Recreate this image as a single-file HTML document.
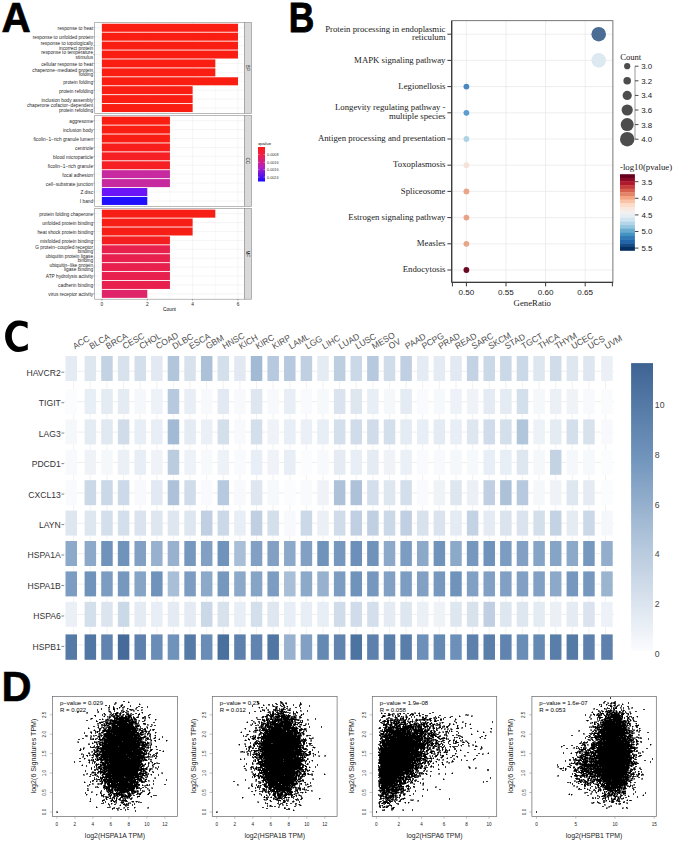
<!DOCTYPE html>
<html><head><meta charset="utf-8"><style>
html,body{margin:0;padding:0;background:#fff;}
svg{display:block;}
</style></head><body>
<svg width="685" height="841" viewBox="0 0 685 841">
<rect width="685" height="841" fill="#fff"/>
<g id="A">
<text x="0" y="0" transform="translate(1.6 32.0) scale(0.95 1)" font-family="&quot;Liberation Sans&quot;, sans-serif" font-weight="bold" font-size="42.6" fill="#000" stroke="#000" stroke-width="0.7">A</text>
<rect x="94.7" y="22.4" width="149.60000000000002" height="91.0" fill="#fff"/>
<line x1="101.9" y1="22.4" x2="101.9" y2="113.4" stroke="#ebebeb" stroke-width="0.5"/>
<line x1="124.6" y1="22.4" x2="124.6" y2="113.4" stroke="#ebebeb" stroke-width="0.3"/>
<line x1="147.3" y1="22.4" x2="147.3" y2="113.4" stroke="#ebebeb" stroke-width="0.5"/>
<line x1="169.9" y1="22.4" x2="169.9" y2="113.4" stroke="#ebebeb" stroke-width="0.3"/>
<line x1="192.6" y1="22.4" x2="192.6" y2="113.4" stroke="#ebebeb" stroke-width="0.5"/>
<line x1="215.3" y1="22.4" x2="215.3" y2="113.4" stroke="#ebebeb" stroke-width="0.3"/>
<line x1="238.0" y1="22.4" x2="238.0" y2="113.4" stroke="#ebebeb" stroke-width="0.5"/>
<line x1="94.7" y1="27.75" x2="244.3" y2="27.75" stroke="#ebebeb" stroke-width="0.5"/>
<line x1="94.7" y1="36.67" x2="244.3" y2="36.67" stroke="#ebebeb" stroke-width="0.5"/>
<line x1="94.7" y1="45.60" x2="244.3" y2="45.60" stroke="#ebebeb" stroke-width="0.5"/>
<line x1="94.7" y1="54.52" x2="244.3" y2="54.52" stroke="#ebebeb" stroke-width="0.5"/>
<line x1="94.7" y1="63.44" x2="244.3" y2="63.44" stroke="#ebebeb" stroke-width="0.5"/>
<line x1="94.7" y1="72.36" x2="244.3" y2="72.36" stroke="#ebebeb" stroke-width="0.5"/>
<line x1="94.7" y1="81.28" x2="244.3" y2="81.28" stroke="#ebebeb" stroke-width="0.5"/>
<line x1="94.7" y1="90.20" x2="244.3" y2="90.20" stroke="#ebebeb" stroke-width="0.5"/>
<line x1="94.7" y1="99.13" x2="244.3" y2="99.13" stroke="#ebebeb" stroke-width="0.5"/>
<line x1="94.7" y1="108.05" x2="244.3" y2="108.05" stroke="#ebebeb" stroke-width="0.5"/>
<rect x="101.9" y="23.74" width="136.08" height="8.03" fill="#f91d12"/>
<line x1="93.4" y1="27.75" x2="94.7" y2="27.75" stroke="#333" stroke-width="0.4"/>
<text x="93.1" y="30.15" text-anchor="end" font-family="&quot;Liberation Sans&quot;, sans-serif" font-size="4.77" fill="#262626">response to heat</text>
<rect x="101.9" y="32.66" width="136.08" height="8.03" fill="#f91d12"/>
<line x1="93.4" y1="36.67" x2="94.7" y2="36.67" stroke="#333" stroke-width="0.4"/>
<text x="93.1" y="39.07" text-anchor="end" font-family="&quot;Liberation Sans&quot;, sans-serif" font-size="4.77" fill="#262626">response to unfolded protein</text>
<rect x="101.9" y="41.58" width="136.08" height="8.03" fill="#f91d12"/>
<line x1="93.4" y1="45.60" x2="94.7" y2="45.60" stroke="#333" stroke-width="0.4"/>
<text x="93.1" y="45.00" text-anchor="end" font-family="&quot;Liberation Sans&quot;, sans-serif" font-size="4.77" fill="#262626">response to topologically</text>
<text x="93.1" y="49.70" text-anchor="end" font-family="&quot;Liberation Sans&quot;, sans-serif" font-size="4.77" fill="#262626">incorrect protein</text>
<rect x="101.9" y="50.50" width="136.08" height="8.03" fill="#f91d12"/>
<line x1="93.4" y1="54.52" x2="94.7" y2="54.52" stroke="#333" stroke-width="0.4"/>
<text x="93.1" y="53.92" text-anchor="end" font-family="&quot;Liberation Sans&quot;, sans-serif" font-size="4.77" fill="#262626">response to temperature</text>
<text x="93.1" y="58.62" text-anchor="end" font-family="&quot;Liberation Sans&quot;, sans-serif" font-size="4.77" fill="#262626">stimulus</text>
<rect x="101.9" y="59.42" width="113.40" height="8.03" fill="#f91d12"/>
<line x1="93.4" y1="63.44" x2="94.7" y2="63.44" stroke="#333" stroke-width="0.4"/>
<text x="93.1" y="65.84" text-anchor="end" font-family="&quot;Liberation Sans&quot;, sans-serif" font-size="4.77" fill="#262626">cellular response to heat</text>
<rect x="101.9" y="68.35" width="113.40" height="8.03" fill="#f91d12"/>
<line x1="93.4" y1="72.36" x2="94.7" y2="72.36" stroke="#333" stroke-width="0.4"/>
<text x="93.1" y="71.76" text-anchor="end" font-family="&quot;Liberation Sans&quot;, sans-serif" font-size="4.77" fill="#262626">chaperone−mediated protein</text>
<text x="93.1" y="76.46" text-anchor="end" font-family="&quot;Liberation Sans&quot;, sans-serif" font-size="4.77" fill="#262626">folding</text>
<rect x="101.9" y="77.27" width="136.08" height="8.03" fill="#f91d12"/>
<line x1="93.4" y1="81.28" x2="94.7" y2="81.28" stroke="#333" stroke-width="0.4"/>
<text x="93.1" y="83.68" text-anchor="end" font-family="&quot;Liberation Sans&quot;, sans-serif" font-size="4.77" fill="#262626">protein folding</text>
<rect x="101.9" y="86.19" width="90.72" height="8.03" fill="#f91d12"/>
<line x1="93.4" y1="90.20" x2="94.7" y2="90.20" stroke="#333" stroke-width="0.4"/>
<text x="93.1" y="92.60" text-anchor="end" font-family="&quot;Liberation Sans&quot;, sans-serif" font-size="4.77" fill="#262626">protein refolding</text>
<rect x="101.9" y="95.11" width="90.72" height="8.03" fill="#f91d12"/>
<line x1="93.4" y1="99.13" x2="94.7" y2="99.13" stroke="#333" stroke-width="0.4"/>
<text x="93.1" y="101.53" text-anchor="end" font-family="&quot;Liberation Sans&quot;, sans-serif" font-size="4.77" fill="#262626">inclusion body assembly</text>
<rect x="101.9" y="104.03" width="90.72" height="8.03" fill="#f91d12"/>
<line x1="93.4" y1="108.05" x2="94.7" y2="108.05" stroke="#333" stroke-width="0.4"/>
<text x="93.1" y="107.45" text-anchor="end" font-family="&quot;Liberation Sans&quot;, sans-serif" font-size="4.77" fill="#262626">chaperone cofactor−dependent</text>
<text x="93.1" y="112.15" text-anchor="end" font-family="&quot;Liberation Sans&quot;, sans-serif" font-size="4.77" fill="#262626">protein refolding</text>
<rect x="94.7" y="22.4" width="149.60000000000002" height="91.0" fill="none" stroke="#8c8c8c" stroke-width="0.6"/>
<rect x="244.3" y="22.4" width="7.299999999999983" height="91.0" fill="#d9d9d9" stroke="#8c8c8c" stroke-width="0.6"/>
<text x="246.35" y="67.90" text-anchor="middle" transform="rotate(90 246.35 67.90)" font-family="&quot;Liberation Sans&quot;, sans-serif" font-size="4.6" fill="#1a1a1a">BP</text>
<rect x="94.7" y="115.3" width="149.60000000000002" height="91.00000000000001" fill="#fff"/>
<line x1="101.9" y1="115.3" x2="101.9" y2="206.3" stroke="#ebebeb" stroke-width="0.5"/>
<line x1="124.6" y1="115.3" x2="124.6" y2="206.3" stroke="#ebebeb" stroke-width="0.3"/>
<line x1="147.3" y1="115.3" x2="147.3" y2="206.3" stroke="#ebebeb" stroke-width="0.5"/>
<line x1="169.9" y1="115.3" x2="169.9" y2="206.3" stroke="#ebebeb" stroke-width="0.3"/>
<line x1="192.6" y1="115.3" x2="192.6" y2="206.3" stroke="#ebebeb" stroke-width="0.5"/>
<line x1="215.3" y1="115.3" x2="215.3" y2="206.3" stroke="#ebebeb" stroke-width="0.3"/>
<line x1="238.0" y1="115.3" x2="238.0" y2="206.3" stroke="#ebebeb" stroke-width="0.5"/>
<line x1="94.7" y1="120.65" x2="244.3" y2="120.65" stroke="#ebebeb" stroke-width="0.5"/>
<line x1="94.7" y1="129.57" x2="244.3" y2="129.57" stroke="#ebebeb" stroke-width="0.5"/>
<line x1="94.7" y1="138.50" x2="244.3" y2="138.50" stroke="#ebebeb" stroke-width="0.5"/>
<line x1="94.7" y1="147.42" x2="244.3" y2="147.42" stroke="#ebebeb" stroke-width="0.5"/>
<line x1="94.7" y1="156.34" x2="244.3" y2="156.34" stroke="#ebebeb" stroke-width="0.5"/>
<line x1="94.7" y1="165.26" x2="244.3" y2="165.26" stroke="#ebebeb" stroke-width="0.5"/>
<line x1="94.7" y1="174.18" x2="244.3" y2="174.18" stroke="#ebebeb" stroke-width="0.5"/>
<line x1="94.7" y1="183.10" x2="244.3" y2="183.10" stroke="#ebebeb" stroke-width="0.5"/>
<line x1="94.7" y1="192.03" x2="244.3" y2="192.03" stroke="#ebebeb" stroke-width="0.5"/>
<line x1="94.7" y1="200.95" x2="244.3" y2="200.95" stroke="#ebebeb" stroke-width="0.5"/>
<rect x="101.9" y="116.64" width="68.04" height="8.03" fill="#f91d12"/>
<line x1="93.4" y1="120.65" x2="94.7" y2="120.65" stroke="#333" stroke-width="0.4"/>
<text x="93.1" y="123.05" text-anchor="end" font-family="&quot;Liberation Sans&quot;, sans-serif" font-size="4.77" fill="#262626">aggresome</text>
<rect x="101.9" y="125.56" width="68.04" height="8.03" fill="#f91d12"/>
<line x1="93.4" y1="129.57" x2="94.7" y2="129.57" stroke="#333" stroke-width="0.4"/>
<text x="93.1" y="131.97" text-anchor="end" font-family="&quot;Liberation Sans&quot;, sans-serif" font-size="4.77" fill="#262626">inclusion body</text>
<rect x="101.9" y="134.48" width="68.04" height="8.03" fill="#f91e14"/>
<line x1="93.4" y1="138.50" x2="94.7" y2="138.50" stroke="#333" stroke-width="0.4"/>
<text x="93.1" y="140.90" text-anchor="end" font-family="&quot;Liberation Sans&quot;, sans-serif" font-size="4.77" fill="#262626">ficolin−1−rich granule lumen</text>
<rect x="101.9" y="143.40" width="68.04" height="8.03" fill="#f71e1c"/>
<line x1="93.4" y1="147.42" x2="94.7" y2="147.42" stroke="#333" stroke-width="0.4"/>
<text x="93.1" y="149.82" text-anchor="end" font-family="&quot;Liberation Sans&quot;, sans-serif" font-size="4.77" fill="#262626">centriole</text>
<rect x="101.9" y="152.32" width="68.04" height="8.03" fill="#f51f24"/>
<line x1="93.4" y1="156.34" x2="94.7" y2="156.34" stroke="#333" stroke-width="0.4"/>
<text x="93.1" y="158.74" text-anchor="end" font-family="&quot;Liberation Sans&quot;, sans-serif" font-size="4.77" fill="#262626">blood microparticle</text>
<rect x="101.9" y="161.25" width="68.04" height="8.03" fill="#f51f24"/>
<line x1="93.4" y1="165.26" x2="94.7" y2="165.26" stroke="#333" stroke-width="0.4"/>
<text x="93.1" y="167.66" text-anchor="end" font-family="&quot;Liberation Sans&quot;, sans-serif" font-size="4.77" fill="#262626">ficolin−1−rich granule</text>
<rect x="101.9" y="170.17" width="68.04" height="8.03" fill="#c62a9e"/>
<line x1="93.4" y1="174.18" x2="94.7" y2="174.18" stroke="#333" stroke-width="0.4"/>
<text x="93.1" y="176.58" text-anchor="end" font-family="&quot;Liberation Sans&quot;, sans-serif" font-size="4.77" fill="#262626">focal adhesion</text>
<rect x="101.9" y="179.09" width="68.04" height="8.03" fill="#c62a9e"/>
<line x1="93.4" y1="183.10" x2="94.7" y2="183.10" stroke="#333" stroke-width="0.4"/>
<text x="93.1" y="185.50" text-anchor="end" font-family="&quot;Liberation Sans&quot;, sans-serif" font-size="4.77" fill="#262626">cell−substrate junction</text>
<rect x="101.9" y="188.01" width="45.36" height="8.03" fill="#6c14f8"/>
<line x1="93.4" y1="192.03" x2="94.7" y2="192.03" stroke="#333" stroke-width="0.4"/>
<text x="93.1" y="194.43" text-anchor="end" font-family="&quot;Liberation Sans&quot;, sans-serif" font-size="4.77" fill="#262626">Z disc</text>
<rect x="101.9" y="196.93" width="45.36" height="8.03" fill="#2010fd"/>
<line x1="93.4" y1="200.95" x2="94.7" y2="200.95" stroke="#333" stroke-width="0.4"/>
<text x="93.1" y="203.35" text-anchor="end" font-family="&quot;Liberation Sans&quot;, sans-serif" font-size="4.77" fill="#262626">I band</text>
<rect x="94.7" y="115.3" width="149.60000000000002" height="91.00000000000001" fill="none" stroke="#8c8c8c" stroke-width="0.6"/>
<rect x="244.3" y="115.3" width="7.299999999999983" height="91.00000000000001" fill="#d9d9d9" stroke="#8c8c8c" stroke-width="0.6"/>
<text x="246.35" y="160.80" text-anchor="middle" transform="rotate(90 246.35 160.80)" font-family="&quot;Liberation Sans&quot;, sans-serif" font-size="4.6" fill="#1a1a1a">CC</text>
<rect x="94.7" y="208.3" width="149.60000000000002" height="90.89999999999998" fill="#fff"/>
<line x1="101.9" y1="208.3" x2="101.9" y2="299.2" stroke="#ebebeb" stroke-width="0.5"/>
<line x1="124.6" y1="208.3" x2="124.6" y2="299.2" stroke="#ebebeb" stroke-width="0.3"/>
<line x1="147.3" y1="208.3" x2="147.3" y2="299.2" stroke="#ebebeb" stroke-width="0.5"/>
<line x1="169.9" y1="208.3" x2="169.9" y2="299.2" stroke="#ebebeb" stroke-width="0.3"/>
<line x1="192.6" y1="208.3" x2="192.6" y2="299.2" stroke="#ebebeb" stroke-width="0.5"/>
<line x1="215.3" y1="208.3" x2="215.3" y2="299.2" stroke="#ebebeb" stroke-width="0.3"/>
<line x1="238.0" y1="208.3" x2="238.0" y2="299.2" stroke="#ebebeb" stroke-width="0.5"/>
<line x1="94.7" y1="213.65" x2="244.3" y2="213.65" stroke="#ebebeb" stroke-width="0.5"/>
<line x1="94.7" y1="222.56" x2="244.3" y2="222.56" stroke="#ebebeb" stroke-width="0.5"/>
<line x1="94.7" y1="231.47" x2="244.3" y2="231.47" stroke="#ebebeb" stroke-width="0.5"/>
<line x1="94.7" y1="240.38" x2="244.3" y2="240.38" stroke="#ebebeb" stroke-width="0.5"/>
<line x1="94.7" y1="249.29" x2="244.3" y2="249.29" stroke="#ebebeb" stroke-width="0.5"/>
<line x1="94.7" y1="258.21" x2="244.3" y2="258.21" stroke="#ebebeb" stroke-width="0.5"/>
<line x1="94.7" y1="267.12" x2="244.3" y2="267.12" stroke="#ebebeb" stroke-width="0.5"/>
<line x1="94.7" y1="276.03" x2="244.3" y2="276.03" stroke="#ebebeb" stroke-width="0.5"/>
<line x1="94.7" y1="284.94" x2="244.3" y2="284.94" stroke="#ebebeb" stroke-width="0.5"/>
<line x1="94.7" y1="293.85" x2="244.3" y2="293.85" stroke="#ebebeb" stroke-width="0.5"/>
<rect x="101.9" y="209.64" width="113.40" height="8.02" fill="#f71e16"/>
<line x1="93.4" y1="213.65" x2="94.7" y2="213.65" stroke="#333" stroke-width="0.4"/>
<text x="93.1" y="216.05" text-anchor="end" font-family="&quot;Liberation Sans&quot;, sans-serif" font-size="4.77" fill="#262626">protein folding chaperone</text>
<rect x="101.9" y="218.55" width="90.72" height="8.02" fill="#f71e16"/>
<line x1="93.4" y1="222.56" x2="94.7" y2="222.56" stroke="#333" stroke-width="0.4"/>
<text x="93.1" y="224.96" text-anchor="end" font-family="&quot;Liberation Sans&quot;, sans-serif" font-size="4.77" fill="#262626">unfolded protein binding</text>
<rect x="101.9" y="227.46" width="90.72" height="8.02" fill="#f71e16"/>
<line x1="93.4" y1="231.47" x2="94.7" y2="231.47" stroke="#333" stroke-width="0.4"/>
<text x="93.1" y="233.87" text-anchor="end" font-family="&quot;Liberation Sans&quot;, sans-serif" font-size="4.77" fill="#262626">heat shock protein binding</text>
<rect x="101.9" y="236.37" width="68.04" height="8.02" fill="#f41e20"/>
<line x1="93.4" y1="240.38" x2="94.7" y2="240.38" stroke="#333" stroke-width="0.4"/>
<text x="93.1" y="242.78" text-anchor="end" font-family="&quot;Liberation Sans&quot;, sans-serif" font-size="4.77" fill="#262626">misfolded protein binding</text>
<rect x="101.9" y="245.28" width="68.04" height="8.02" fill="#e8204e"/>
<line x1="93.4" y1="249.29" x2="94.7" y2="249.29" stroke="#333" stroke-width="0.4"/>
<text x="93.1" y="248.69" text-anchor="end" font-family="&quot;Liberation Sans&quot;, sans-serif" font-size="4.77" fill="#262626">G protein−coupled receptor</text>
<text x="93.1" y="253.39" text-anchor="end" font-family="&quot;Liberation Sans&quot;, sans-serif" font-size="4.77" fill="#262626">binding</text>
<rect x="101.9" y="254.20" width="68.04" height="8.02" fill="#e8204e"/>
<line x1="93.4" y1="258.21" x2="94.7" y2="258.21" stroke="#333" stroke-width="0.4"/>
<text x="93.1" y="257.61" text-anchor="end" font-family="&quot;Liberation Sans&quot;, sans-serif" font-size="4.77" fill="#262626">ubiquitin protein ligase</text>
<text x="93.1" y="262.31" text-anchor="end" font-family="&quot;Liberation Sans&quot;, sans-serif" font-size="4.77" fill="#262626">binding</text>
<rect x="101.9" y="263.11" width="68.04" height="8.02" fill="#e8204e"/>
<line x1="93.4" y1="267.12" x2="94.7" y2="267.12" stroke="#333" stroke-width="0.4"/>
<text x="93.1" y="266.52" text-anchor="end" font-family="&quot;Liberation Sans&quot;, sans-serif" font-size="4.77" fill="#262626">ubiquitin−like protein</text>
<text x="93.1" y="271.22" text-anchor="end" font-family="&quot;Liberation Sans&quot;, sans-serif" font-size="4.77" fill="#262626">ligase binding</text>
<rect x="101.9" y="272.02" width="68.04" height="8.02" fill="#e8204e"/>
<line x1="93.4" y1="276.03" x2="94.7" y2="276.03" stroke="#333" stroke-width="0.4"/>
<text x="93.1" y="278.43" text-anchor="end" font-family="&quot;Liberation Sans&quot;, sans-serif" font-size="4.77" fill="#262626">ATP hydrolysis activity</text>
<rect x="101.9" y="280.93" width="68.04" height="8.02" fill="#e8204e"/>
<line x1="93.4" y1="284.94" x2="94.7" y2="284.94" stroke="#333" stroke-width="0.4"/>
<text x="93.1" y="287.34" text-anchor="end" font-family="&quot;Liberation Sans&quot;, sans-serif" font-size="4.77" fill="#262626">cadherin binding</text>
<rect x="101.9" y="289.84" width="45.36" height="8.02" fill="#e0246a"/>
<line x1="93.4" y1="293.85" x2="94.7" y2="293.85" stroke="#333" stroke-width="0.4"/>
<text x="93.1" y="296.25" text-anchor="end" font-family="&quot;Liberation Sans&quot;, sans-serif" font-size="4.77" fill="#262626">virus receptor activity</text>
<rect x="94.7" y="208.3" width="149.60000000000002" height="90.89999999999998" fill="none" stroke="#8c8c8c" stroke-width="0.6"/>
<rect x="244.3" y="208.3" width="7.299999999999983" height="90.89999999999998" fill="#d9d9d9" stroke="#8c8c8c" stroke-width="0.6"/>
<text x="246.35" y="253.75" text-anchor="middle" transform="rotate(90 246.35 253.75)" font-family="&quot;Liberation Sans&quot;, sans-serif" font-size="4.6" fill="#1a1a1a">MF</text>
<line x1="101.9" y1="299.2" x2="101.9" y2="300.6" stroke="#333" stroke-width="0.4"/>
<text x="101.9" y="306.1" text-anchor="middle" font-family="&quot;Liberation Sans&quot;, sans-serif" font-size="4.77" fill="#262626">0</text>
<line x1="147.3" y1="299.2" x2="147.3" y2="300.6" stroke="#333" stroke-width="0.4"/>
<text x="147.3" y="306.1" text-anchor="middle" font-family="&quot;Liberation Sans&quot;, sans-serif" font-size="4.77" fill="#262626">2</text>
<line x1="192.6" y1="299.2" x2="192.6" y2="300.6" stroke="#333" stroke-width="0.4"/>
<text x="192.6" y="306.1" text-anchor="middle" font-family="&quot;Liberation Sans&quot;, sans-serif" font-size="4.77" fill="#262626">4</text>
<line x1="238.0" y1="299.2" x2="238.0" y2="300.6" stroke="#333" stroke-width="0.4"/>
<text x="238.0" y="306.1" text-anchor="middle" font-family="&quot;Liberation Sans&quot;, sans-serif" font-size="4.77" fill="#262626">6</text>
<text x="169.5" y="311" text-anchor="middle" font-family="&quot;Liberation Sans&quot;, sans-serif" font-size="4.8" fill="#000">Count</text>
<text x="258.2" y="145" font-family="&quot;Liberation Sans&quot;, sans-serif" font-size="4.4" fill="#111">qvalue</text>
<defs><linearGradient id="qg" x1="0" y1="0" x2="0" y2="1"><stop offset="0" stop-color="#ff1a14"/><stop offset="0.3" stop-color="#e8205a"/><stop offset="0.6" stop-color="#b020c8"/><stop offset="1" stop-color="#1a0aff"/></linearGradient></defs>
<rect x="258" y="147" width="7" height="34.5" fill="url(#qg)"/>
<line x1="258" y1="154.6" x2="259.4" y2="154.6" stroke="#fff" stroke-width="0.4"/><line x1="263.6" y1="154.6" x2="265" y2="154.6" stroke="#fff" stroke-width="0.4"/>
<text x="267" y="156.0" font-family="&quot;Liberation Sans&quot;, sans-serif" font-size="3.75" fill="#333">0.0008</text>
<line x1="258" y1="162.3" x2="259.4" y2="162.3" stroke="#fff" stroke-width="0.4"/><line x1="263.6" y1="162.3" x2="265" y2="162.3" stroke="#fff" stroke-width="0.4"/>
<text x="267" y="163.7" font-family="&quot;Liberation Sans&quot;, sans-serif" font-size="3.75" fill="#333">0.0016</text>
<line x1="258" y1="169.6" x2="259.4" y2="169.6" stroke="#fff" stroke-width="0.4"/><line x1="263.6" y1="169.6" x2="265" y2="169.6" stroke="#fff" stroke-width="0.4"/>
<text x="267" y="171.0" font-family="&quot;Liberation Sans&quot;, sans-serif" font-size="3.75" fill="#333">0.0016</text>
<line x1="258" y1="177.1" x2="259.4" y2="177.1" stroke="#fff" stroke-width="0.4"/><line x1="263.6" y1="177.1" x2="265" y2="177.1" stroke="#fff" stroke-width="0.4"/>
<text x="267" y="178.5" font-family="&quot;Liberation Sans&quot;, sans-serif" font-size="3.75" fill="#333">0.0024</text>
</g>
<g id="B">
<text x="0" y="0" transform="translate(288.7 32.0) scale(0.835 1)" font-family="&quot;Liberation Sans&quot;, sans-serif" font-weight="bold" font-size="42.4" fill="#000" stroke="#000" stroke-width="0.9">B</text>
<line x1="466.4" y1="20.7" x2="466.4" y2="282.3" stroke="#e6e6e6" stroke-width="0.7"/>
<line x1="506.0" y1="20.7" x2="506.0" y2="282.3" stroke="#e6e6e6" stroke-width="0.7"/>
<line x1="545.6" y1="20.7" x2="545.6" y2="282.3" stroke="#e6e6e6" stroke-width="0.7"/>
<line x1="585.2" y1="20.7" x2="585.2" y2="282.3" stroke="#e6e6e6" stroke-width="0.7"/>
<line x1="451.7" y1="34.2" x2="612.9" y2="34.2" stroke="#e6e6e6" stroke-width="0.7"/>
<line x1="451.7" y1="60.4" x2="612.9" y2="60.4" stroke="#e6e6e6" stroke-width="0.7"/>
<line x1="451.7" y1="86.6" x2="612.9" y2="86.6" stroke="#e6e6e6" stroke-width="0.7"/>
<line x1="451.7" y1="112.8" x2="612.9" y2="112.8" stroke="#e6e6e6" stroke-width="0.7"/>
<line x1="451.7" y1="139.0" x2="612.9" y2="139.0" stroke="#e6e6e6" stroke-width="0.7"/>
<line x1="451.7" y1="165.2" x2="612.9" y2="165.2" stroke="#e6e6e6" stroke-width="0.7"/>
<line x1="451.7" y1="191.4" x2="612.9" y2="191.4" stroke="#e6e6e6" stroke-width="0.7"/>
<line x1="451.7" y1="217.6" x2="612.9" y2="217.6" stroke="#e6e6e6" stroke-width="0.7"/>
<line x1="451.7" y1="243.8" x2="612.9" y2="243.8" stroke="#e6e6e6" stroke-width="0.7"/>
<line x1="451.7" y1="270.0" x2="612.9" y2="270.0" stroke="#e6e6e6" stroke-width="0.7"/>
<rect x="451.7" y="20.7" width="161.2" height="261.6" fill="none" stroke="#555" stroke-width="0.8"/>
<line x1="451.7" y1="20.7" x2="451.7" y2="282.3" stroke="#3a3a3a" stroke-width="1.3"/>
<line x1="451.7" y1="282.3" x2="612.9" y2="282.3" stroke="#3a3a3a" stroke-width="1.3"/>
<line x1="447.4" y1="34.2" x2="451.7" y2="34.2" stroke="#3a3a3a" stroke-width="1"/>
<text x="445.5" y="31.8" text-anchor="end" font-family="&quot;Liberation Serif&quot;, serif" font-size="8.75" fill="#222">Protein processing in endoplasmic</text>
<text x="445.5" y="40.4" text-anchor="end" font-family="&quot;Liberation Serif&quot;, serif" font-size="8.75" fill="#222">reticulum</text>
<line x1="447.4" y1="60.4" x2="451.7" y2="60.4" stroke="#3a3a3a" stroke-width="1"/>
<text x="445.5" y="62.6" text-anchor="end" font-family="&quot;Liberation Serif&quot;, serif" font-size="8.75" fill="#222">MAPK signaling pathway</text>
<line x1="447.4" y1="86.6" x2="451.7" y2="86.6" stroke="#3a3a3a" stroke-width="1"/>
<text x="445.5" y="88.8" text-anchor="end" font-family="&quot;Liberation Serif&quot;, serif" font-size="8.75" fill="#222">Legionellosis</text>
<line x1="447.4" y1="112.8" x2="451.7" y2="112.8" stroke="#3a3a3a" stroke-width="1"/>
<text x="445.5" y="110.4" text-anchor="end" font-family="&quot;Liberation Serif&quot;, serif" font-size="8.75" fill="#222">Longevity regulating pathway -</text>
<text x="445.5" y="119.0" text-anchor="end" font-family="&quot;Liberation Serif&quot;, serif" font-size="8.75" fill="#222">multiple species</text>
<line x1="447.4" y1="139.0" x2="451.7" y2="139.0" stroke="#3a3a3a" stroke-width="1"/>
<text x="445.5" y="141.2" text-anchor="end" font-family="&quot;Liberation Serif&quot;, serif" font-size="8.75" fill="#222">Antigen processing and presentation</text>
<line x1="447.4" y1="165.2" x2="451.7" y2="165.2" stroke="#3a3a3a" stroke-width="1"/>
<text x="445.5" y="167.4" text-anchor="end" font-family="&quot;Liberation Serif&quot;, serif" font-size="8.75" fill="#222">Toxoplasmosis</text>
<line x1="447.4" y1="191.4" x2="451.7" y2="191.4" stroke="#3a3a3a" stroke-width="1"/>
<text x="445.5" y="193.6" text-anchor="end" font-family="&quot;Liberation Serif&quot;, serif" font-size="8.75" fill="#222">Spliceosome</text>
<line x1="447.4" y1="217.6" x2="451.7" y2="217.6" stroke="#3a3a3a" stroke-width="1"/>
<text x="445.5" y="219.8" text-anchor="end" font-family="&quot;Liberation Serif&quot;, serif" font-size="8.75" fill="#222">Estrogen signaling pathway</text>
<line x1="447.4" y1="243.8" x2="451.7" y2="243.8" stroke="#3a3a3a" stroke-width="1"/>
<text x="445.5" y="246.0" text-anchor="end" font-family="&quot;Liberation Serif&quot;, serif" font-size="8.75" fill="#222">Measles</text>
<line x1="447.4" y1="270.0" x2="451.7" y2="270.0" stroke="#3a3a3a" stroke-width="1"/>
<text x="445.5" y="272.2" text-anchor="end" font-family="&quot;Liberation Serif&quot;, serif" font-size="8.75" fill="#222">Endocytosis</text>
<line x1="466.4" y1="282.3" x2="466.4" y2="286.4" stroke="#3a3a3a" stroke-width="1"/>
<text x="466.4" y="295.2" text-anchor="middle" font-family="&quot;Liberation Sans&quot;, sans-serif" font-size="8.1" fill="#1a1a1a">0.50</text>
<line x1="506.0" y1="282.3" x2="506.0" y2="286.4" stroke="#3a3a3a" stroke-width="1"/>
<text x="506.0" y="295.2" text-anchor="middle" font-family="&quot;Liberation Sans&quot;, sans-serif" font-size="8.1" fill="#1a1a1a">0.55</text>
<line x1="545.6" y1="282.3" x2="545.6" y2="286.4" stroke="#3a3a3a" stroke-width="1"/>
<text x="545.6" y="295.2" text-anchor="middle" font-family="&quot;Liberation Sans&quot;, sans-serif" font-size="8.1" fill="#1a1a1a">0.60</text>
<line x1="585.2" y1="282.3" x2="585.2" y2="286.4" stroke="#3a3a3a" stroke-width="1"/>
<text x="585.2" y="295.2" text-anchor="middle" font-family="&quot;Liberation Sans&quot;, sans-serif" font-size="8.1" fill="#1a1a1a">0.65</text>
<line x1="452.4" y1="282.3" x2="452.4" y2="286.4" stroke="#3a3a3a" stroke-width="1"/>
<line x1="612.4" y1="282.3" x2="612.4" y2="286.4" stroke="#3a3a3a" stroke-width="1"/>
<text x="532.3" y="306" text-anchor="middle" font-family="&quot;Liberation Serif&quot;, serif" font-size="8.75" fill="#1a1a1a">GeneRatio</text>
<circle cx="598.7" cy="34.2" r="7.3" fill="#4b6c95"/>
<circle cx="598.7" cy="60.4" r="7.3" fill="#dce9f0"/>
<circle cx="466.4" cy="86.6" r="2.9" fill="#4a88c0"/>
<circle cx="466.4" cy="112.8" r="2.9" fill="#5d9ecf"/>
<circle cx="466.4" cy="139.0" r="2.9" fill="#aed3e6"/>
<circle cx="466.4" cy="165.2" r="2.9" fill="#f4e3d9"/>
<circle cx="466.4" cy="191.4" r="2.9" fill="#e9a585"/>
<circle cx="466.4" cy="217.6" r="2.9" fill="#e9a283"/>
<circle cx="466.4" cy="243.8" r="2.9" fill="#e8a688"/>
<circle cx="466.4" cy="270.0" r="2.9" fill="#6a0a22"/>
<text x="620.2" y="59.8" font-family="&quot;Liberation Serif&quot;, serif" font-size="8.6" fill="#1a1a1a">Count</text>
<line x1="635" y1="66.2" x2="635" y2="139.2" stroke="#999" stroke-width="1"/>
<circle cx="627.2" cy="66.2" r="3.1" fill="#4d4d4d"/>
<line x1="635" y1="66.2" x2="638.5" y2="66.2" stroke="#333" stroke-width="0.9"/>
<text x="641.2" y="69.1" font-family="&quot;Liberation Sans&quot;, sans-serif" font-size="7.9" fill="#1a1a1a">3.0</text>
<circle cx="627.2" cy="80.8" r="3.8" fill="#4d4d4d"/>
<line x1="635" y1="80.8" x2="638.5" y2="80.8" stroke="#333" stroke-width="0.9"/>
<text x="641.2" y="83.7" font-family="&quot;Liberation Sans&quot;, sans-serif" font-size="7.9" fill="#1a1a1a">3.2</text>
<circle cx="627.2" cy="95.4" r="4.6" fill="#4d4d4d"/>
<line x1="635" y1="95.4" x2="638.5" y2="95.4" stroke="#333" stroke-width="0.9"/>
<text x="641.2" y="98.3" font-family="&quot;Liberation Sans&quot;, sans-serif" font-size="7.9" fill="#1a1a1a">3.4</text>
<circle cx="627.2" cy="110.0" r="5.6" fill="#4d4d4d"/>
<line x1="635" y1="110.0" x2="638.5" y2="110.0" stroke="#333" stroke-width="0.9"/>
<text x="641.2" y="112.9" font-family="&quot;Liberation Sans&quot;, sans-serif" font-size="7.9" fill="#1a1a1a">3.6</text>
<circle cx="627.2" cy="124.6" r="6.5" fill="#4d4d4d"/>
<line x1="635" y1="124.6" x2="638.5" y2="124.6" stroke="#333" stroke-width="0.9"/>
<text x="641.2" y="127.5" font-family="&quot;Liberation Sans&quot;, sans-serif" font-size="7.9" fill="#1a1a1a">3.8</text>
<circle cx="627.2" cy="139.2" r="7.2" fill="#4d4d4d"/>
<line x1="635" y1="139.2" x2="638.5" y2="139.2" stroke="#333" stroke-width="0.9"/>
<text x="641.2" y="142.1" font-family="&quot;Liberation Sans&quot;, sans-serif" font-size="7.9" fill="#1a1a1a">4.0</text>
<text x="620" y="169.6" font-family="&quot;Liberation Serif&quot;, serif" font-size="8.78" fill="#1a1a1a">-log10(pvalue)</text>
<rect x="620" y="174.20" width="14.9" height="3.93" fill="#67001f"/>
<rect x="620" y="177.83" width="14.9" height="3.93" fill="#8a0b25"/>
<rect x="620" y="181.47" width="14.9" height="3.93" fill="#b2182b"/>
<rect x="620" y="185.10" width="14.9" height="3.93" fill="#c43c3c"/>
<rect x="620" y="188.73" width="14.9" height="3.93" fill="#d6604d"/>
<rect x="620" y="192.37" width="14.9" height="3.93" fill="#e58368"/>
<rect x="620" y="196.00" width="14.9" height="3.93" fill="#f4a582"/>
<rect x="620" y="199.63" width="14.9" height="3.93" fill="#f8c3a6"/>
<rect x="620" y="203.27" width="14.9" height="3.93" fill="#fddbc7"/>
<rect x="620" y="206.90" width="14.9" height="3.93" fill="#f8e8df"/>
<rect x="620" y="210.53" width="14.9" height="3.93" fill="#f2efee"/>
<rect x="620" y="214.17" width="14.9" height="3.93" fill="#e4eef4"/>
<rect x="620" y="217.80" width="14.9" height="3.93" fill="#d1e5f0"/>
<rect x="620" y="221.43" width="14.9" height="3.93" fill="#b4d5e8"/>
<rect x="620" y="225.07" width="14.9" height="3.93" fill="#92c5de"/>
<rect x="620" y="228.70" width="14.9" height="3.93" fill="#6aaccf"/>
<rect x="620" y="232.33" width="14.9" height="3.93" fill="#4393c3"/>
<rect x="620" y="235.97" width="14.9" height="3.93" fill="#3379b5"/>
<rect x="620" y="239.60" width="14.9" height="3.93" fill="#2166ac"/>
<rect x="620" y="243.23" width="14.9" height="3.93" fill="#144c88"/>
<rect x="620" y="246.87" width="14.9" height="3.93" fill="#053061"/>
<line x1="634.9" y1="181.7" x2="638.5" y2="181.7" stroke="#333" stroke-width="0.9"/>
<text x="641.4" y="184.6" font-family="&quot;Liberation Sans&quot;, sans-serif" font-size="7.9" fill="#1a1a1a">3.5</text>
<line x1="634.9" y1="198.3" x2="638.5" y2="198.3" stroke="#333" stroke-width="0.9"/>
<text x="641.4" y="201.2" font-family="&quot;Liberation Sans&quot;, sans-serif" font-size="7.9" fill="#1a1a1a">4.0</text>
<line x1="634.9" y1="214.9" x2="638.5" y2="214.9" stroke="#333" stroke-width="0.9"/>
<text x="641.4" y="217.8" font-family="&quot;Liberation Sans&quot;, sans-serif" font-size="7.9" fill="#1a1a1a">4.5</text>
<line x1="634.9" y1="231.5" x2="638.5" y2="231.5" stroke="#333" stroke-width="0.9"/>
<text x="641.4" y="234.4" font-family="&quot;Liberation Sans&quot;, sans-serif" font-size="7.9" fill="#1a1a1a">5.0</text>
<line x1="634.9" y1="248.1" x2="638.5" y2="248.1" stroke="#333" stroke-width="0.9"/>
<text x="641.4" y="251.0" font-family="&quot;Liberation Sans&quot;, sans-serif" font-size="7.9" fill="#1a1a1a">5.5</text>
</g>
<g id="C">
<path d="M27.6 322.2C25.0 321.0 21.5 320.5 18.0 320.5C10.9 320.5 5.1 327.5 5.1 336.2C5.1 344.9 10.9 351.9 18.0 351.9C21.7 351.9 25.2 351.0 27.8 349.8L27.8 343.5C25.6 345.6 23.0 346.8 20.0 346.8C15.5 346.8 11.8 342.1 11.8 336.2C11.8 330.3 15.5 325.7 20.0 325.7C23.0 325.7 25.4 326.8 27.6 328.6Z" fill="#000"/>
<line x1="73.7" y1="357" x2="73.7" y2="659" stroke="#eeeeee" stroke-width="0.8"/>
<line x1="90.3" y1="357" x2="90.3" y2="659" stroke="#eeeeee" stroke-width="0.8"/>
<line x1="106.9" y1="357" x2="106.9" y2="659" stroke="#eeeeee" stroke-width="0.8"/>
<line x1="123.6" y1="357" x2="123.6" y2="659" stroke="#eeeeee" stroke-width="0.8"/>
<line x1="140.2" y1="357" x2="140.2" y2="659" stroke="#eeeeee" stroke-width="0.8"/>
<line x1="156.8" y1="357" x2="156.8" y2="659" stroke="#eeeeee" stroke-width="0.8"/>
<line x1="173.4" y1="357" x2="173.4" y2="659" stroke="#eeeeee" stroke-width="0.8"/>
<line x1="190.0" y1="357" x2="190.0" y2="659" stroke="#eeeeee" stroke-width="0.8"/>
<line x1="206.7" y1="357" x2="206.7" y2="659" stroke="#eeeeee" stroke-width="0.8"/>
<line x1="223.3" y1="357" x2="223.3" y2="659" stroke="#eeeeee" stroke-width="0.8"/>
<line x1="239.9" y1="357" x2="239.9" y2="659" stroke="#eeeeee" stroke-width="0.8"/>
<line x1="256.5" y1="357" x2="256.5" y2="659" stroke="#eeeeee" stroke-width="0.8"/>
<line x1="273.1" y1="357" x2="273.1" y2="659" stroke="#eeeeee" stroke-width="0.8"/>
<line x1="289.8" y1="357" x2="289.8" y2="659" stroke="#eeeeee" stroke-width="0.8"/>
<line x1="306.4" y1="357" x2="306.4" y2="659" stroke="#eeeeee" stroke-width="0.8"/>
<line x1="323.0" y1="357" x2="323.0" y2="659" stroke="#eeeeee" stroke-width="0.8"/>
<line x1="339.6" y1="357" x2="339.6" y2="659" stroke="#eeeeee" stroke-width="0.8"/>
<line x1="356.2" y1="357" x2="356.2" y2="659" stroke="#eeeeee" stroke-width="0.8"/>
<line x1="372.9" y1="357" x2="372.9" y2="659" stroke="#eeeeee" stroke-width="0.8"/>
<line x1="389.5" y1="357" x2="389.5" y2="659" stroke="#eeeeee" stroke-width="0.8"/>
<line x1="406.1" y1="357" x2="406.1" y2="659" stroke="#eeeeee" stroke-width="0.8"/>
<line x1="422.7" y1="357" x2="422.7" y2="659" stroke="#eeeeee" stroke-width="0.8"/>
<line x1="439.3" y1="357" x2="439.3" y2="659" stroke="#eeeeee" stroke-width="0.8"/>
<line x1="456.0" y1="357" x2="456.0" y2="659" stroke="#eeeeee" stroke-width="0.8"/>
<line x1="472.6" y1="357" x2="472.6" y2="659" stroke="#eeeeee" stroke-width="0.8"/>
<line x1="489.2" y1="357" x2="489.2" y2="659" stroke="#eeeeee" stroke-width="0.8"/>
<line x1="505.8" y1="357" x2="505.8" y2="659" stroke="#eeeeee" stroke-width="0.8"/>
<line x1="522.4" y1="357" x2="522.4" y2="659" stroke="#eeeeee" stroke-width="0.8"/>
<line x1="539.1" y1="357" x2="539.1" y2="659" stroke="#eeeeee" stroke-width="0.8"/>
<line x1="555.7" y1="357" x2="555.7" y2="659" stroke="#eeeeee" stroke-width="0.8"/>
<line x1="572.3" y1="357" x2="572.3" y2="659" stroke="#eeeeee" stroke-width="0.8"/>
<line x1="588.9" y1="357" x2="588.9" y2="659" stroke="#eeeeee" stroke-width="0.8"/>
<line x1="605.5" y1="357" x2="605.5" y2="659" stroke="#eeeeee" stroke-width="0.8"/>
<line x1="64.2" y1="371.3" x2="614" y2="371.3" stroke="#ebebeb" stroke-width="0.8"/>
<line x1="64.2" y1="401.7" x2="614" y2="401.7" stroke="#ebebeb" stroke-width="0.8"/>
<line x1="64.2" y1="432.1" x2="614" y2="432.1" stroke="#ebebeb" stroke-width="0.8"/>
<line x1="64.2" y1="462.5" x2="614" y2="462.5" stroke="#ebebeb" stroke-width="0.8"/>
<line x1="64.2" y1="492.9" x2="614" y2="492.9" stroke="#ebebeb" stroke-width="0.8"/>
<line x1="64.2" y1="523.3" x2="614" y2="523.3" stroke="#ebebeb" stroke-width="0.8"/>
<line x1="64.2" y1="553.7" x2="614" y2="553.7" stroke="#ebebeb" stroke-width="0.8"/>
<line x1="64.2" y1="584.1" x2="614" y2="584.1" stroke="#ebebeb" stroke-width="0.8"/>
<line x1="64.2" y1="614.5" x2="614" y2="614.5" stroke="#ebebeb" stroke-width="0.8"/>
<line x1="64.2" y1="644.9" x2="614" y2="644.9" stroke="#ebebeb" stroke-width="0.8"/>
<rect x="65.50" y="356.00" width="11.5" height="25.0" fill="#e4ebf3"/>
<rect x="84.60" y="356.00" width="11.5" height="25.0" fill="#dee6f0"/>
<rect x="101.22" y="356.00" width="11.5" height="25.0" fill="#c4d3e4"/>
<rect x="117.84" y="356.00" width="11.5" height="25.0" fill="#d8e2ed"/>
<rect x="134.46" y="356.00" width="11.5" height="25.0" fill="#d4dfec"/>
<rect x="151.08" y="356.00" width="11.5" height="25.0" fill="#e2e9f2"/>
<rect x="167.70" y="356.00" width="11.5" height="25.0" fill="#b1c5db"/>
<rect x="184.32" y="356.00" width="11.5" height="25.0" fill="#d8e2ed"/>
<rect x="200.94" y="356.00" width="11.5" height="25.0" fill="#adc2d9"/>
<rect x="217.56" y="356.00" width="11.5" height="25.0" fill="#d4dfec"/>
<rect x="234.18" y="356.00" width="11.5" height="25.0" fill="#e2e9f2"/>
<rect x="250.80" y="356.00" width="11.5" height="25.0" fill="#a2bad4"/>
<rect x="267.42" y="356.00" width="11.5" height="25.0" fill="#b7c9de"/>
<rect x="284.04" y="356.00" width="11.5" height="25.0" fill="#b7c9de"/>
<rect x="300.66" y="356.00" width="11.5" height="25.0" fill="#c0d0e2"/>
<rect x="317.28" y="356.00" width="11.5" height="25.0" fill="#e4ebf3"/>
<rect x="333.90" y="356.00" width="11.5" height="25.0" fill="#bdcee0"/>
<rect x="350.52" y="356.00" width="11.5" height="25.0" fill="#cad8e7"/>
<rect x="367.14" y="356.00" width="11.5" height="25.0" fill="#b7c9de"/>
<rect x="383.76" y="356.00" width="11.5" height="25.0" fill="#d0dcea"/>
<rect x="400.38" y="356.00" width="11.5" height="25.0" fill="#c0d0e2"/>
<rect x="417.00" y="356.00" width="11.5" height="25.0" fill="#e4ebf3"/>
<rect x="433.62" y="356.00" width="11.5" height="25.0" fill="#e4ebf3"/>
<rect x="450.24" y="356.00" width="11.5" height="25.0" fill="#e2e9f2"/>
<rect x="466.86" y="356.00" width="11.5" height="25.0" fill="#c4d3e4"/>
<rect x="483.48" y="356.00" width="11.5" height="25.0" fill="#cad8e7"/>
<rect x="500.10" y="356.00" width="11.5" height="25.0" fill="#cad8e7"/>
<rect x="516.72" y="356.00" width="11.5" height="25.0" fill="#cad8e7"/>
<rect x="533.34" y="356.00" width="11.5" height="25.0" fill="#dee6f0"/>
<rect x="549.96" y="356.00" width="11.5" height="25.0" fill="#d0dcea"/>
<rect x="566.58" y="356.00" width="11.5" height="25.0" fill="#dee6f0"/>
<rect x="583.20" y="356.00" width="11.5" height="25.0" fill="#dee6f0"/>
<rect x="601.20" y="356.00" width="11.5" height="25.0" fill="#ebf0f7"/>
<line x1="61.4" y1="372.2" x2="64.2" y2="372.2" stroke="#555" stroke-width="0.7"/>
<text x="60.8" y="375.6" text-anchor="end" font-family="&quot;Liberation Sans&quot;, sans-serif" font-size="8.6" fill="#333">HAVCR2</text>
<rect x="65.50" y="389.00" width="11.5" height="25.0" fill="#fbfcfe"/>
<rect x="84.60" y="389.00" width="11.5" height="25.0" fill="#e8eef5"/>
<rect x="101.22" y="389.00" width="11.5" height="25.0" fill="#e4ebf3"/>
<rect x="117.84" y="389.00" width="11.5" height="25.0" fill="#e4ebf3"/>
<rect x="134.46" y="389.00" width="11.5" height="25.0" fill="#f5f8fb"/>
<rect x="151.08" y="389.00" width="11.5" height="25.0" fill="#edf2f8"/>
<rect x="167.70" y="389.00" width="11.5" height="25.0" fill="#b7c9de"/>
<rect x="184.32" y="389.00" width="11.5" height="25.0" fill="#e8eef5"/>
<rect x="200.94" y="389.00" width="11.5" height="25.0" fill="#f7f9fc"/>
<rect x="217.56" y="389.00" width="11.5" height="25.0" fill="#e2e9f2"/>
<rect x="234.18" y="389.00" width="11.5" height="25.0" fill="#f7f9fc"/>
<rect x="250.80" y="389.00" width="11.5" height="25.0" fill="#dee6f0"/>
<rect x="267.42" y="389.00" width="11.5" height="25.0" fill="#f7f9fc"/>
<rect x="284.04" y="389.00" width="11.5" height="25.0" fill="#e8eef5"/>
<rect x="300.66" y="389.00" width="11.5" height="25.0" fill="#f9fafd"/>
<rect x="317.28" y="389.00" width="11.5" height="25.0" fill="#f6f9fc"/>
<rect x="333.90" y="389.00" width="11.5" height="25.0" fill="#dae3ee"/>
<rect x="350.52" y="389.00" width="11.5" height="25.0" fill="#dee6f0"/>
<rect x="367.14" y="389.00" width="11.5" height="25.0" fill="#e8eef5"/>
<rect x="383.76" y="389.00" width="11.5" height="25.0" fill="#f5f8fb"/>
<rect x="400.38" y="389.00" width="11.5" height="25.0" fill="#e4ebf3"/>
<rect x="417.00" y="389.00" width="11.5" height="25.0" fill="#f9fafd"/>
<rect x="433.62" y="389.00" width="11.5" height="25.0" fill="#f6f9fc"/>
<rect x="450.24" y="389.00" width="11.5" height="25.0" fill="#edf2f8"/>
<rect x="466.86" y="389.00" width="11.5" height="25.0" fill="#eff3f8"/>
<rect x="483.48" y="389.00" width="11.5" height="25.0" fill="#e4ebf3"/>
<rect x="500.10" y="389.00" width="11.5" height="25.0" fill="#e4ebf3"/>
<rect x="516.72" y="389.00" width="11.5" height="25.0" fill="#d4dfec"/>
<rect x="533.34" y="389.00" width="11.5" height="25.0" fill="#f5f8fb"/>
<rect x="549.96" y="389.00" width="11.5" height="25.0" fill="#ebf0f7"/>
<rect x="566.58" y="389.00" width="11.5" height="25.0" fill="#eff3f8"/>
<rect x="583.20" y="389.00" width="11.5" height="25.0" fill="#f7f9fc"/>
<rect x="601.20" y="389.00" width="11.5" height="25.0" fill="#fafbfd"/>
<line x1="61.4" y1="402.7" x2="64.2" y2="402.7" stroke="#555" stroke-width="0.7"/>
<text x="60.8" y="406.1" text-anchor="end" font-family="&quot;Liberation Sans&quot;, sans-serif" font-size="8.6" fill="#333">TIGIT</text>
<rect x="65.50" y="419.40" width="11.5" height="25.0" fill="#f5f8fb"/>
<rect x="84.60" y="419.40" width="11.5" height="25.0" fill="#e4ebf3"/>
<rect x="101.22" y="419.40" width="11.5" height="25.0" fill="#e0e8f1"/>
<rect x="117.84" y="419.40" width="11.5" height="25.0" fill="#d0dcea"/>
<rect x="134.46" y="419.40" width="11.5" height="25.0" fill="#e8eef5"/>
<rect x="151.08" y="419.40" width="11.5" height="25.0" fill="#e8eef5"/>
<rect x="167.70" y="419.40" width="11.5" height="25.0" fill="#a2bad4"/>
<rect x="184.32" y="419.40" width="11.5" height="25.0" fill="#e4ebf3"/>
<rect x="200.94" y="419.40" width="11.5" height="25.0" fill="#ebf0f7"/>
<rect x="217.56" y="419.40" width="11.5" height="25.0" fill="#d4dfec"/>
<rect x="234.18" y="419.40" width="11.5" height="25.0" fill="#f7f9fc"/>
<rect x="250.80" y="419.40" width="11.5" height="25.0" fill="#d4dfec"/>
<rect x="267.42" y="419.40" width="11.5" height="25.0" fill="#eff3f8"/>
<rect x="284.04" y="419.40" width="11.5" height="25.0" fill="#e8eef5"/>
<rect x="300.66" y="419.40" width="11.5" height="25.0" fill="#ebf0f7"/>
<rect x="317.28" y="419.40" width="11.5" height="25.0" fill="#e8eef5"/>
<rect x="333.90" y="419.40" width="11.5" height="25.0" fill="#d4dfec"/>
<rect x="350.52" y="419.40" width="11.5" height="25.0" fill="#d0dcea"/>
<rect x="367.14" y="419.40" width="11.5" height="25.0" fill="#d0dcea"/>
<rect x="383.76" y="419.40" width="11.5" height="25.0" fill="#d4dfec"/>
<rect x="400.38" y="419.40" width="11.5" height="25.0" fill="#e4ebf3"/>
<rect x="417.00" y="419.40" width="11.5" height="25.0" fill="#e8eef5"/>
<rect x="433.62" y="419.40" width="11.5" height="25.0" fill="#e4ebf3"/>
<rect x="450.24" y="419.40" width="11.5" height="25.0" fill="#e8eef5"/>
<rect x="466.86" y="419.40" width="11.5" height="25.0" fill="#dee6f0"/>
<rect x="483.48" y="419.40" width="11.5" height="25.0" fill="#d0dcea"/>
<rect x="500.10" y="419.40" width="11.5" height="25.0" fill="#d4dfec"/>
<rect x="516.72" y="419.40" width="11.5" height="25.0" fill="#b1c5db"/>
<rect x="533.34" y="419.40" width="11.5" height="25.0" fill="#edf2f8"/>
<rect x="549.96" y="419.40" width="11.5" height="25.0" fill="#e4ebf3"/>
<rect x="566.58" y="419.40" width="11.5" height="25.0" fill="#d4dfec"/>
<rect x="583.20" y="419.40" width="11.5" height="25.0" fill="#d8e2ed"/>
<rect x="601.20" y="419.40" width="11.5" height="25.0" fill="#f7f9fc"/>
<line x1="61.4" y1="433.1" x2="64.2" y2="433.1" stroke="#555" stroke-width="0.7"/>
<text x="60.8" y="436.5" text-anchor="end" font-family="&quot;Liberation Sans&quot;, sans-serif" font-size="8.6" fill="#333">LAG3</text>
<rect x="65.50" y="449.80" width="11.5" height="25.0" fill="#f7f9fc"/>
<rect x="84.60" y="449.80" width="11.5" height="25.0" fill="#eff3f8"/>
<rect x="101.22" y="449.80" width="11.5" height="25.0" fill="#f5f8fb"/>
<rect x="117.84" y="449.80" width="11.5" height="25.0" fill="#ebf0f7"/>
<rect x="134.46" y="449.80" width="11.5" height="25.0" fill="#e8eef5"/>
<rect x="151.08" y="449.80" width="11.5" height="25.0" fill="#eff3f8"/>
<rect x="167.70" y="449.80" width="11.5" height="25.0" fill="#bbccdf"/>
<rect x="184.32" y="449.80" width="11.5" height="25.0" fill="#edf2f8"/>
<rect x="200.94" y="449.80" width="11.5" height="25.0" fill="#f7f9fc"/>
<rect x="217.56" y="449.80" width="11.5" height="25.0" fill="#edf2f8"/>
<rect x="234.18" y="449.80" width="11.5" height="25.0" fill="#f9fafd"/>
<rect x="250.80" y="449.80" width="11.5" height="25.0" fill="#e8eef5"/>
<rect x="267.42" y="449.80" width="11.5" height="25.0" fill="#eff3f8"/>
<rect x="284.04" y="449.80" width="11.5" height="25.0" fill="#e8eef5"/>
<rect x="300.66" y="449.80" width="11.5" height="25.0" fill="#fbfcfe"/>
<rect x="317.28" y="449.80" width="11.5" height="25.0" fill="#f7f9fc"/>
<rect x="333.90" y="449.80" width="11.5" height="25.0" fill="#e4ebf3"/>
<rect x="350.52" y="449.80" width="11.5" height="25.0" fill="#e8eef5"/>
<rect x="367.14" y="449.80" width="11.5" height="25.0" fill="#e4ebf3"/>
<rect x="383.76" y="449.80" width="11.5" height="25.0" fill="#eff3f8"/>
<rect x="400.38" y="449.80" width="11.5" height="25.0" fill="#ebf0f7"/>
<rect x="417.00" y="449.80" width="11.5" height="25.0" fill="#f9fafd"/>
<rect x="433.62" y="449.80" width="11.5" height="25.0" fill="#f7f9fc"/>
<rect x="450.24" y="449.80" width="11.5" height="25.0" fill="#f5f8fb"/>
<rect x="466.86" y="449.80" width="11.5" height="25.0" fill="#f6f9fc"/>
<rect x="483.48" y="449.80" width="11.5" height="25.0" fill="#e8eef5"/>
<rect x="500.10" y="449.80" width="11.5" height="25.0" fill="#e8eef5"/>
<rect x="516.72" y="449.80" width="11.5" height="25.0" fill="#dee6f0"/>
<rect x="533.34" y="449.80" width="11.5" height="25.0" fill="#f5f8fb"/>
<rect x="549.96" y="449.80" width="11.5" height="25.0" fill="#c4d3e4"/>
<rect x="566.58" y="449.80" width="11.5" height="25.0" fill="#f5f8fb"/>
<rect x="583.20" y="449.80" width="11.5" height="25.0" fill="#f6f9fc"/>
<rect x="601.20" y="449.80" width="11.5" height="25.0" fill="#fbfcfe"/>
<line x1="61.4" y1="463.6" x2="64.2" y2="463.6" stroke="#555" stroke-width="0.7"/>
<text x="60.8" y="467.0" text-anchor="end" font-family="&quot;Liberation Sans&quot;, sans-serif" font-size="8.6" fill="#333">PDCD1</text>
<rect x="65.50" y="480.20" width="11.5" height="25.0" fill="#f9fafd"/>
<rect x="84.60" y="480.20" width="11.5" height="25.0" fill="#cad8e7"/>
<rect x="101.22" y="480.20" width="11.5" height="25.0" fill="#cad8e7"/>
<rect x="117.84" y="480.20" width="11.5" height="25.0" fill="#ccd9e8"/>
<rect x="134.46" y="480.20" width="11.5" height="25.0" fill="#f7f9fc"/>
<rect x="151.08" y="480.20" width="11.5" height="25.0" fill="#e2e9f2"/>
<rect x="167.70" y="480.20" width="11.5" height="25.0" fill="#adc2d9"/>
<rect x="184.32" y="480.20" width="11.5" height="25.0" fill="#d0dcea"/>
<rect x="200.94" y="480.20" width="11.5" height="25.0" fill="#f9fafd"/>
<rect x="217.56" y="480.20" width="11.5" height="25.0" fill="#b7c9de"/>
<rect x="234.18" y="480.20" width="11.5" height="25.0" fill="#f7f9fc"/>
<rect x="250.80" y="480.20" width="11.5" height="25.0" fill="#dee6f0"/>
<rect x="267.42" y="480.20" width="11.5" height="25.0" fill="#f6f9fc"/>
<rect x="284.04" y="480.20" width="11.5" height="25.0" fill="#fbfcfe"/>
<rect x="300.66" y="480.20" width="11.5" height="25.0" fill="#f9fafd"/>
<rect x="317.28" y="480.20" width="11.5" height="25.0" fill="#eff3f8"/>
<rect x="333.90" y="480.20" width="11.5" height="25.0" fill="#adc2d9"/>
<rect x="350.52" y="480.20" width="11.5" height="25.0" fill="#adc2d9"/>
<rect x="367.14" y="480.20" width="11.5" height="25.0" fill="#d4dfec"/>
<rect x="383.76" y="480.20" width="11.5" height="25.0" fill="#dee6f0"/>
<rect x="400.38" y="480.20" width="11.5" height="25.0" fill="#d4dfec"/>
<rect x="417.00" y="480.20" width="11.5" height="25.0" fill="#f9fafd"/>
<rect x="433.62" y="480.20" width="11.5" height="25.0" fill="#eff3f8"/>
<rect x="450.24" y="480.20" width="11.5" height="25.0" fill="#dee6f0"/>
<rect x="466.86" y="480.20" width="11.5" height="25.0" fill="#ebf0f7"/>
<rect x="483.48" y="480.20" width="11.5" height="25.0" fill="#c0d0e2"/>
<rect x="500.10" y="480.20" width="11.5" height="25.0" fill="#adc2d9"/>
<rect x="516.72" y="480.20" width="11.5" height="25.0" fill="#b7c9de"/>
<rect x="533.34" y="480.20" width="11.5" height="25.0" fill="#f5f8fb"/>
<rect x="549.96" y="480.20" width="11.5" height="25.0" fill="#eff3f8"/>
<rect x="566.58" y="480.20" width="11.5" height="25.0" fill="#dee6f0"/>
<rect x="583.20" y="480.20" width="11.5" height="25.0" fill="#e4ebf3"/>
<rect x="601.20" y="480.20" width="11.5" height="25.0" fill="#fbfcfe"/>
<line x1="61.4" y1="494.1" x2="64.2" y2="494.1" stroke="#555" stroke-width="0.7"/>
<text x="60.8" y="497.5" text-anchor="end" font-family="&quot;Liberation Sans&quot;, sans-serif" font-size="8.6" fill="#333">CXCL13</text>
<rect x="65.50" y="510.60" width="11.5" height="25.0" fill="#dee6f0"/>
<rect x="84.60" y="510.60" width="11.5" height="25.0" fill="#dee6f0"/>
<rect x="101.22" y="510.60" width="11.5" height="25.0" fill="#d4dfec"/>
<rect x="117.84" y="510.60" width="11.5" height="25.0" fill="#d4dfec"/>
<rect x="134.46" y="510.60" width="11.5" height="25.0" fill="#dae3ee"/>
<rect x="151.08" y="510.60" width="11.5" height="25.0" fill="#dee6f0"/>
<rect x="167.70" y="510.60" width="11.5" height="25.0" fill="#dee6f0"/>
<rect x="184.32" y="510.60" width="11.5" height="25.0" fill="#dee6f0"/>
<rect x="200.94" y="510.60" width="11.5" height="25.0" fill="#c0d0e2"/>
<rect x="217.56" y="510.60" width="11.5" height="25.0" fill="#cad8e7"/>
<rect x="234.18" y="510.60" width="11.5" height="25.0" fill="#e8eef5"/>
<rect x="250.80" y="510.60" width="11.5" height="25.0" fill="#c0d0e2"/>
<rect x="267.42" y="510.60" width="11.5" height="25.0" fill="#d4dfec"/>
<rect x="284.04" y="510.60" width="11.5" height="25.0" fill="#f7f9fc"/>
<rect x="300.66" y="510.60" width="11.5" height="25.0" fill="#cad8e7"/>
<rect x="317.28" y="510.60" width="11.5" height="25.0" fill="#ebf0f7"/>
<rect x="333.90" y="510.60" width="11.5" height="25.0" fill="#d0dcea"/>
<rect x="350.52" y="510.60" width="11.5" height="25.0" fill="#c0d0e2"/>
<rect x="367.14" y="510.60" width="11.5" height="25.0" fill="#c0d0e2"/>
<rect x="383.76" y="510.60" width="11.5" height="25.0" fill="#cad8e7"/>
<rect x="400.38" y="510.60" width="11.5" height="25.0" fill="#c0d0e2"/>
<rect x="417.00" y="510.60" width="11.5" height="25.0" fill="#d8e2ed"/>
<rect x="433.62" y="510.60" width="11.5" height="25.0" fill="#dae3ee"/>
<rect x="450.24" y="510.60" width="11.5" height="25.0" fill="#e4ebf3"/>
<rect x="466.86" y="510.60" width="11.5" height="25.0" fill="#c4d3e4"/>
<rect x="483.48" y="510.60" width="11.5" height="25.0" fill="#e4ebf3"/>
<rect x="500.10" y="510.60" width="11.5" height="25.0" fill="#dae3ee"/>
<rect x="516.72" y="510.60" width="11.5" height="25.0" fill="#dae3ee"/>
<rect x="533.34" y="510.60" width="11.5" height="25.0" fill="#d4dfec"/>
<rect x="549.96" y="510.60" width="11.5" height="25.0" fill="#c4d3e4"/>
<rect x="566.58" y="510.60" width="11.5" height="25.0" fill="#e4ebf3"/>
<rect x="583.20" y="510.60" width="11.5" height="25.0" fill="#cad8e7"/>
<rect x="601.20" y="510.60" width="11.5" height="25.0" fill="#f5f8fb"/>
<line x1="61.4" y1="524.6" x2="64.2" y2="524.6" stroke="#555" stroke-width="0.7"/>
<text x="60.8" y="528.0" text-anchor="end" font-family="&quot;Liberation Sans&quot;, sans-serif" font-size="8.6" fill="#333">LAYN</text>
<rect x="65.50" y="541.00" width="11.5" height="25.0" fill="#8ca9c9"/>
<rect x="84.60" y="541.00" width="11.5" height="25.0" fill="#8ca9c9"/>
<rect x="101.22" y="541.00" width="11.5" height="25.0" fill="#6f93bb"/>
<rect x="117.84" y="541.00" width="11.5" height="25.0" fill="#6f93bb"/>
<rect x="134.46" y="541.00" width="11.5" height="25.0" fill="#81a0c4"/>
<rect x="151.08" y="541.00" width="11.5" height="25.0" fill="#97b1ce"/>
<rect x="167.70" y="541.00" width="11.5" height="25.0" fill="#97b1ce"/>
<rect x="184.32" y="541.00" width="11.5" height="25.0" fill="#7698be"/>
<rect x="200.94" y="541.00" width="11.5" height="25.0" fill="#81a0c4"/>
<rect x="217.56" y="541.00" width="11.5" height="25.0" fill="#6f93bb"/>
<rect x="234.18" y="541.00" width="11.5" height="25.0" fill="#a9bfd7"/>
<rect x="250.80" y="541.00" width="11.5" height="25.0" fill="#81a0c4"/>
<rect x="267.42" y="541.00" width="11.5" height="25.0" fill="#81a0c4"/>
<rect x="284.04" y="541.00" width="11.5" height="25.0" fill="#8ca9c9"/>
<rect x="300.66" y="541.00" width="11.5" height="25.0" fill="#81a0c4"/>
<rect x="317.28" y="541.00" width="11.5" height="25.0" fill="#6f93bb"/>
<rect x="333.90" y="541.00" width="11.5" height="25.0" fill="#7698be"/>
<rect x="350.52" y="541.00" width="11.5" height="25.0" fill="#6c90b9"/>
<rect x="367.14" y="541.00" width="11.5" height="25.0" fill="#6f93bb"/>
<rect x="383.76" y="541.00" width="11.5" height="25.0" fill="#8ca9c9"/>
<rect x="400.38" y="541.00" width="11.5" height="25.0" fill="#7c9dc1"/>
<rect x="417.00" y="541.00" width="11.5" height="25.0" fill="#8ca9c9"/>
<rect x="433.62" y="541.00" width="11.5" height="25.0" fill="#6f93bb"/>
<rect x="450.24" y="541.00" width="11.5" height="25.0" fill="#8ca9c9"/>
<rect x="466.86" y="541.00" width="11.5" height="25.0" fill="#7698be"/>
<rect x="483.48" y="541.00" width="11.5" height="25.0" fill="#6f93bb"/>
<rect x="500.10" y="541.00" width="11.5" height="25.0" fill="#7c9dc1"/>
<rect x="516.72" y="541.00" width="11.5" height="25.0" fill="#81a0c4"/>
<rect x="533.34" y="541.00" width="11.5" height="25.0" fill="#85a4c6"/>
<rect x="549.96" y="541.00" width="11.5" height="25.0" fill="#85a4c6"/>
<rect x="566.58" y="541.00" width="11.5" height="25.0" fill="#8ca9c9"/>
<rect x="583.20" y="541.00" width="11.5" height="25.0" fill="#7698be"/>
<rect x="601.20" y="541.00" width="11.5" height="25.0" fill="#92aecc"/>
<line x1="61.4" y1="555.0" x2="64.2" y2="555.0" stroke="#555" stroke-width="0.7"/>
<text x="60.8" y="558.4" text-anchor="end" font-family="&quot;Liberation Sans&quot;, sans-serif" font-size="8.6" fill="#333">HSPA1A</text>
<rect x="65.50" y="571.40" width="11.5" height="25.0" fill="#7c9dc1"/>
<rect x="84.60" y="571.40" width="11.5" height="25.0" fill="#6f93bb"/>
<rect x="101.22" y="571.40" width="11.5" height="25.0" fill="#7c9dc1"/>
<rect x="117.84" y="571.40" width="11.5" height="25.0" fill="#7698be"/>
<rect x="134.46" y="571.40" width="11.5" height="25.0" fill="#85a4c6"/>
<rect x="151.08" y="571.40" width="11.5" height="25.0" fill="#6f93bb"/>
<rect x="167.70" y="571.40" width="11.5" height="25.0" fill="#a9bfd7"/>
<rect x="184.32" y="571.40" width="11.5" height="25.0" fill="#7c9dc1"/>
<rect x="200.94" y="571.40" width="11.5" height="25.0" fill="#8ca9c9"/>
<rect x="217.56" y="571.40" width="11.5" height="25.0" fill="#7698be"/>
<rect x="234.18" y="571.40" width="11.5" height="25.0" fill="#8ca9c9"/>
<rect x="250.80" y="571.40" width="11.5" height="25.0" fill="#85a4c6"/>
<rect x="267.42" y="571.40" width="11.5" height="25.0" fill="#7c9dc1"/>
<rect x="284.04" y="571.40" width="11.5" height="25.0" fill="#a9bfd7"/>
<rect x="300.66" y="571.40" width="11.5" height="25.0" fill="#8ca9c9"/>
<rect x="317.28" y="571.40" width="11.5" height="25.0" fill="#97b1ce"/>
<rect x="333.90" y="571.40" width="11.5" height="25.0" fill="#7c9dc1"/>
<rect x="350.52" y="571.40" width="11.5" height="25.0" fill="#6f93bb"/>
<rect x="367.14" y="571.40" width="11.5" height="25.0" fill="#7698be"/>
<rect x="383.76" y="571.40" width="11.5" height="25.0" fill="#81a0c4"/>
<rect x="400.38" y="571.40" width="11.5" height="25.0" fill="#7c9dc1"/>
<rect x="417.00" y="571.40" width="11.5" height="25.0" fill="#81a0c4"/>
<rect x="433.62" y="571.40" width="11.5" height="25.0" fill="#7698be"/>
<rect x="450.24" y="571.40" width="11.5" height="25.0" fill="#6f93bb"/>
<rect x="466.86" y="571.40" width="11.5" height="25.0" fill="#81a0c4"/>
<rect x="483.48" y="571.40" width="11.5" height="25.0" fill="#81a0c4"/>
<rect x="500.10" y="571.40" width="11.5" height="25.0" fill="#81a0c4"/>
<rect x="516.72" y="571.40" width="11.5" height="25.0" fill="#81a0c4"/>
<rect x="533.34" y="571.40" width="11.5" height="25.0" fill="#81a0c4"/>
<rect x="549.96" y="571.40" width="11.5" height="25.0" fill="#8ca9c9"/>
<rect x="566.58" y="571.40" width="11.5" height="25.0" fill="#7698be"/>
<rect x="583.20" y="571.40" width="11.5" height="25.0" fill="#7698be"/>
<rect x="601.20" y="571.40" width="11.5" height="25.0" fill="#9bb5d0"/>
<line x1="61.4" y1="585.5" x2="64.2" y2="585.5" stroke="#555" stroke-width="0.7"/>
<text x="60.8" y="588.9" text-anchor="end" font-family="&quot;Liberation Sans&quot;, sans-serif" font-size="8.6" fill="#333">HSPA1B</text>
<rect x="65.50" y="601.80" width="11.5" height="25.0" fill="#ebf0f7"/>
<rect x="84.60" y="601.80" width="11.5" height="25.0" fill="#d4dfec"/>
<rect x="101.22" y="601.80" width="11.5" height="25.0" fill="#dce5ef"/>
<rect x="117.84" y="601.80" width="11.5" height="25.0" fill="#cad8e7"/>
<rect x="134.46" y="601.80" width="11.5" height="25.0" fill="#e4ebf3"/>
<rect x="151.08" y="601.80" width="11.5" height="25.0" fill="#e8eef5"/>
<rect x="167.70" y="601.80" width="11.5" height="25.0" fill="#e4ebf3"/>
<rect x="184.32" y="601.80" width="11.5" height="25.0" fill="#e4ebf3"/>
<rect x="200.94" y="601.80" width="11.5" height="25.0" fill="#cad8e7"/>
<rect x="217.56" y="601.80" width="11.5" height="25.0" fill="#d8e2ed"/>
<rect x="234.18" y="601.80" width="11.5" height="25.0" fill="#e8eef5"/>
<rect x="250.80" y="601.80" width="11.5" height="25.0" fill="#d4dfec"/>
<rect x="267.42" y="601.80" width="11.5" height="25.0" fill="#dee6f0"/>
<rect x="284.04" y="601.80" width="11.5" height="25.0" fill="#e8eef5"/>
<rect x="300.66" y="601.80" width="11.5" height="25.0" fill="#e8eef5"/>
<rect x="317.28" y="601.80" width="11.5" height="25.0" fill="#e8eef5"/>
<rect x="333.90" y="601.80" width="11.5" height="25.0" fill="#d0dcea"/>
<rect x="350.52" y="601.80" width="11.5" height="25.0" fill="#d0dcea"/>
<rect x="367.14" y="601.80" width="11.5" height="25.0" fill="#d4dfec"/>
<rect x="383.76" y="601.80" width="11.5" height="25.0" fill="#e4ebf3"/>
<rect x="400.38" y="601.80" width="11.5" height="25.0" fill="#dee6f0"/>
<rect x="417.00" y="601.80" width="11.5" height="25.0" fill="#ebf0f7"/>
<rect x="433.62" y="601.80" width="11.5" height="25.0" fill="#eff3f8"/>
<rect x="450.24" y="601.80" width="11.5" height="25.0" fill="#dee6f0"/>
<rect x="466.86" y="601.80" width="11.5" height="25.0" fill="#d8e2ed"/>
<rect x="483.48" y="601.80" width="11.5" height="25.0" fill="#c0d0e2"/>
<rect x="500.10" y="601.80" width="11.5" height="25.0" fill="#dee6f0"/>
<rect x="516.72" y="601.80" width="11.5" height="25.0" fill="#dee6f0"/>
<rect x="533.34" y="601.80" width="11.5" height="25.0" fill="#e4ebf3"/>
<rect x="549.96" y="601.80" width="11.5" height="25.0" fill="#ebf0f7"/>
<rect x="566.58" y="601.80" width="11.5" height="25.0" fill="#e4ebf3"/>
<rect x="583.20" y="601.80" width="11.5" height="25.0" fill="#dae3ee"/>
<rect x="601.20" y="601.80" width="11.5" height="25.0" fill="#edf2f8"/>
<line x1="61.4" y1="616.0" x2="64.2" y2="616.0" stroke="#555" stroke-width="0.7"/>
<text x="60.8" y="619.4" text-anchor="end" font-family="&quot;Liberation Sans&quot;, sans-serif" font-size="8.6" fill="#333">HSPA6</text>
<rect x="65.50" y="634.40" width="11.5" height="25.4" fill="#557aa6"/>
<rect x="84.60" y="634.40" width="11.5" height="25.4" fill="#5076a3"/>
<rect x="101.22" y="634.40" width="11.5" height="25.4" fill="#6084af"/>
<rect x="117.84" y="634.40" width="11.5" height="25.4" fill="#466b9a"/>
<rect x="134.46" y="634.40" width="11.5" height="25.4" fill="#5d81ac"/>
<rect x="151.08" y="634.40" width="11.5" height="25.4" fill="#698db6"/>
<rect x="167.70" y="634.40" width="11.5" height="25.4" fill="#6f93bb"/>
<rect x="184.32" y="634.40" width="11.5" height="25.4" fill="#557aa6"/>
<rect x="200.94" y="634.40" width="11.5" height="25.4" fill="#698db6"/>
<rect x="217.56" y="634.40" width="11.5" height="25.4" fill="#4a709e"/>
<rect x="234.18" y="634.40" width="11.5" height="25.4" fill="#5d81ac"/>
<rect x="250.80" y="634.40" width="11.5" height="25.4" fill="#6084af"/>
<rect x="267.42" y="634.40" width="11.5" height="25.4" fill="#5076a3"/>
<rect x="284.04" y="634.40" width="11.5" height="25.4" fill="#97b1ce"/>
<rect x="300.66" y="634.40" width="11.5" height="25.4" fill="#81a0c4"/>
<rect x="317.28" y="634.40" width="11.5" height="25.4" fill="#6489b2"/>
<rect x="333.90" y="634.40" width="11.5" height="25.4" fill="#6084af"/>
<rect x="350.52" y="634.40" width="11.5" height="25.4" fill="#4d73a0"/>
<rect x="367.14" y="634.40" width="11.5" height="25.4" fill="#5d81ac"/>
<rect x="383.76" y="634.40" width="11.5" height="25.4" fill="#5a7eaa"/>
<rect x="400.38" y="634.40" width="11.5" height="25.4" fill="#5a7eaa"/>
<rect x="417.00" y="634.40" width="11.5" height="25.4" fill="#6c90b9"/>
<rect x="433.62" y="634.40" width="11.5" height="25.4" fill="#6489b2"/>
<rect x="450.24" y="634.40" width="11.5" height="25.4" fill="#6c90b9"/>
<rect x="466.86" y="634.40" width="11.5" height="25.4" fill="#5d81ac"/>
<rect x="483.48" y="634.40" width="11.5" height="25.4" fill="#5a7eaa"/>
<rect x="500.10" y="634.40" width="11.5" height="25.4" fill="#6084af"/>
<rect x="516.72" y="634.40" width="11.5" height="25.4" fill="#698db6"/>
<rect x="533.34" y="634.40" width="11.5" height="25.4" fill="#6489b2"/>
<rect x="549.96" y="634.40" width="11.5" height="25.4" fill="#5a7eaa"/>
<rect x="566.58" y="634.40" width="11.5" height="25.4" fill="#557aa6"/>
<rect x="583.20" y="634.40" width="11.5" height="25.4" fill="#5d81ac"/>
<rect x="601.20" y="634.40" width="11.5" height="25.4" fill="#5d81ac"/>
<line x1="61.4" y1="646.4" x2="64.2" y2="646.4" stroke="#555" stroke-width="0.7"/>
<text x="60.8" y="649.8" text-anchor="end" font-family="&quot;Liberation Sans&quot;, sans-serif" font-size="8.6" fill="#333">HSPB1</text>
<text x="0" y="0" transform="translate(74.9 349.4) rotate(-30) scale(0.96 1)" font-family="&quot;Liberation Sans&quot;, sans-serif" font-size="8.8" fill="#505050">ACC</text>
<text x="0" y="0" transform="translate(91.5 349.4) rotate(-30) scale(0.96 1)" font-family="&quot;Liberation Sans&quot;, sans-serif" font-size="8.8" fill="#505050">BLCA</text>
<text x="0" y="0" transform="translate(108.1 349.4) rotate(-30) scale(0.96 1)" font-family="&quot;Liberation Sans&quot;, sans-serif" font-size="8.8" fill="#505050">BRCA</text>
<text x="0" y="0" transform="translate(124.8 349.4) rotate(-30) scale(0.96 1)" font-family="&quot;Liberation Sans&quot;, sans-serif" font-size="8.8" fill="#505050">CESC</text>
<text x="0" y="0" transform="translate(141.4 349.4) rotate(-30) scale(0.96 1)" font-family="&quot;Liberation Sans&quot;, sans-serif" font-size="8.8" fill="#505050">CHOL</text>
<text x="0" y="0" transform="translate(158.0 349.4) rotate(-30) scale(0.96 1)" font-family="&quot;Liberation Sans&quot;, sans-serif" font-size="8.8" fill="#505050">COAD</text>
<text x="0" y="0" transform="translate(174.6 349.4) rotate(-30) scale(0.96 1)" font-family="&quot;Liberation Sans&quot;, sans-serif" font-size="8.8" fill="#505050">DLBC</text>
<text x="0" y="0" transform="translate(191.2 349.4) rotate(-30) scale(0.96 1)" font-family="&quot;Liberation Sans&quot;, sans-serif" font-size="8.8" fill="#505050">ESCA</text>
<text x="0" y="0" transform="translate(207.9 349.4) rotate(-30) scale(0.96 1)" font-family="&quot;Liberation Sans&quot;, sans-serif" font-size="8.8" fill="#505050">GBM</text>
<text x="0" y="0" transform="translate(224.5 349.4) rotate(-30) scale(0.96 1)" font-family="&quot;Liberation Sans&quot;, sans-serif" font-size="8.8" fill="#505050">HNSC</text>
<text x="0" y="0" transform="translate(241.1 349.4) rotate(-30) scale(0.96 1)" font-family="&quot;Liberation Sans&quot;, sans-serif" font-size="8.8" fill="#505050">KICH</text>
<text x="0" y="0" transform="translate(257.7 349.4) rotate(-30) scale(0.96 1)" font-family="&quot;Liberation Sans&quot;, sans-serif" font-size="8.8" fill="#505050">KIRC</text>
<text x="0" y="0" transform="translate(274.3 349.4) rotate(-30) scale(0.96 1)" font-family="&quot;Liberation Sans&quot;, sans-serif" font-size="8.8" fill="#505050">KIRP</text>
<text x="0" y="0" transform="translate(291.0 349.4) rotate(-30) scale(0.96 1)" font-family="&quot;Liberation Sans&quot;, sans-serif" font-size="8.8" fill="#505050">LAML</text>
<text x="0" y="0" transform="translate(307.6 349.4) rotate(-30) scale(0.96 1)" font-family="&quot;Liberation Sans&quot;, sans-serif" font-size="8.8" fill="#505050">LGG</text>
<text x="0" y="0" transform="translate(324.2 349.4) rotate(-30) scale(0.96 1)" font-family="&quot;Liberation Sans&quot;, sans-serif" font-size="8.8" fill="#505050">LIHC</text>
<text x="0" y="0" transform="translate(340.8 349.4) rotate(-30) scale(0.96 1)" font-family="&quot;Liberation Sans&quot;, sans-serif" font-size="8.8" fill="#505050">LUAD</text>
<text x="0" y="0" transform="translate(357.4 349.4) rotate(-30) scale(0.96 1)" font-family="&quot;Liberation Sans&quot;, sans-serif" font-size="8.8" fill="#505050">LUSC</text>
<text x="0" y="0" transform="translate(374.1 349.4) rotate(-30) scale(0.96 1)" font-family="&quot;Liberation Sans&quot;, sans-serif" font-size="8.8" fill="#505050">MESO</text>
<text x="0" y="0" transform="translate(390.7 349.4) rotate(-30) scale(0.96 1)" font-family="&quot;Liberation Sans&quot;, sans-serif" font-size="8.8" fill="#505050">OV</text>
<text x="0" y="0" transform="translate(407.3 349.4) rotate(-30) scale(0.96 1)" font-family="&quot;Liberation Sans&quot;, sans-serif" font-size="8.8" fill="#505050">PAAD</text>
<text x="0" y="0" transform="translate(423.9 349.4) rotate(-30) scale(0.96 1)" font-family="&quot;Liberation Sans&quot;, sans-serif" font-size="8.8" fill="#505050">PCPG</text>
<text x="0" y="0" transform="translate(440.5 349.4) rotate(-30) scale(0.96 1)" font-family="&quot;Liberation Sans&quot;, sans-serif" font-size="8.8" fill="#505050">PRAD</text>
<text x="0" y="0" transform="translate(457.2 349.4) rotate(-30) scale(0.96 1)" font-family="&quot;Liberation Sans&quot;, sans-serif" font-size="8.8" fill="#505050">READ</text>
<text x="0" y="0" transform="translate(473.8 349.4) rotate(-30) scale(0.96 1)" font-family="&quot;Liberation Sans&quot;, sans-serif" font-size="8.8" fill="#505050">SARC</text>
<text x="0" y="0" transform="translate(490.4 349.4) rotate(-30) scale(0.96 1)" font-family="&quot;Liberation Sans&quot;, sans-serif" font-size="8.8" fill="#505050">SKCM</text>
<text x="0" y="0" transform="translate(507.0 349.4) rotate(-30) scale(0.96 1)" font-family="&quot;Liberation Sans&quot;, sans-serif" font-size="8.8" fill="#505050">STAD</text>
<text x="0" y="0" transform="translate(523.6 349.4) rotate(-30) scale(0.96 1)" font-family="&quot;Liberation Sans&quot;, sans-serif" font-size="8.8" fill="#505050">TGCT</text>
<text x="0" y="0" transform="translate(540.3 349.4) rotate(-30) scale(0.96 1)" font-family="&quot;Liberation Sans&quot;, sans-serif" font-size="8.8" fill="#505050">THCA</text>
<text x="0" y="0" transform="translate(556.9 349.4) rotate(-30) scale(0.96 1)" font-family="&quot;Liberation Sans&quot;, sans-serif" font-size="8.8" fill="#505050">THYM</text>
<text x="0" y="0" transform="translate(573.5 349.4) rotate(-30) scale(0.96 1)" font-family="&quot;Liberation Sans&quot;, sans-serif" font-size="8.8" fill="#505050">UCEC</text>
<text x="0" y="0" transform="translate(590.1 349.4) rotate(-30) scale(0.96 1)" font-family="&quot;Liberation Sans&quot;, sans-serif" font-size="8.8" fill="#505050">UCS</text>
<text x="0" y="0" transform="translate(606.7 349.4) rotate(-30) scale(0.96 1)" font-family="&quot;Liberation Sans&quot;, sans-serif" font-size="8.8" fill="#505050">UVM</text>
<defs><linearGradient id="cg" x1="0" y1="0" x2="0" y2="1"><stop offset="0" stop-color="#3e6494"/><stop offset="0.32" stop-color="#6f93bb"/><stop offset="0.6" stop-color="#adc2d9"/><stop offset="1" stop-color="#fbfcfe"/></linearGradient></defs>
<rect x="631.1" y="363.1" width="21.9" height="288" fill="url(#cg)"/>
<text x="654.8" y="657.1" font-family="&quot;Liberation Sans&quot;, sans-serif" font-size="8.7" fill="#444">0</text>
<text x="654.8" y="607.2" font-family="&quot;Liberation Sans&quot;, sans-serif" font-size="8.7" fill="#444">2</text>
<text x="654.8" y="557.4" font-family="&quot;Liberation Sans&quot;, sans-serif" font-size="8.7" fill="#444">4</text>
<text x="654.8" y="507.5" font-family="&quot;Liberation Sans&quot;, sans-serif" font-size="8.7" fill="#444">6</text>
<text x="654.8" y="457.7" font-family="&quot;Liberation Sans&quot;, sans-serif" font-size="8.7" fill="#444">8</text>
<text x="654.8" y="407.8" font-family="&quot;Liberation Sans&quot;, sans-serif" font-size="8.7" fill="#444">10</text>
</g>
<g id="D">
<text x="0" y="0" transform="translate(1.5 701.1) scale(0.97 1)" font-family="&quot;Liberation Sans&quot;, sans-serif" font-weight="bold" font-size="43" fill="#000" stroke="#000" stroke-width="0.5">D</text>
<path d="M128 702.5h1M139 704.5h1M121 705.5h1M121 706.5h1M113 707.5h1M119 707.5h1M113 708.5h1M117 708.5h1M127 708.5h1M113 709.5h2M130 709.5h1M109 711.5h1M123 711.5h1M117 712.5h1M142 712.5h1M104 713.5h1M115 713.5h3M120 713.5h1M112 714.5h1M115 714.5h2M120 714.5h1M123 714.5h1M127 714.5h2M138 714.5h2M95 715.5h1M111 715.5h1M116 715.5h2M128 715.5h3M148 715.5h1M104 716.5h1M113 716.5h2M117 716.5h2M121 716.5h2M125 716.5h2M128 716.5h3M109 717.5h1M114 717.5h1M116 717.5h2M119 717.5h8M128 717.5h2M131 717.5h1M133 717.5h1M137 717.5h1M143 717.5h1M149 717.5h1M91 718.5h1M114 718.5h15M131 718.5h1M134 718.5h1M102 719.5h1M107 719.5h1M114 719.5h1M116 719.5h8M125 719.5h4M131 719.5h2M134 719.5h2M155 719.5h1M106 720.5h1M110 720.5h7M119 720.5h12M132 720.5h1M144 720.5h1M96 721.5h1M110 721.5h1M112 721.5h18M131 721.5h3M135 721.5h1M99 722.5h4M106 722.5h2M110 722.5h1M113 722.5h14M129 722.5h7M106 723.5h22M129 723.5h4M135 723.5h2M143 723.5h2M104 724.5h1M106 724.5h1M109 724.5h1M112 724.5h3M117 724.5h16M104 725.5h2M107 725.5h2M112 725.5h21M137 725.5h2M109 726.5h1M112 726.5h6M119 726.5h15M135 726.5h4M98 727.5h1M103 727.5h1M108 727.5h3M112 727.5h23M136 727.5h1M147 727.5h1M88 728.5h1M100 728.5h1M108 728.5h3M112 728.5h24M137 728.5h1M99 729.5h1M104 729.5h2M108 729.5h2M111 729.5h25M139 729.5h2M144 729.5h2M153 729.5h1M94 730.5h1M99 730.5h1M103 730.5h28M132 730.5h5M141 730.5h2M145 730.5h1M95 731.5h1M97 731.5h1M103 731.5h2M106 731.5h31M142 731.5h1M145 731.5h2M149 731.5h1M91 732.5h1M97 732.5h1M101 732.5h2M107 732.5h3M111 732.5h27M140 732.5h3M155 732.5h1M99 733.5h1M105 733.5h7M113 733.5h22M137 733.5h2M140 733.5h1M148 733.5h1M104 734.5h35M140 734.5h3M147 734.5h1M150 734.5h1M101 735.5h1M104 735.5h11M116 735.5h24M155 735.5h1M98 736.5h2M104 736.5h29M134 736.5h3M138 736.5h2M144 736.5h2M99 737.5h1M103 737.5h1M106 737.5h33M140 737.5h5M155 737.5h1M99 738.5h1M102 738.5h3M107 738.5h35M146 738.5h3M154 738.5h1M93 739.5h1M95 739.5h1M99 739.5h4M104 739.5h33M138 739.5h4M147 739.5h1M159 739.5h1M100 740.5h1M104 740.5h37M151 740.5h1M155 740.5h1M166 740.5h1M98 741.5h1M104 741.5h18M123 741.5h16M140 741.5h2M94 742.5h1M96 742.5h1M100 742.5h3M104 742.5h32M137 742.5h9M147 742.5h1M92 743.5h1M99 743.5h1M102 743.5h5M108 743.5h32M142 743.5h2M145 743.5h1M147 743.5h2M97 744.5h1M99 744.5h2M102 744.5h1M104 744.5h36M142 744.5h5M151 744.5h1M100 745.5h1M102 745.5h38M141 745.5h4M146 745.5h1M97 746.5h2M102 746.5h16M119 746.5h20M142 746.5h4M156 746.5h1M92 747.5h2M98 747.5h1M102 747.5h38M141 747.5h2M147 747.5h2M150 747.5h1M83 748.5h1M97 748.5h41M139 748.5h6M80 749.5h1M97 749.5h1M101 749.5h43M151 749.5h1M80 750.5h1M94 750.5h1M97 750.5h2M101 750.5h3M105 750.5h36M143 750.5h3M147 750.5h1M150 750.5h2M96 751.5h2M100 751.5h32M133 751.5h9M144 751.5h2M163 751.5h1M95 752.5h1M100 752.5h1M102 752.5h41M146 752.5h1M89 753.5h1M94 753.5h1M97 753.5h1M99 753.5h1M102 753.5h43M146 753.5h1M148 753.5h1M156 753.5h1M94 754.5h2M97 754.5h29M127 754.5h14M143 754.5h3M150 754.5h1M87 755.5h1M92 755.5h1M96 755.5h3M101 755.5h36M138 755.5h6M96 756.5h2M101 756.5h43M148 756.5h1M154 756.5h1M156 756.5h1M92 757.5h1M99 757.5h1M101 757.5h27M129 757.5h16M146 757.5h1M84 758.5h1M97 758.5h1M100 758.5h2M103 758.5h5M109 758.5h21M131 758.5h12M144 758.5h1M155 758.5h1M93 759.5h1M95 759.5h1M97 759.5h43M142 759.5h1M144 759.5h2M89 760.5h1M93 760.5h1M97 760.5h1M101 760.5h2M105 760.5h37M143 760.5h1M145 760.5h2M101 761.5h1M105 761.5h3M109 761.5h33M89 762.5h1M94 762.5h1M100 762.5h4M105 762.5h36M152 762.5h1M102 763.5h7M110 763.5h30M141 763.5h1M148 763.5h1M154 763.5h1M96 764.5h3M100 764.5h1M102 764.5h4M107 764.5h36M145 764.5h1M82 765.5h1M96 765.5h1M100 765.5h2M103 765.5h3M107 765.5h34M142 765.5h2M152 765.5h1M96 766.5h1M99 766.5h2M104 766.5h36M141 766.5h2M98 767.5h2M103 767.5h36M140 767.5h2M91 768.5h1M99 768.5h3M103 768.5h36M141 768.5h3M145 768.5h2M97 769.5h1M100 769.5h2M104 769.5h3M108 769.5h36M146 769.5h1M150 769.5h1M100 770.5h1M103 770.5h2M106 770.5h36M143 770.5h2M149 770.5h1M98 771.5h5M104 771.5h3M108 771.5h30M141 771.5h1M143 771.5h1M145 771.5h1M92 772.5h2M98 772.5h1M100 772.5h6M108 772.5h30M140 772.5h1M145 772.5h2M153 772.5h1M100 773.5h1M103 773.5h2M106 773.5h32M139 773.5h7M90 774.5h1M95 774.5h1M102 774.5h9M112 774.5h29M142 774.5h2M146 774.5h1M151 774.5h1M102 775.5h1M106 775.5h33M142 775.5h3M103 776.5h1M105 776.5h19M125 776.5h9M135 776.5h7M147 776.5h1M100 777.5h1M102 777.5h9M112 777.5h12M126 777.5h13M141 777.5h2M100 778.5h3M106 778.5h1M109 778.5h26M137 778.5h2M140 778.5h1M143 778.5h1M94 779.5h1M98 779.5h2M101 779.5h1M103 779.5h9M113 779.5h20M134 779.5h8M145 779.5h2M93 780.5h1M101 780.5h1M103 780.5h3M107 780.5h29M139 780.5h3M145 780.5h1M96 781.5h1M100 781.5h1M102 781.5h1M104 781.5h24M129 781.5h7M137 781.5h1M141 781.5h2M145 781.5h1M84 782.5h1M102 782.5h1M105 782.5h2M108 782.5h10M119 782.5h9M130 782.5h8M142 782.5h1M101 783.5h1M105 783.5h1M107 783.5h3M111 783.5h5M117 783.5h16M134 783.5h1M136 783.5h2M89 784.5h1M107 784.5h3M111 784.5h22M134 784.5h6M104 785.5h1M108 785.5h29M138 785.5h1M142 785.5h1M147 785.5h1M104 786.5h3M108 786.5h9M118 786.5h20M103 787.5h2M106 787.5h4M112 787.5h23M136 787.5h2M105 788.5h5M112 788.5h1M115 788.5h1M117 788.5h10M128 788.5h7M136 788.5h2M106 789.5h1M108 789.5h2M111 789.5h2M114 789.5h20M108 790.5h5M115 790.5h19M149 790.5h1M107 791.5h1M109 791.5h2M112 791.5h1M117 791.5h1M120 791.5h9M131 791.5h5M137 791.5h1M100 792.5h1M108 792.5h1M110 792.5h3M116 792.5h1M119 792.5h6M127 792.5h1M132 792.5h1M134 792.5h2M141 792.5h1M149 792.5h1M110 793.5h1M113 793.5h7M121 793.5h1M128 793.5h2M132 793.5h2M137 793.5h1M140 793.5h1M148 793.5h1M86 794.5h1M96 794.5h1M108 794.5h2M111 794.5h1M114 794.5h1M116 794.5h7M128 794.5h3M139 794.5h2M148 794.5h1M101 795.5h2M110 795.5h1M114 795.5h1M116 795.5h2M119 795.5h1M121 795.5h3M125 795.5h2M128 795.5h3M103 796.5h1M110 796.5h1M114 796.5h1M117 796.5h1M121 796.5h9M137 796.5h3M151 796.5h1M106 797.5h2M113 797.5h1M121 797.5h2M127 797.5h1M129 797.5h1M106 798.5h1M110 798.5h1M114 798.5h1M116 798.5h1M120 798.5h1M131 798.5h1M106 799.5h1M112 799.5h1M116 799.5h1M119 799.5h1M125 799.5h1M102 800.5h2M111 800.5h2M116 800.5h1M122 800.5h5M90 801.5h1M111 801.5h1M113 801.5h2M126 801.5h1M132 801.5h2M136 801.5h1M121 802.5h3M111 803.5h1M128 803.5h1M123 804.5h2M126 804.5h1M120 805.5h1M125 805.5h1M96 807.5h1M134 807.5h1M112 808.5h1" stroke="#000" stroke-width="1" fill="none"/>
<path d="M123 701.5h2M115 702.5h1M115 703.5h1M114 704.5h1M122 704.5h1M105 705.5h2M109 705.5h1M122 705.5h1M130 705.5h1M109 706.5h1M113 706.5h1M124 706.5h1M130 706.5h1M138 706.5h2M147 706.5h1M108 707.5h2M122 707.5h2M136 707.5h2M141 707.5h2M147 707.5h1M101 708.5h1M114 708.5h1M136 708.5h1M97 709.5h1M101 709.5h1M109 709.5h1M129 709.5h1M131 709.5h2M97 710.5h1M114 710.5h1M121 710.5h2M126 710.5h1M131 710.5h1M133 710.5h1M137 710.5h2M141 710.5h1M98 711.5h1M110 711.5h1M114 711.5h1M121 711.5h1M124 711.5h1M127 711.5h2M77 712.5h1M87 712.5h1M98 712.5h1M110 712.5h1M116 712.5h1M120 712.5h1M122 712.5h2M125 712.5h2M111 713.5h1M113 713.5h1M119 713.5h1M126 713.5h3M131 713.5h1M135 713.5h2M139 713.5h1M102 714.5h1M104 714.5h2M110 714.5h1M113 714.5h1M119 714.5h1M126 714.5h1M130 714.5h1M132 714.5h2M149 714.5h2M94 715.5h1M102 715.5h1M112 715.5h4M118 715.5h3M122 715.5h2M125 715.5h1M131 715.5h1M138 715.5h1M95 716.5h1M107 716.5h1M109 716.5h2M112 716.5h1M116 716.5h1M119 716.5h1M127 716.5h1M133 716.5h1M138 716.5h1M144 716.5h2M110 717.5h1M113 717.5h1M115 717.5h1M127 717.5h1M130 717.5h1M134 717.5h1M136 717.5h1M138 717.5h1M142 717.5h1M144 717.5h2M92 718.5h1M109 718.5h1M129 718.5h1M133 718.5h1M135 718.5h1M142 718.5h2M145 718.5h1M99 719.5h2M106 719.5h1M108 719.5h1M110 719.5h2M115 719.5h1M124 719.5h1M129 719.5h2M136 719.5h1M86 720.5h2M96 720.5h1M105 720.5h1M107 720.5h3M117 720.5h2M131 720.5h1M134 720.5h3M139 720.5h1M97 721.5h1M103 721.5h5M111 721.5h1M130 721.5h1M134 721.5h1M136 721.5h1M142 721.5h2M105 722.5h1M109 722.5h1M111 722.5h2M128 722.5h1M136 722.5h1M138 722.5h1M153 722.5h2M97 723.5h2M100 723.5h1M104 723.5h1M128 723.5h1M133 723.5h2M137 723.5h2M145 723.5h1M101 724.5h2M108 724.5h1M110 724.5h2M115 724.5h1M135 724.5h3M144 724.5h2M147 724.5h1M151 724.5h1M98 725.5h1M101 725.5h3M106 725.5h1M111 725.5h1M135 725.5h2M139 725.5h1M154 725.5h2M93 726.5h2M98 726.5h1M104 726.5h1M107 726.5h2M110 726.5h1M140 726.5h1M150 726.5h2M101 727.5h2M106 727.5h2M111 727.5h1M135 727.5h1M140 727.5h1M99 728.5h1M103 728.5h4M111 728.5h1M136 728.5h1M140 728.5h3M144 728.5h2M147 728.5h1M100 729.5h1M107 729.5h1M110 729.5h1M136 729.5h2M143 729.5h1M150 729.5h1M152 729.5h1M154 729.5h1M102 730.5h1M131 730.5h1M137 730.5h1M139 730.5h2M150 730.5h1M153 730.5h1M98 731.5h2M102 731.5h1M105 731.5h1M141 731.5h1M143 731.5h2M148 731.5h1M84 732.5h1M90 732.5h1M95 732.5h1M103 732.5h1M106 732.5h1M110 732.5h1M138 732.5h1M143 732.5h1M146 732.5h1M148 732.5h1M84 733.5h1M91 733.5h1M95 733.5h1M100 733.5h1M104 733.5h1M112 733.5h1M135 733.5h2M139 733.5h1M141 733.5h1M145 733.5h1M147 733.5h1M149 733.5h1M99 734.5h2M103 734.5h1M139 734.5h1M143 734.5h1M85 735.5h2M93 735.5h1M95 735.5h2M99 735.5h2M102 735.5h1M115 735.5h1M141 735.5h1M149 735.5h2M86 736.5h1M91 736.5h1M101 736.5h1M103 736.5h1M133 736.5h1M137 736.5h1M140 736.5h1M149 736.5h2M162 736.5h1M90 737.5h1M104 737.5h2M139 737.5h1M145 737.5h1M147 737.5h1M150 737.5h1M162 737.5h1M82 738.5h2M90 738.5h1M93 738.5h1M96 738.5h2M105 738.5h2M142 738.5h2M150 738.5h1M78 739.5h2M90 739.5h3M98 739.5h1M103 739.5h1M137 739.5h1M145 739.5h1M148 739.5h3M101 740.5h3M141 740.5h1M145 740.5h2M154 740.5h1M94 741.5h1M99 741.5h1M102 741.5h1M122 741.5h1M139 741.5h1M142 741.5h2M155 741.5h1M78 742.5h1M95 742.5h1M99 742.5h1M103 742.5h1M136 742.5h1M148 742.5h1M96 743.5h1M100 743.5h1M107 743.5h1M140 743.5h2M146 743.5h1M151 743.5h1M88 744.5h2M101 744.5h1M103 744.5h1M140 744.5h2M147 744.5h1M94 745.5h1M97 745.5h1M101 745.5h1M140 745.5h1M145 745.5h1M147 745.5h2M150 745.5h1M90 746.5h1M94 746.5h1M96 746.5h1M99 746.5h1M118 746.5h1M139 746.5h1M148 746.5h1M150 746.5h1M90 747.5h2M94 747.5h4M100 747.5h2M140 747.5h1M143 747.5h4M80 748.5h1M138 748.5h1M148 748.5h1M83 749.5h1M94 749.5h1M96 749.5h1M100 749.5h1M144 749.5h2M150 749.5h1M152 749.5h1M156 749.5h2M79 750.5h1M96 750.5h1M104 750.5h1M141 750.5h1M146 750.5h1M159 750.5h2M92 751.5h1M94 751.5h2M98 751.5h2M132 751.5h1M142 751.5h1M146 751.5h1M149 751.5h2M94 752.5h1M96 752.5h1M99 752.5h1M101 752.5h1M143 752.5h2M157 752.5h1M88 753.5h1M93 753.5h1M145 753.5h1M155 753.5h1M157 753.5h1M81 754.5h1M83 754.5h1M93 754.5h1M96 754.5h1M126 754.5h1M141 754.5h1M146 754.5h1M148 754.5h1M153 754.5h2M156 754.5h1M83 755.5h1M86 755.5h1M89 755.5h1M93 755.5h1M95 755.5h1M99 755.5h1M137 755.5h1M144 755.5h1M148 755.5h1M152 755.5h2M155 755.5h2M83 756.5h1M87 756.5h1M93 756.5h1M100 756.5h1M144 756.5h1M147 756.5h1M149 756.5h1M152 756.5h1M96 757.5h2M100 757.5h1M128 757.5h1M145 757.5h1M147 757.5h2M79 758.5h2M99 758.5h1M108 758.5h1M130 758.5h1M143 758.5h1M91 759.5h1M140 759.5h2M143 759.5h1M146 759.5h1M148 759.5h1M150 759.5h2M88 760.5h1M91 760.5h2M96 760.5h1M98 760.5h1M100 760.5h1M103 760.5h2M142 760.5h1M144 760.5h1M74 761.5h1M79 761.5h2M89 761.5h1M93 761.5h3M104 761.5h1M108 761.5h1M150 761.5h2M74 762.5h1M92 762.5h1M104 762.5h1M141 762.5h1M148 762.5h1M92 763.5h1M94 763.5h1M96 763.5h1M109 763.5h1M140 763.5h1M142 763.5h1M145 763.5h1M155 763.5h1M157 763.5h3M101 764.5h1M144 764.5h1M148 764.5h1M153 764.5h2M86 765.5h1M102 765.5h1M106 765.5h1M144 765.5h1M148 765.5h1M86 766.5h1M94 766.5h1M98 766.5h1M101 766.5h1M103 766.5h1M140 766.5h1M143 766.5h1M148 766.5h1M153 766.5h1M158 766.5h1M91 767.5h1M94 767.5h1M96 767.5h1M100 767.5h3M139 767.5h1M146 767.5h2M155 767.5h1M158 767.5h1M96 768.5h1M98 768.5h1M139 768.5h2M144 768.5h1M150 768.5h2M157 768.5h1M91 769.5h1M94 769.5h3M102 769.5h2M107 769.5h1M144 769.5h2M149 769.5h1M157 769.5h1M85 770.5h1M94 770.5h2M102 770.5h1M105 770.5h1M85 771.5h1M103 771.5h1M107 771.5h1M140 771.5h1M142 771.5h1M144 771.5h1M149 771.5h1M152 771.5h1M94 772.5h2M97 772.5h1M107 772.5h1M139 772.5h1M141 772.5h1M143 772.5h1M87 773.5h1M95 773.5h1M97 773.5h1M105 773.5h1M138 773.5h1M146 773.5h1M148 773.5h1M162 773.5h1M83 774.5h1M94 774.5h1M96 774.5h1M111 774.5h1M141 774.5h1M145 774.5h1M147 774.5h2M158 774.5h1M92 775.5h2M95 775.5h1M97 775.5h1M105 775.5h1M140 775.5h2M145 775.5h3M158 775.5h1M89 776.5h2M97 776.5h2M102 776.5h1M124 776.5h1M134 776.5h1M142 776.5h1M94 777.5h1M98 777.5h1M101 777.5h1M111 777.5h1M124 777.5h2M140 777.5h1M145 777.5h2M94 778.5h1M96 778.5h1M104 778.5h2M108 778.5h1M139 778.5h1M141 778.5h1M155 778.5h1M96 779.5h2M112 779.5h1M133 779.5h1M166 779.5h1M92 780.5h1M106 780.5h1M137 780.5h2M148 780.5h1M153 780.5h1M166 780.5h1M90 781.5h1M92 781.5h1M101 781.5h1M128 781.5h1M136 781.5h1M139 781.5h2M143 781.5h2M146 781.5h1M153 781.5h1M90 782.5h1M101 782.5h1M104 782.5h1M107 782.5h1M128 782.5h2M138 782.5h1M141 782.5h1M143 782.5h2M92 783.5h1M98 783.5h1M100 783.5h1M102 783.5h1M104 783.5h1M116 783.5h1M133 783.5h1M135 783.5h1M153 783.5h1M98 784.5h1M101 784.5h1M104 784.5h2M110 784.5h1M147 784.5h1M149 784.5h1M153 784.5h1M164 784.5h2M87 785.5h1M103 785.5h1M105 785.5h1M137 785.5h1M139 785.5h1M145 785.5h2M149 785.5h1M97 786.5h1M103 786.5h1M107 786.5h1M117 786.5h1M95 787.5h1M97 787.5h2M105 787.5h1M111 787.5h1M138 787.5h2M142 787.5h2M145 787.5h2M87 788.5h1M104 788.5h1M111 788.5h1M113 788.5h2M116 788.5h1M127 788.5h1M138 788.5h4M147 788.5h1M152 788.5h1M104 789.5h1M107 789.5h1M110 789.5h1M140 789.5h1M87 790.5h2M101 790.5h1M106 790.5h2M114 790.5h1M134 790.5h1M137 790.5h1M140 790.5h1M142 790.5h1M101 791.5h1M108 791.5h1M111 791.5h1M115 791.5h1M119 791.5h1M136 791.5h1M138 791.5h1M142 791.5h3M85 792.5h1M91 792.5h1M117 792.5h2M125 792.5h2M128 792.5h2M131 792.5h1M133 792.5h1M137 792.5h1M85 793.5h1M100 793.5h2M109 793.5h1M112 793.5h1M120 793.5h1M122 793.5h2M127 793.5h1M130 793.5h2M138 793.5h2M149 793.5h1M101 794.5h1M103 794.5h2M113 794.5h1M115 794.5h1M123 794.5h3M136 794.5h2M147 794.5h1M103 795.5h1M109 795.5h1M111 795.5h1M115 795.5h1M120 795.5h1M124 795.5h1M131 795.5h1M133 795.5h2M153 795.5h4M105 796.5h2M109 796.5h1M113 796.5h1M115 796.5h1M118 796.5h1M130 796.5h1M108 797.5h1M110 797.5h1M112 797.5h1M114 797.5h1M116 797.5h1M120 797.5h1M124 797.5h3M128 797.5h1M137 797.5h1M90 798.5h1M109 798.5h1M112 798.5h1M119 798.5h1M123 798.5h3M127 798.5h1M130 798.5h1M90 799.5h1M104 799.5h1M118 799.5h1M120 799.5h1M123 799.5h1M130 799.5h2M104 800.5h1M113 800.5h1M115 800.5h1M120 800.5h2M102 801.5h1M105 801.5h1M115 801.5h2M121 801.5h3M125 801.5h1M127 801.5h1M137 801.5h1M103 802.5h1M105 802.5h1M114 802.5h1M116 802.5h1M138 802.5h1M140 802.5h2M101 803.5h3M108 803.5h1M122 803.5h1M124 803.5h1M126 803.5h1M130 803.5h1M134 803.5h1M108 804.5h2M114 804.5h2M125 804.5h1M127 804.5h2M132 804.5h1M134 804.5h1M109 805.5h1M126 805.5h3M132 805.5h1M107 807.5h3M114 807.5h1M124 807.5h1M127 807.5h2M148 807.5h1M113 808.5h2M116 808.5h3M112 809.5h1M117 809.5h1M120 809.5h2M125 809.5h1M127 809.5h2M125 810.5h1M135 810.5h1M135 811.5h1M57 812.5h1" stroke="#3a3a3a" stroke-width="1" fill="none"/>
<path d="M128 701.5h1M116 702.5h1M129 702.5h1M114 703.5h1M116 703.5h1M139 703.5h1M115 704.5h1M121 704.5h1M140 704.5h1M120 705.5h1M120 706.5h1M123 706.5h1M114 707.5h1M120 707.5h1M124 707.5h1M108 708.5h2M116 708.5h1M119 708.5h1M122 708.5h2M128 708.5h1M135 708.5h1M108 709.5h1M117 709.5h1M122 709.5h2M127 709.5h1M133 709.5h1M135 709.5h2M141 709.5h2M108 710.5h2M123 710.5h1M127 710.5h1M130 710.5h1M132 710.5h1M134 710.5h1M142 710.5h1M77 711.5h2M97 711.5h1M108 711.5h1M122 711.5h1M126 711.5h1M133 711.5h2M78 712.5h1M86 712.5h1M97 712.5h1M109 712.5h1M111 712.5h1M118 712.5h1M121 712.5h1M127 712.5h2M141 712.5h1M86 713.5h2M103 713.5h1M110 713.5h1M114 713.5h1M118 713.5h1M121 713.5h1M130 713.5h1M142 713.5h1M109 714.5h1M111 714.5h1M117 714.5h1M122 714.5h1M124 714.5h1M129 714.5h1M131 714.5h1M104 715.5h2M109 715.5h2M121 715.5h1M126 715.5h2M149 715.5h1M103 716.5h1M108 716.5h1M111 716.5h1M115 716.5h1M120 716.5h1M123 716.5h1M131 716.5h1M137 716.5h1M148 716.5h1M107 717.5h2M118 717.5h1M148 717.5h1M90 718.5h1M102 718.5h1M107 718.5h2M130 718.5h1M132 718.5h1M144 718.5h1M149 718.5h1M90 719.5h2M103 719.5h1M105 719.5h1M109 719.5h1M112 719.5h1M133 719.5h1M144 719.5h2M156 719.5h1M133 720.5h1M138 720.5h1M145 720.5h1M155 720.5h1M101 721.5h2M108 721.5h2M138 721.5h2M144 721.5h1M103 722.5h1M108 722.5h1M127 722.5h1M99 723.5h1M103 723.5h1M105 723.5h1M97 724.5h2M103 724.5h1M105 724.5h1M107 724.5h1M116 724.5h1M133 724.5h2M138 724.5h2M143 724.5h1M148 724.5h1M152 724.5h1M97 725.5h1M109 725.5h1M133 725.5h1M147 725.5h2M151 725.5h2M101 726.5h2M105 726.5h2M111 726.5h1M118 726.5h1M134 726.5h1M139 726.5h1M146 726.5h2M88 727.5h1M97 727.5h1M104 727.5h2M137 727.5h1M146 727.5h1M89 728.5h1M98 728.5h1M101 728.5h1M138 728.5h2M94 729.5h1M103 729.5h1M106 729.5h1M138 729.5h1M142 729.5h1M93 730.5h1M95 730.5h1M100 730.5h1M138 730.5h1M143 730.5h2M146 730.5h1M149 730.5h1M152 730.5h1M90 731.5h2M96 731.5h1M138 731.5h2M147 731.5h1M96 732.5h1M99 732.5h1M145 732.5h1M149 732.5h1M156 732.5h1M98 733.5h1M101 733.5h3M142 733.5h3M150 733.5h1M155 733.5h1M98 734.5h1M101 734.5h1M144 734.5h2M148 734.5h2M87 735.5h1M90 735.5h2M94 735.5h1M98 735.5h1M103 735.5h1M140 735.5h1M142 735.5h1M144 735.5h2M147 735.5h1M154 735.5h1M85 736.5h1M87 736.5h1M90 736.5h1M93 736.5h2M97 736.5h1M100 736.5h1M143 736.5h1M146 736.5h1M155 736.5h1M91 737.5h1M97 737.5h2M100 737.5h1M102 737.5h1M146 737.5h1M148 737.5h1M154 737.5h1M91 738.5h2M95 738.5h1M100 738.5h1M145 738.5h1M153 738.5h1M155 738.5h1M159 738.5h1M96 739.5h1M142 739.5h2M146 739.5h1M151 739.5h1M158 739.5h1M99 740.5h1M142 740.5h1M150 740.5h1M167 740.5h1M77 741.5h2M95 741.5h3M100 741.5h2M103 741.5h1M144 741.5h2M147 741.5h1M150 741.5h2M166 741.5h1M77 742.5h1M92 742.5h1M97 742.5h2M149 742.5h3M88 743.5h2M93 743.5h1M97 743.5h2M101 743.5h1M144 743.5h1M149 743.5h2M96 744.5h1M148 744.5h3M99 745.5h1M149 745.5h1M151 745.5h1M93 746.5h1M141 746.5h1M146 746.5h2M155 746.5h1M83 747.5h2M99 747.5h1M149 747.5h1M156 747.5h1M84 748.5h1M95 748.5h2M146 748.5h2M150 748.5h1M81 749.5h1M93 749.5h1M98 749.5h2M146 749.5h2M93 750.5h1M95 750.5h1M99 750.5h2M142 750.5h1M148 750.5h1M163 750.5h1M91 751.5h1M147 751.5h1M162 751.5h1M88 752.5h2M91 752.5h2M97 752.5h2M145 752.5h1M148 752.5h2M156 752.5h1M81 753.5h2M96 753.5h1M98 753.5h1M100 753.5h2M147 753.5h1M149 753.5h1M82 754.5h1M89 754.5h2M92 754.5h1M142 754.5h1M149 754.5h1M90 755.5h2M100 755.5h1M150 755.5h1M154 755.5h1M82 756.5h1M95 756.5h1M98 756.5h1M145 756.5h2M150 756.5h2M153 756.5h1M157 756.5h1M82 757.5h2M91 757.5h1M93 757.5h1M98 757.5h1M149 757.5h4M155 757.5h2M85 758.5h1M92 758.5h1M95 758.5h2M98 758.5h1M102 758.5h1M145 758.5h1M148 758.5h2M156 758.5h1M84 759.5h1M88 759.5h2M92 759.5h1M96 759.5h1M149 759.5h1M90 760.5h1M147 760.5h1M150 760.5h2M92 761.5h1M100 761.5h1M102 761.5h1M142 761.5h2M88 762.5h1M95 762.5h1M149 762.5h1M151 762.5h1M156 762.5h2M89 763.5h1M98 763.5h1M100 763.5h2M149 763.5h1M152 763.5h1M156 763.5h1M82 764.5h1M95 764.5h1M99 764.5h1M106 764.5h1M143 764.5h1M152 764.5h1M81 765.5h1M95 765.5h1M97 765.5h1M141 765.5h1M153 765.5h1M102 766.5h1M144 766.5h1M147 766.5h1M152 766.5h1M97 767.5h1M143 767.5h1M152 767.5h2M156 767.5h1M97 768.5h1M102 768.5h1M147 768.5h1M149 768.5h1M152 768.5h1M155 768.5h2M98 769.5h1M147 769.5h1M151 769.5h2M97 770.5h2M101 770.5h1M142 770.5h1M145 770.5h1M150 770.5h1M92 771.5h2M138 771.5h1M146 771.5h1M153 771.5h1M91 772.5h1M99 772.5h1M106 772.5h1M142 772.5h1M144 772.5h1M147 772.5h1M152 772.5h1M161 772.5h2M86 773.5h1M91 773.5h4M98 773.5h1M101 773.5h2M147 773.5h1M161 773.5h1M84 774.5h1M86 774.5h2M91 774.5h1M100 774.5h1M150 774.5h1M83 775.5h2M90 775.5h1M94 775.5h1M96 775.5h1M101 775.5h1M103 775.5h1M139 775.5h1M151 775.5h1M96 776.5h1M100 776.5h1M104 776.5h1M144 776.5h3M139 777.5h1M143 777.5h1M147 777.5h1M154 777.5h2M107 778.5h1M135 778.5h2M142 778.5h1M144 778.5h1M146 778.5h1M154 778.5h1M95 779.5h1M100 779.5h1M102 779.5h1M143 779.5h2M96 780.5h2M99 780.5h2M102 780.5h1M142 780.5h1M144 780.5h1M149 780.5h1M84 781.5h1M93 781.5h1M97 781.5h1M99 781.5h1M103 781.5h1M138 781.5h1M148 781.5h2M85 782.5h1M118 782.5h1M93 783.5h1M97 783.5h1M99 783.5h1M106 783.5h1M138 783.5h1M90 784.5h1M92 784.5h2M97 784.5h1M99 784.5h2M133 784.5h1M142 784.5h1M146 784.5h1M88 785.5h2M107 785.5h1M143 785.5h2M148 785.5h1M87 786.5h2M95 786.5h2M138 786.5h1M144 786.5h2M96 787.5h1M110 787.5h1M135 787.5h1M151 787.5h2M88 788.5h1M103 788.5h1M148 788.5h1M151 788.5h1M87 789.5h2M113 789.5h1M134 789.5h1M136 789.5h1M147 789.5h3M113 790.5h1M135 790.5h2M138 790.5h1M143 790.5h2M148 790.5h1M91 791.5h2M100 791.5h1M106 791.5h1M113 791.5h1M116 791.5h1M118 791.5h1M129 791.5h1M149 791.5h1M92 792.5h1M101 792.5h1M107 792.5h1M109 792.5h1M113 792.5h1M136 792.5h1M138 792.5h1M140 792.5h1M142 792.5h1M150 792.5h1M108 793.5h1M111 793.5h1M124 793.5h1M134 793.5h1M141 793.5h1M87 794.5h1M97 794.5h1M110 794.5h1M127 794.5h1M131 794.5h3M138 794.5h1M86 795.5h1M96 795.5h1M108 795.5h1M113 795.5h1M118 795.5h1M127 795.5h1M139 795.5h1M101 796.5h2M104 796.5h1M107 796.5h2M116 796.5h1M150 796.5h1M103 797.5h1M105 797.5h1M117 797.5h1M123 797.5h1M131 797.5h2M151 797.5h1M105 798.5h1M111 798.5h1M113 798.5h1M117 798.5h1M122 798.5h1M126 798.5h1M128 798.5h2M132 798.5h1M103 799.5h1M107 799.5h1M111 799.5h1M114 799.5h1M122 799.5h1M124 799.5h1M90 800.5h1M110 800.5h1M119 800.5h1M89 801.5h1M110 801.5h1M124 801.5h1M131 801.5h1M135 801.5h1M138 801.5h2M115 802.5h1M120 802.5h1M128 802.5h3M132 802.5h2M136 802.5h1M139 802.5h1M112 803.5h1M115 803.5h2M121 803.5h1M123 803.5h1M127 803.5h1M129 803.5h1M111 804.5h1M120 804.5h1M119 805.5h1M124 805.5h1M96 806.5h1M109 806.5h2M125 806.5h2M97 807.5h1M110 807.5h1M113 807.5h1M118 807.5h2M123 807.5h1M135 807.5h1M147 807.5h1M119 808.5h1M123 808.5h2M127 808.5h1M134 808.5h1M147 808.5h2M118 809.5h1M117 810.5h2M56 811.5h2M56 812.5h1" stroke="#8a8a8a" stroke-width="1" fill="none"/>
<rect x="52.6" y="696.5" width="124.80000000000001" height="119.89999999999998" fill="none" stroke="#666" stroke-width="0.7"/>
<line x1="56.9" y1="816.4" x2="56.9" y2="818.8" stroke="#888" stroke-width="0.5"/>
<text x="56.9" y="826.2" text-anchor="middle" font-family="&quot;Liberation Sans&quot;, sans-serif" font-size="4.6" fill="#222">0</text>
<line x1="74.9" y1="816.4" x2="74.9" y2="818.8" stroke="#888" stroke-width="0.5"/>
<text x="74.9" y="826.2" text-anchor="middle" font-family="&quot;Liberation Sans&quot;, sans-serif" font-size="4.6" fill="#222">2</text>
<line x1="92.9" y1="816.4" x2="92.9" y2="818.8" stroke="#888" stroke-width="0.5"/>
<text x="92.9" y="826.2" text-anchor="middle" font-family="&quot;Liberation Sans&quot;, sans-serif" font-size="4.6" fill="#222">4</text>
<line x1="110.9" y1="816.4" x2="110.9" y2="818.8" stroke="#888" stroke-width="0.5"/>
<text x="110.9" y="826.2" text-anchor="middle" font-family="&quot;Liberation Sans&quot;, sans-serif" font-size="4.6" fill="#222">6</text>
<line x1="128.9" y1="816.4" x2="128.9" y2="818.8" stroke="#888" stroke-width="0.5"/>
<text x="128.9" y="826.2" text-anchor="middle" font-family="&quot;Liberation Sans&quot;, sans-serif" font-size="4.6" fill="#222">8</text>
<line x1="146.9" y1="816.4" x2="146.9" y2="818.8" stroke="#888" stroke-width="0.5"/>
<text x="146.9" y="826.2" text-anchor="middle" font-family="&quot;Liberation Sans&quot;, sans-serif" font-size="4.6" fill="#222">10</text>
<line x1="164.9" y1="816.4" x2="164.9" y2="818.8" stroke="#888" stroke-width="0.5"/>
<text x="164.9" y="826.2" text-anchor="middle" font-family="&quot;Liberation Sans&quot;, sans-serif" font-size="4.6" fill="#222">12</text>
<line x1="49.800000000000004" y1="812.0" x2="52.6" y2="812.0" stroke="#888" stroke-width="0.5"/>
<text x="46.2" y="812.0" text-anchor="middle" transform="rotate(-90 46.2 812.0)" font-family="&quot;Liberation Sans&quot;, sans-serif" font-size="4.6" fill="#222">0.0</text>
<line x1="49.800000000000004" y1="792.5" x2="52.6" y2="792.5" stroke="#888" stroke-width="0.5"/>
<text x="46.2" y="792.5" text-anchor="middle" transform="rotate(-90 46.2 792.5)" font-family="&quot;Liberation Sans&quot;, sans-serif" font-size="4.6" fill="#222">0.5</text>
<line x1="49.800000000000004" y1="773.1" x2="52.6" y2="773.1" stroke="#888" stroke-width="0.5"/>
<text x="46.2" y="773.1" text-anchor="middle" transform="rotate(-90 46.2 773.1)" font-family="&quot;Liberation Sans&quot;, sans-serif" font-size="4.6" fill="#222">1.0</text>
<line x1="49.800000000000004" y1="753.6" x2="52.6" y2="753.6" stroke="#888" stroke-width="0.5"/>
<text x="46.2" y="753.6" text-anchor="middle" transform="rotate(-90 46.2 753.6)" font-family="&quot;Liberation Sans&quot;, sans-serif" font-size="4.6" fill="#222">1.5</text>
<line x1="49.800000000000004" y1="734.2" x2="52.6" y2="734.2" stroke="#888" stroke-width="0.5"/>
<text x="46.2" y="734.2" text-anchor="middle" transform="rotate(-90 46.2 734.2)" font-family="&quot;Liberation Sans&quot;, sans-serif" font-size="4.6" fill="#222">2.0</text>
<line x1="49.800000000000004" y1="714.8" x2="52.6" y2="714.8" stroke="#888" stroke-width="0.5"/>
<text x="46.2" y="714.8" text-anchor="middle" transform="rotate(-90 46.2 714.8)" font-family="&quot;Liberation Sans&quot;, sans-serif" font-size="4.6" fill="#222">2.5</text>
<text x="115.0" y="838" text-anchor="middle" font-family="&quot;Liberation Sans&quot;, sans-serif" font-size="6.9" fill="#222">log2(HSPA1A TPM)</text>
<text x="35.6" y="756" text-anchor="middle" transform="rotate(-90 35.6 756)" font-family="&quot;Liberation Sans&quot;, sans-serif" font-size="7.1" fill="#222">log2(6 Signatures TPM)</text>
<text x="60.0" y="705.1" font-family="&quot;Liberation Sans&quot;, sans-serif" font-size="6.0" fill="#000">p−value = 0.029</text>
<text x="60.0" y="712.0" font-family="&quot;Liberation Sans&quot;, sans-serif" font-size="6.0" fill="#000">R = 0.022</text>
<path d="M281 702.5h1M258 703.5h1M286 703.5h1M300 703.5h1M283 704.5h1M300 704.5h1M263 705.5h1M280 705.5h1M283 705.5h1M273 706.5h1M287 706.5h1M259 707.5h1M276 707.5h1M284 707.5h1M276 708.5h1M283 708.5h1M275 709.5h1M281 709.5h3M264 710.5h1M275 710.5h1M277 710.5h1M281 710.5h2M289 710.5h1M260 711.5h1M280 711.5h3M284 711.5h1M268 712.5h1M273 712.5h1M277 712.5h1M281 712.5h1M283 712.5h1M285 712.5h1M293 712.5h1M296 712.5h2M272 713.5h2M278 713.5h6M293 713.5h1M268 714.5h1M270 714.5h1M272 714.5h2M276 714.5h3M283 714.5h2M301 714.5h1M267 715.5h1M269 715.5h1M271 715.5h3M278 715.5h2M281 715.5h4M286 715.5h1M288 715.5h2M301 715.5h1M263 716.5h1M265 716.5h2M270 716.5h3M275 716.5h11M287 716.5h3M294 716.5h1M262 717.5h1M271 717.5h1M276 717.5h3M281 717.5h8M291 717.5h1M294 717.5h2M300 717.5h1M266 718.5h1M271 718.5h1M275 718.5h1M277 718.5h1M281 718.5h1M283 718.5h6M291 718.5h3M262 719.5h1M266 719.5h3M270 719.5h3M275 719.5h7M283 719.5h14M263 720.5h2M266 720.5h2M269 720.5h1M272 720.5h1M274 720.5h8M284 720.5h4M289 720.5h1M291 720.5h2M298 720.5h1M302 720.5h1M264 721.5h1M267 721.5h1M269 721.5h1M272 721.5h5M278 721.5h1M281 721.5h9M291 721.5h2M302 721.5h1M247 722.5h1M261 722.5h1M267 722.5h2M270 722.5h6M278 722.5h1M280 722.5h11M292 722.5h1M295 722.5h1M299 722.5h1M301 722.5h1M255 723.5h1M263 723.5h3M267 723.5h2M270 723.5h1M272 723.5h6M279 723.5h4M284 723.5h8M295 723.5h1M298 723.5h1M261 724.5h3M266 724.5h3M270 724.5h13M284 724.5h8M293 724.5h3M297 724.5h1M300 724.5h2M261 725.5h1M265 725.5h4M270 725.5h1M274 725.5h18M294 725.5h1M304 725.5h1M261 726.5h2M265 726.5h1M267 726.5h6M274 726.5h17M293 726.5h1M299 726.5h1M259 727.5h1M261 727.5h1M265 727.5h1M267 727.5h14M283 727.5h12M296 727.5h1M245 728.5h1M262 728.5h3M269 728.5h1M271 728.5h11M283 728.5h15M301 728.5h1M262 729.5h5M268 729.5h2M271 729.5h19M292 729.5h5M299 729.5h4M304 729.5h2M255 730.5h3M259 730.5h1M262 730.5h6M269 730.5h17M287 730.5h10M299 730.5h2M249 731.5h1M265 731.5h21M287 731.5h11M303 731.5h1M241 732.5h1M260 732.5h2M264 732.5h4M269 732.5h24M294 732.5h6M302 732.5h1M260 733.5h1M263 733.5h1M265 733.5h28M294 733.5h5M300 733.5h1M303 733.5h1M247 734.5h1M259 734.5h1M263 734.5h3M267 734.5h26M294 734.5h3M300 734.5h1M303 734.5h1M263 735.5h34M298 735.5h3M307 735.5h1M252 736.5h1M255 736.5h1M261 736.5h39M254 737.5h2M258 737.5h3M262 737.5h34M297 737.5h3M252 738.5h3M258 738.5h1M261 738.5h39M309 738.5h1M248 739.5h2M253 739.5h1M261 739.5h1M263 739.5h1M265 739.5h35M303 739.5h3M245 740.5h1M261 740.5h1M263 740.5h37M301 740.5h2M304 740.5h2M256 741.5h1M258 741.5h1M261 741.5h1M263 741.5h38M303 741.5h2M255 742.5h1M257 742.5h1M262 742.5h39M303 742.5h2M255 743.5h16M273 743.5h28M303 743.5h2M309 743.5h2M239 744.5h1M253 744.5h1M261 744.5h38M303 744.5h1M253 745.5h2M261 745.5h42M245 746.5h1M249 746.5h2M254 746.5h1M259 746.5h2M263 746.5h38M249 747.5h1M259 747.5h42M302 747.5h2M313 747.5h2M249 748.5h1M252 748.5h1M258 748.5h1M261 748.5h37M299 748.5h2M303 748.5h1M305 748.5h1M259 749.5h43M304 749.5h2M248 750.5h1M251 750.5h1M254 750.5h1M256 750.5h3M260 750.5h1M262 750.5h32M295 750.5h6M242 751.5h1M254 751.5h2M260 751.5h3M264 751.5h40M305 751.5h1M309 751.5h2M254 752.5h1M258 752.5h1M262 752.5h39M304 752.5h1M309 752.5h1M256 753.5h1M259 753.5h1M262 753.5h40M303 753.5h1M305 753.5h1M310 753.5h1M313 753.5h1M253 754.5h1M255 754.5h2M258 754.5h2M261 754.5h41M303 754.5h1M306 754.5h2M309 754.5h1M315 754.5h1M256 755.5h1M259 755.5h37M297 755.5h2M300 755.5h3M306 755.5h2M255 756.5h1M259 756.5h4M264 756.5h32M297 756.5h1M302 756.5h1M304 756.5h1M253 757.5h1M255 757.5h2M259 757.5h4M264 757.5h35M300 757.5h3M304 757.5h2M260 758.5h2M263 758.5h30M294 758.5h7M302 758.5h1M240 759.5h1M258 759.5h1M261 759.5h1M265 759.5h18M284 759.5h19M307 759.5h1M255 760.5h1M258 760.5h1M262 760.5h1M264 760.5h41M306 760.5h1M312 760.5h1M255 761.5h1M258 761.5h25M284 761.5h18M305 761.5h1M258 762.5h5M264 762.5h37M252 763.5h1M257 763.5h2M260 763.5h1M262 763.5h40M259 764.5h44M307 764.5h1M260 765.5h41M303 765.5h1M244 766.5h1M260 766.5h2M263 766.5h37M302 766.5h1M305 766.5h2M251 767.5h1M256 767.5h1M258 767.5h4M265 767.5h38M309 767.5h1M253 768.5h1M255 768.5h2M262 768.5h3M266 768.5h36M305 768.5h1M256 769.5h1M258 769.5h3M262 769.5h35M299 769.5h4M305 769.5h2M258 770.5h37M297 770.5h2M303 770.5h1M307 770.5h1M309 770.5h1M261 771.5h1M263 771.5h5M269 771.5h26M296 771.5h4M302 771.5h3M259 772.5h39M299 772.5h2M304 772.5h1M260 773.5h2M264 773.5h34M300 773.5h1M304 773.5h2M254 774.5h2M258 774.5h1M263 774.5h32M296 774.5h2M299 774.5h1M302 774.5h4M308 774.5h1M324 774.5h1M254 775.5h1M257 775.5h2M260 775.5h1M263 775.5h1M265 775.5h19M285 775.5h10M296 775.5h4M302 775.5h1M254 776.5h1M258 776.5h1M260 776.5h3M265 776.5h29M295 776.5h2M298 776.5h1M301 776.5h2M259 777.5h1M261 777.5h36M300 777.5h1M263 778.5h2M266 778.5h31M300 778.5h1M256 779.5h1M263 779.5h34M298 779.5h2M262 780.5h4M267 780.5h29M297 780.5h1M302 780.5h2M263 781.5h1M265 781.5h2M268 781.5h26M296 781.5h1M298 781.5h3M260 782.5h1M266 782.5h12M279 782.5h15M296 782.5h1M305 782.5h1M266 783.5h1M268 783.5h30M301 783.5h1M264 784.5h2M268 784.5h13M282 784.5h8M291 784.5h5M307 784.5h1M251 785.5h1M258 785.5h1M260 785.5h1M264 785.5h2M268 785.5h23M292 785.5h3M252 786.5h1M264 786.5h4M269 786.5h5M275 786.5h10M286 786.5h2M289 786.5h1M291 786.5h2M308 786.5h1M257 787.5h1M266 787.5h1M269 787.5h3M273 787.5h17M291 787.5h1M293 787.5h1M295 787.5h1M263 788.5h1M269 788.5h2M274 788.5h17M298 788.5h3M263 789.5h2M269 789.5h2M272 789.5h3M276 789.5h16M300 789.5h1M304 789.5h1M255 790.5h1M264 790.5h1M270 790.5h5M276 790.5h2M279 790.5h12M296 790.5h2M262 791.5h1M265 791.5h1M268 791.5h2M272 791.5h8M282 791.5h3M287 791.5h5M297 791.5h1M268 792.5h1M275 792.5h1M277 792.5h1M281 792.5h2M284 792.5h2M287 792.5h1M289 792.5h4M302 792.5h1M305 792.5h1M273 793.5h3M277 793.5h2M280 793.5h3M285 793.5h2M288 793.5h1M290 793.5h2M254 794.5h1M269 794.5h1M273 794.5h3M277 794.5h6M285 794.5h7M294 794.5h1M266 795.5h1M273 795.5h2M277 795.5h5M284 795.5h3M291 795.5h2M296 795.5h1M299 795.5h1M264 796.5h1M274 796.5h2M278 796.5h3M285 796.5h1M291 796.5h1M242 797.5h1M264 797.5h1M266 797.5h1M271 797.5h1M275 797.5h1M278 797.5h3M284 797.5h3M288 797.5h1M273 798.5h1M277 798.5h5M301 798.5h1M319 798.5h1M264 799.5h1M267 799.5h1M275 799.5h3M296 799.5h1M270 800.5h1M278 800.5h3M283 800.5h2M284 801.5h1M293 801.5h1M283 802.5h2M267 803.5h1M286 803.5h1M299 804.5h1M270 805.5h1M300 805.5h1M284 808.5h1M293 810.5h1" stroke="#000" stroke-width="1" fill="none"/>
<path d="M257 701.5h1M280 701.5h1M257 702.5h1M280 702.5h1M282 702.5h1M300 702.5h1M275 703.5h2M281 703.5h2M285 703.5h1M268 704.5h2M272 704.5h1M276 704.5h2M282 704.5h1M293 704.5h1M301 704.5h1M252 705.5h1M272 705.5h1M284 705.5h1M293 705.5h1M299 705.5h1M309 705.5h1M252 706.5h1M274 706.5h1M276 706.5h2M281 706.5h2M284 706.5h1M299 706.5h1M309 706.5h1M261 707.5h2M266 707.5h1M275 707.5h1M295 707.5h2M300 707.5h1M266 708.5h1M275 708.5h1M279 708.5h1M286 708.5h2M290 708.5h1M300 708.5h1M262 709.5h1M268 709.5h1M273 709.5h2M276 709.5h1M279 709.5h1M284 709.5h2M289 709.5h1M262 710.5h2M268 710.5h1M273 710.5h2M276 710.5h1M278 710.5h2M288 710.5h1M290 710.5h1M300 710.5h1M307 710.5h1M254 711.5h2M269 711.5h1M272 711.5h2M275 711.5h1M277 711.5h1M279 711.5h1M283 711.5h1M286 711.5h1M293 711.5h1M296 711.5h1M307 711.5h1M249 712.5h1M269 712.5h2M272 712.5h1M276 712.5h1M278 712.5h1M280 712.5h1M282 712.5h1M284 712.5h1M286 712.5h3M249 713.5h1M270 713.5h1M275 713.5h1M277 713.5h1M289 713.5h1M294 713.5h2M303 713.5h1M267 714.5h1M271 714.5h1M274 714.5h2M280 714.5h3M288 714.5h1M293 714.5h1M295 714.5h1M303 714.5h1M266 715.5h1M268 715.5h1M270 715.5h1M277 715.5h1M285 715.5h1M287 715.5h1M290 715.5h1M295 715.5h2M262 716.5h1M267 716.5h1M273 716.5h1M286 716.5h1M291 716.5h3M295 716.5h1M299 716.5h2M256 717.5h1M263 717.5h1M266 717.5h2M270 717.5h1M273 717.5h3M279 717.5h1M289 717.5h1M292 717.5h2M299 717.5h1M301 717.5h1M267 718.5h2M270 718.5h1M273 718.5h2M276 718.5h1M278 718.5h3M282 718.5h1M290 718.5h1M294 718.5h2M315 718.5h1M257 719.5h4M263 719.5h2M273 719.5h2M282 719.5h1M297 719.5h2M307 719.5h1M315 719.5h1M251 720.5h2M262 720.5h1M268 720.5h1M273 720.5h1M282 720.5h2M288 720.5h1M290 720.5h1M294 720.5h2M297 720.5h1M300 720.5h1M253 721.5h1M258 721.5h2M268 721.5h1M270 721.5h2M277 721.5h1M279 721.5h2M290 721.5h1M294 721.5h2M300 721.5h1M259 722.5h1M262 722.5h1M269 722.5h1M279 722.5h1M291 722.5h1M296 722.5h3M300 722.5h1M302 722.5h1M252 723.5h1M259 723.5h1M261 723.5h2M269 723.5h1M271 723.5h1M278 723.5h1M283 723.5h1M292 723.5h1M294 723.5h1M308 723.5h1M252 724.5h1M265 724.5h1M283 724.5h1M296 724.5h1M305 724.5h1M308 724.5h1M251 725.5h1M255 725.5h2M258 725.5h1M262 725.5h2M269 725.5h1M271 725.5h3M293 725.5h1M303 725.5h1M305 725.5h1M260 726.5h1M266 726.5h1M292 726.5h1M298 726.5h1M300 726.5h1M309 726.5h1M321 726.5h1M255 727.5h2M260 727.5h1M262 727.5h3M281 727.5h2M295 727.5h1M300 727.5h1M309 727.5h1M321 727.5h1M255 728.5h2M261 728.5h1M265 728.5h2M268 728.5h1M270 728.5h1M282 728.5h1M304 728.5h2M259 729.5h2M267 729.5h1M270 729.5h1M291 729.5h1M303 729.5h1M254 730.5h1M261 730.5h1M268 730.5h1M286 730.5h1M297 730.5h1M301 730.5h1M306 730.5h1M253 731.5h1M255 731.5h1M260 731.5h1M299 731.5h1M306 731.5h1M255 732.5h1M268 732.5h1M293 732.5h1M301 732.5h1M303 732.5h1M259 733.5h1M261 733.5h2M264 733.5h1M293 733.5h1M299 733.5h1M302 733.5h1M248 734.5h1M260 734.5h1M266 734.5h1M293 734.5h1M298 734.5h2M243 735.5h1M253 735.5h1M255 735.5h1M259 735.5h1M297 735.5h1M301 735.5h1M306 735.5h1M308 735.5h3M243 736.5h1M245 736.5h2M250 736.5h1M253 736.5h1M300 736.5h1M250 737.5h1M253 737.5h1M257 737.5h1M261 737.5h1M296 737.5h1M300 737.5h1M248 738.5h1M257 738.5h1M300 738.5h1M303 738.5h1M305 738.5h1M310 738.5h3M255 739.5h1M262 739.5h1M264 739.5h1M301 739.5h2M246 740.5h1M256 740.5h2M300 740.5h1M303 740.5h1M306 740.5h1M311 740.5h1M255 741.5h1M259 741.5h1M262 741.5h1M301 741.5h2M305 741.5h1M250 742.5h1M254 742.5h1M256 742.5h1M259 742.5h3M306 742.5h1M250 743.5h1M254 743.5h1M271 743.5h2M306 743.5h1M311 743.5h1M245 744.5h1M254 744.5h3M258 744.5h3M299 744.5h3M304 744.5h1M309 744.5h2M250 745.5h1M257 745.5h1M259 745.5h2M303 745.5h1M306 745.5h2M311 745.5h2M257 746.5h2M261 746.5h2M302 746.5h2M306 746.5h2M248 747.5h1M250 747.5h1M253 747.5h1M301 747.5h1M246 748.5h1M253 748.5h1M255 748.5h2M259 748.5h1M302 748.5h1M304 748.5h1M306 748.5h1M246 749.5h1M249 749.5h1M258 749.5h1M303 749.5h1M306 749.5h2M312 749.5h1M253 750.5h1M255 750.5h1M259 750.5h1M261 750.5h1M294 750.5h1M301 750.5h2M312 750.5h1M241 751.5h1M247 751.5h1M249 751.5h2M256 751.5h1M263 751.5h1M304 751.5h1M318 751.5h1M244 752.5h1M250 752.5h1M301 752.5h1M303 752.5h1M308 752.5h1M310 752.5h1M318 752.5h1M247 753.5h2M250 753.5h1M254 753.5h2M257 753.5h1M261 753.5h1M302 753.5h1M304 753.5h1M306 753.5h1M309 753.5h1M247 754.5h1M250 754.5h1M252 754.5h1M254 754.5h1M257 754.5h1M302 754.5h1M304 754.5h2M308 754.5h1M310 754.5h1M250 755.5h1M253 755.5h1M257 755.5h2M296 755.5h1M299 755.5h1M303 755.5h3M308 755.5h1M313 755.5h1M325 755.5h1M252 756.5h1M254 756.5h1M263 756.5h1M296 756.5h1M298 756.5h1M300 756.5h1M313 756.5h1M319 756.5h1M252 757.5h1M257 757.5h2M263 757.5h1M299 757.5h1M303 757.5h1M244 758.5h1M256 758.5h2M259 758.5h1M293 758.5h1M303 758.5h1M307 758.5h1M244 759.5h1M255 759.5h1M257 759.5h1M259 759.5h1M262 759.5h3M283 759.5h1M303 759.5h2M253 760.5h1M257 760.5h1M261 760.5h1M263 760.5h1M253 761.5h1M283 761.5h1M302 761.5h1M309 761.5h1M252 762.5h1M305 762.5h1M309 762.5h1M246 763.5h1M256 763.5h1M259 763.5h1M261 763.5h1M305 763.5h1M307 763.5h1M246 764.5h1M252 764.5h1M303 764.5h1M317 764.5h1M302 765.5h1M304 765.5h2M317 765.5h1M251 766.5h2M256 766.5h1M262 766.5h1M300 766.5h1M303 766.5h1M315 766.5h1M250 767.5h1M252 767.5h2M257 767.5h1M262 767.5h1M264 767.5h1M303 767.5h1M306 767.5h1M315 767.5h1M244 768.5h2M251 768.5h1M258 768.5h1M260 768.5h1M265 768.5h1M302 768.5h1M306 768.5h1M251 769.5h1M254 769.5h1M297 769.5h2M303 769.5h1M246 770.5h1M254 770.5h1M299 770.5h4M305 770.5h1M308 770.5h1M259 771.5h1M295 771.5h1M301 771.5h1M305 771.5h1M307 771.5h1M312 771.5h2M252 772.5h1M298 772.5h1M253 773.5h1M255 773.5h1M258 773.5h2M262 773.5h2M299 773.5h1M301 773.5h1M303 773.5h1M307 773.5h2M253 774.5h1M262 774.5h1M295 774.5h1M300 774.5h1M309 774.5h4M253 775.5h1M256 775.5h1M284 775.5h1M295 775.5h1M305 775.5h1M312 775.5h1M252 776.5h1M255 776.5h1M259 776.5h1M263 776.5h2M294 776.5h1M299 776.5h2M303 776.5h2M252 777.5h1M254 777.5h1M258 777.5h1M298 777.5h1M301 777.5h1M258 778.5h2M265 778.5h1M298 778.5h2M301 778.5h1M245 779.5h1M300 779.5h1M302 779.5h1M313 779.5h1M245 780.5h1M256 780.5h1M266 780.5h1M300 780.5h2M233 781.5h2M258 781.5h2M262 781.5h1M267 781.5h1M294 781.5h2M303 781.5h1M259 782.5h1M263 782.5h1M304 782.5h1M310 782.5h1M259 783.5h2M264 783.5h2M300 783.5h1M310 783.5h1M237 784.5h1M251 784.5h1M256 784.5h1M262 784.5h2M266 784.5h1M290 784.5h1M296 784.5h1M301 784.5h1M305 784.5h1M256 785.5h1M266 785.5h1M291 785.5h1M299 785.5h1M310 785.5h1M257 786.5h2M260 786.5h1M274 786.5h1M285 786.5h1M288 786.5h1M290 786.5h1M294 786.5h1M299 786.5h1M309 786.5h1M255 787.5h1M258 787.5h3M265 787.5h1M267 787.5h2M272 787.5h1M290 787.5h1M292 787.5h1M294 787.5h1M296 787.5h1M298 787.5h2M304 787.5h1M248 788.5h1M255 788.5h1M259 788.5h1M262 788.5h1M264 788.5h1M266 788.5h1M268 788.5h1M271 788.5h1M273 788.5h1M291 788.5h1M295 788.5h2M304 788.5h1M259 789.5h1M265 789.5h2M271 789.5h1M275 789.5h1M295 789.5h3M299 789.5h1M302 789.5h2M306 789.5h1M262 790.5h2M265 790.5h2M268 790.5h1M278 790.5h1M295 790.5h1M300 790.5h1M307 790.5h2M311 790.5h1M251 791.5h2M259 791.5h3M266 791.5h1M270 791.5h2M280 791.5h2M286 791.5h1M292 791.5h1M294 791.5h2M262 792.5h1M265 792.5h2M271 792.5h1M273 792.5h2M276 792.5h1M278 792.5h1M280 792.5h1M283 792.5h1M288 792.5h1M297 792.5h2M300 792.5h2M259 793.5h1M268 793.5h2M279 793.5h1M287 793.5h1M289 793.5h1M295 793.5h3M261 794.5h1M284 794.5h1M292 794.5h1M261 795.5h1M269 795.5h1M275 795.5h1M282 795.5h2M300 795.5h1M281 796.5h4M293 796.5h2M296 796.5h1M301 796.5h1M267 797.5h2M270 797.5h1M276 797.5h1M281 797.5h2M289 797.5h1M291 797.5h3M301 797.5h1M266 798.5h2M274 798.5h1M276 798.5h1M283 798.5h2M293 798.5h1M297 798.5h1M302 798.5h1M266 799.5h1M273 799.5h1M282 799.5h1M286 799.5h1M288 799.5h1M295 799.5h1M297 799.5h2M300 799.5h2M277 800.5h1M286 800.5h3M296 800.5h1M298 800.5h1M270 801.5h2M278 801.5h1M283 801.5h1M285 801.5h1M287 801.5h1M292 801.5h1M299 801.5h1M258 802.5h1M265 802.5h1M278 802.5h1M299 802.5h1M265 803.5h1M277 803.5h2M280 803.5h3M290 803.5h2M295 803.5h2M279 804.5h2M282 804.5h1M295 804.5h1M267 805.5h1M279 805.5h1M286 805.5h2M267 806.5h1M270 806.5h3M274 806.5h2M294 806.5h2M262 807.5h2M278 807.5h1M284 807.5h1M266 808.5h2M285 808.5h1M288 808.5h2M286 809.5h4M216 812.5h1" stroke="#3a3a3a" stroke-width="1" fill="none"/>
<path d="M281 701.5h1M258 702.5h1M285 702.5h2M259 703.5h1M280 703.5h1M283 703.5h1M301 703.5h1M263 704.5h1M280 704.5h1M286 704.5h1M299 704.5h1M264 705.5h1M268 705.5h2M273 705.5h1M281 705.5h1M300 705.5h1M272 706.5h1M275 706.5h1M283 706.5h1M286 706.5h1M258 707.5h1M277 707.5h1M283 707.5h1M285 707.5h1M287 707.5h1M259 708.5h1M277 708.5h1M281 708.5h2M284 708.5h1M289 708.5h1M263 709.5h2M267 709.5h1M277 709.5h1M280 709.5h1M287 709.5h2M290 709.5h1M260 710.5h1M267 710.5h1M280 710.5h1M283 710.5h1M287 710.5h1M301 710.5h1M261 711.5h1M264 711.5h1M268 711.5h1M270 711.5h1M276 711.5h1M285 711.5h1M300 711.5h2M267 712.5h1M279 712.5h1M289 712.5h2M269 713.5h1M274 713.5h1M290 713.5h1M297 713.5h1M266 714.5h1M279 714.5h1M285 714.5h2M294 714.5h1M302 714.5h1M275 715.5h2M280 715.5h1M293 715.5h2M300 715.5h1M264 716.5h1M269 716.5h1M274 716.5h1M290 716.5h1M296 716.5h1M257 717.5h1M261 717.5h1M265 717.5h1M272 717.5h1M290 717.5h1M296 717.5h1M256 718.5h2M262 718.5h1M269 718.5h1M272 718.5h1M289 718.5h1M296 718.5h1M299 718.5h2M269 719.5h1M299 719.5h1M308 719.5h1M265 720.5h1M296 720.5h1M299 720.5h1M301 720.5h1M307 720.5h2M247 721.5h1M254 721.5h1M261 721.5h1M263 721.5h1M265 721.5h1M293 721.5h1M246 722.5h1M253 722.5h3M258 722.5h1M263 722.5h2M266 722.5h1M277 722.5h1M293 722.5h2M254 723.5h1M266 723.5h1M293 723.5h1M297 723.5h1M299 723.5h1M301 723.5h1M305 723.5h2M250 724.5h2M257 724.5h2M264 724.5h1M269 724.5h1M299 724.5h1M306 724.5h1M250 725.5h1M257 725.5h1M260 725.5h1M292 725.5h1M295 725.5h1M297 725.5h1M299 725.5h3M259 726.5h1M263 726.5h2M273 726.5h1M291 726.5h1M295 726.5h2M258 727.5h1M266 727.5h1M297 727.5h1M299 727.5h1M244 728.5h1M259 728.5h2M298 728.5h1M300 728.5h1M302 728.5h1M306 728.5h1M245 729.5h1M255 729.5h3M290 729.5h1M297 729.5h1M306 729.5h1M249 730.5h1M258 730.5h1M260 730.5h1M303 730.5h3M241 731.5h1M250 731.5h1M254 731.5h1M256 731.5h1M259 731.5h1M263 731.5h2M286 731.5h1M300 731.5h1M304 731.5h1M240 732.5h1M253 732.5h2M256 732.5h1M262 732.5h1M300 732.5h1M301 733.5h1M304 733.5h1M246 734.5h1M258 734.5h1M261 734.5h1M297 734.5h1M301 734.5h2M304 734.5h1M246 735.5h2M254 735.5h1M258 735.5h1M261 735.5h1M303 735.5h1M251 736.5h1M254 736.5h1M258 736.5h1M301 736.5h1M306 736.5h2M252 737.5h1M309 737.5h1M312 737.5h2M251 738.5h1M255 738.5h1M259 738.5h2M313 738.5h1M245 739.5h1M252 739.5h1M254 739.5h1M258 739.5h1M300 739.5h1M306 739.5h1M310 739.5h2M244 740.5h1M249 740.5h1M258 740.5h1M260 740.5h1M310 740.5h1M257 741.5h1M260 741.5h1M310 741.5h2M302 742.5h1M244 743.5h2M253 743.5h1M301 743.5h1M308 743.5h1M238 744.5h1M244 744.5h1M239 745.5h1M245 745.5h1M309 745.5h2M246 746.5h1M248 746.5h1M251 746.5h1M253 746.5h1M301 746.5h1M313 746.5h1M251 747.5h2M258 747.5h1M312 747.5h1M315 747.5h1M248 748.5h1M260 748.5h1M298 748.5h1M301 748.5h1M314 748.5h1M248 749.5h1M249 750.5h1M252 750.5h1M306 750.5h2M240 751.5h1M243 751.5h2M246 751.5h1M248 751.5h1M251 751.5h1M257 751.5h3M306 751.5h1M240 752.5h4M246 752.5h2M253 752.5h1M255 752.5h2M259 752.5h3M302 752.5h1M305 752.5h1M253 753.5h1M258 753.5h1M260 753.5h1M312 753.5h1M248 754.5h1M313 754.5h2M247 755.5h2M309 755.5h1M315 755.5h1M318 755.5h2M324 755.5h1M256 756.5h3M301 756.5h1M303 756.5h1M305 756.5h2M318 756.5h1M324 756.5h2M254 757.5h1M240 758.5h1M253 758.5h1M258 758.5h1M262 758.5h1M301 758.5h1M308 758.5h1M241 759.5h1M254 759.5h1M260 759.5h1M308 759.5h1M254 760.5h1M305 760.5h1M311 760.5h1M254 761.5h1M303 761.5h2M306 761.5h1M312 761.5h1M257 762.5h1M263 762.5h1M301 762.5h1M253 763.5h1M302 763.5h1M308 763.5h1M253 764.5h1M256 764.5h3M306 764.5h1M308 764.5h1M244 765.5h1M301 765.5h1M243 766.5h1M253 766.5h1M309 766.5h1M255 767.5h1M310 767.5h1M250 768.5h1M254 768.5h1M257 768.5h1M259 768.5h1M261 768.5h1M245 769.5h2M250 769.5h1M255 769.5h1M257 769.5h1M304 769.5h1M307 769.5h1M309 769.5h1M245 770.5h1M257 770.5h1M295 770.5h2M306 770.5h1M251 771.5h2M262 771.5h1M268 771.5h1M300 771.5h1M308 771.5h1M251 772.5h1M301 772.5h1M303 772.5h1M305 772.5h1M252 773.5h1M298 773.5h1M311 773.5h2M324 773.5h1M252 774.5h1M259 774.5h1M298 774.5h1M301 774.5h1M307 774.5h1M325 774.5h1M255 775.5h1M259 775.5h1M261 775.5h2M264 775.5h1M301 775.5h1M303 775.5h2M311 775.5h1M257 776.5h1M297 776.5h1M299 777.5h1M302 777.5h1M261 778.5h2M312 778.5h2M255 779.5h1M297 779.5h1M303 779.5h1M312 779.5h1M255 780.5h1M261 780.5h1M296 780.5h1M298 780.5h2M255 781.5h2M260 781.5h1M297 781.5h1M301 781.5h2M258 782.5h1M261 782.5h2M265 782.5h1M278 782.5h1M294 782.5h2M297 782.5h3M251 783.5h2M258 783.5h1M267 783.5h1M299 783.5h1M305 783.5h1M307 783.5h1M238 784.5h1M252 784.5h1M281 784.5h1M297 784.5h1M299 784.5h2M306 784.5h1M308 784.5h1M237 785.5h2M252 785.5h1M259 785.5h1M261 785.5h1M263 785.5h1M267 785.5h1M295 785.5h1M305 785.5h2M311 785.5h1M251 786.5h1M259 786.5h1M268 786.5h1M293 786.5h1M295 786.5h1M307 786.5h1M310 786.5h2M248 787.5h2M297 787.5h1M300 787.5h1M307 787.5h2M249 788.5h1M292 788.5h2M297 788.5h1M302 788.5h2M262 789.5h1M268 789.5h1M298 789.5h1M305 789.5h1M256 790.5h1M291 790.5h1M299 790.5h1M304 790.5h3M312 790.5h1M255 791.5h1M263 791.5h2M267 791.5h1M285 791.5h1M296 791.5h1M305 791.5h1M311 791.5h2M267 792.5h1M269 792.5h1M279 792.5h1M286 792.5h1M295 792.5h1M303 792.5h1M306 792.5h1M260 793.5h1M270 793.5h1M276 793.5h1M284 793.5h1M294 793.5h1M298 793.5h1M302 793.5h1M253 794.5h1M259 794.5h2M266 794.5h1M270 794.5h1M272 794.5h1M283 794.5h1M293 794.5h1M295 794.5h2M298 794.5h2M254 795.5h1M267 795.5h1M272 795.5h1M288 795.5h3M295 795.5h1M298 795.5h1M301 795.5h1M267 796.5h2M271 796.5h1M276 796.5h2M292 796.5h1M300 796.5h1M243 797.5h1M263 797.5h1M265 797.5h1M273 797.5h2M277 797.5h1M287 797.5h1M302 797.5h1M242 798.5h1M275 798.5h1M282 798.5h1M286 798.5h1M288 798.5h1M320 798.5h1M263 799.5h1M265 799.5h1M274 799.5h1M278 799.5h2M281 799.5h1M284 799.5h1M287 799.5h1M319 799.5h1M264 800.5h3M269 800.5h1M276 800.5h1M285 800.5h1M293 800.5h1M297 800.5h1M257 801.5h2M280 801.5h1M288 801.5h1M294 801.5h1M257 802.5h1M282 802.5h1M285 802.5h1M292 802.5h2M266 803.5h1M287 803.5h1M267 804.5h1M278 804.5h1M283 804.5h1M286 804.5h1M296 804.5h1M298 804.5h1M300 804.5h1M269 805.5h1M271 805.5h1M282 805.5h2M295 805.5h2M299 805.5h1M301 805.5h1M269 806.5h1M278 806.5h2M279 807.5h1M285 807.5h1M293 809.5h1M294 810.5h1M216 811.5h2M217 812.5h1" stroke="#8a8a8a" stroke-width="1" fill="none"/>
<rect x="212.3" y="696.5" width="124.80000000000001" height="119.89999999999998" fill="none" stroke="#666" stroke-width="0.7"/>
<line x1="216.8" y1="816.4" x2="216.8" y2="818.8" stroke="#888" stroke-width="0.5"/>
<text x="216.8" y="826.2" text-anchor="middle" font-family="&quot;Liberation Sans&quot;, sans-serif" font-size="4.6" fill="#222">0</text>
<line x1="234.8" y1="816.4" x2="234.8" y2="818.8" stroke="#888" stroke-width="0.5"/>
<text x="234.8" y="826.2" text-anchor="middle" font-family="&quot;Liberation Sans&quot;, sans-serif" font-size="4.6" fill="#222">2</text>
<line x1="252.8" y1="816.4" x2="252.8" y2="818.8" stroke="#888" stroke-width="0.5"/>
<text x="252.8" y="826.2" text-anchor="middle" font-family="&quot;Liberation Sans&quot;, sans-serif" font-size="4.6" fill="#222">4</text>
<line x1="270.8" y1="816.4" x2="270.8" y2="818.8" stroke="#888" stroke-width="0.5"/>
<text x="270.8" y="826.2" text-anchor="middle" font-family="&quot;Liberation Sans&quot;, sans-serif" font-size="4.6" fill="#222">6</text>
<line x1="288.8" y1="816.4" x2="288.8" y2="818.8" stroke="#888" stroke-width="0.5"/>
<text x="288.8" y="826.2" text-anchor="middle" font-family="&quot;Liberation Sans&quot;, sans-serif" font-size="4.6" fill="#222">8</text>
<line x1="306.8" y1="816.4" x2="306.8" y2="818.8" stroke="#888" stroke-width="0.5"/>
<text x="306.8" y="826.2" text-anchor="middle" font-family="&quot;Liberation Sans&quot;, sans-serif" font-size="4.6" fill="#222">10</text>
<line x1="324.8" y1="816.4" x2="324.8" y2="818.8" stroke="#888" stroke-width="0.5"/>
<text x="324.8" y="826.2" text-anchor="middle" font-family="&quot;Liberation Sans&quot;, sans-serif" font-size="4.6" fill="#222">12</text>
<line x1="209.5" y1="812.0" x2="212.3" y2="812.0" stroke="#888" stroke-width="0.5"/>
<text x="205.9" y="812.0" text-anchor="middle" transform="rotate(-90 205.9 812.0)" font-family="&quot;Liberation Sans&quot;, sans-serif" font-size="4.6" fill="#222">0.0</text>
<line x1="209.5" y1="792.5" x2="212.3" y2="792.5" stroke="#888" stroke-width="0.5"/>
<text x="205.9" y="792.5" text-anchor="middle" transform="rotate(-90 205.9 792.5)" font-family="&quot;Liberation Sans&quot;, sans-serif" font-size="4.6" fill="#222">0.5</text>
<line x1="209.5" y1="773.1" x2="212.3" y2="773.1" stroke="#888" stroke-width="0.5"/>
<text x="205.9" y="773.1" text-anchor="middle" transform="rotate(-90 205.9 773.1)" font-family="&quot;Liberation Sans&quot;, sans-serif" font-size="4.6" fill="#222">1.0</text>
<line x1="209.5" y1="753.6" x2="212.3" y2="753.6" stroke="#888" stroke-width="0.5"/>
<text x="205.9" y="753.6" text-anchor="middle" transform="rotate(-90 205.9 753.6)" font-family="&quot;Liberation Sans&quot;, sans-serif" font-size="4.6" fill="#222">1.5</text>
<line x1="209.5" y1="734.2" x2="212.3" y2="734.2" stroke="#888" stroke-width="0.5"/>
<text x="205.9" y="734.2" text-anchor="middle" transform="rotate(-90 205.9 734.2)" font-family="&quot;Liberation Sans&quot;, sans-serif" font-size="4.6" fill="#222">2.0</text>
<line x1="209.5" y1="714.8" x2="212.3" y2="714.8" stroke="#888" stroke-width="0.5"/>
<text x="205.9" y="714.8" text-anchor="middle" transform="rotate(-90 205.9 714.8)" font-family="&quot;Liberation Sans&quot;, sans-serif" font-size="4.6" fill="#222">2.5</text>
<text x="274.7" y="838" text-anchor="middle" font-family="&quot;Liberation Sans&quot;, sans-serif" font-size="6.9" fill="#222">log2(HSPA1B TPM)</text>
<text x="195.8" y="756" text-anchor="middle" transform="rotate(-90 195.8 756)" font-family="&quot;Liberation Sans&quot;, sans-serif" font-size="7.1" fill="#222">log2(6 Signatures TPM)</text>
<text x="219.7" y="705.1" font-family="&quot;Liberation Sans&quot;, sans-serif" font-size="6.0" fill="#000">p−value = 0.23</text>
<text x="219.7" y="712.0" font-family="&quot;Liberation Sans&quot;, sans-serif" font-size="6.0" fill="#000">R = 0.012</text>
<path d="M381 713.5h1M400 713.5h1M419 713.5h1M389 714.5h1M392 714.5h1M410 714.5h1M412 714.5h2M383 715.5h1M388 715.5h2M419 715.5h1M425 715.5h1M383 716.5h2M395 716.5h1M398 716.5h1M401 716.5h1M406 716.5h1M459 716.5h1M382 717.5h1M395 717.5h2M403 717.5h1M406 717.5h1M422 717.5h2M438 717.5h1M450 717.5h1M400 718.5h1M402 718.5h2M406 718.5h1M409 718.5h1M424 718.5h2M430 718.5h1M436 718.5h1M395 719.5h1M397 719.5h1M400 719.5h1M403 719.5h1M416 719.5h1M422 719.5h3M427 719.5h1M429 719.5h2M440 719.5h2M455 719.5h1M384 720.5h1M387 720.5h2M390 720.5h3M394 720.5h1M397 720.5h1M399 720.5h1M404 720.5h2M416 720.5h2M424 720.5h1M430 720.5h1M435 720.5h1M383 721.5h3M387 721.5h2M394 721.5h3M398 721.5h1M403 721.5h2M410 721.5h1M412 721.5h1M434 721.5h2M381 722.5h1M387 722.5h2M391 722.5h1M394 722.5h1M396 722.5h1M398 722.5h2M401 722.5h5M409 722.5h1M425 722.5h1M427 722.5h1M442 722.5h1M456 722.5h1M387 723.5h1M391 723.5h1M393 723.5h6M404 723.5h2M407 723.5h1M414 723.5h1M416 723.5h1M421 723.5h1M423 723.5h2M426 723.5h1M430 723.5h2M465 723.5h1M383 724.5h4M388 724.5h1M390 724.5h2M395 724.5h2M399 724.5h7M410 724.5h2M414 724.5h3M419 724.5h1M421 724.5h4M426 724.5h1M430 724.5h1M433 724.5h2M439 724.5h1M449 724.5h1M453 724.5h1M470 724.5h1M383 725.5h1M385 725.5h2M390 725.5h2M395 725.5h2M398 725.5h2M403 725.5h1M405 725.5h1M408 725.5h4M416 725.5h1M418 725.5h2M423 725.5h2M427 725.5h1M433 725.5h1M457 725.5h1M386 726.5h1M390 726.5h1M392 726.5h3M396 726.5h4M403 726.5h11M415 726.5h1M417 726.5h5M424 726.5h5M433 726.5h1M444 726.5h1M447 726.5h1M457 726.5h1M385 727.5h2M388 727.5h10M400 727.5h1M403 727.5h11M415 727.5h1M418 727.5h4M425 727.5h1M429 727.5h1M433 727.5h1M439 727.5h2M447 727.5h1M379 728.5h1M385 728.5h1M388 728.5h4M393 728.5h1M396 728.5h13M410 728.5h1M412 728.5h2M415 728.5h1M418 728.5h1M420 728.5h2M423 728.5h1M429 728.5h1M433 728.5h2M441 728.5h1M457 728.5h2M491 728.5h1M384 729.5h1M386 729.5h7M396 729.5h3M400 729.5h8M409 729.5h2M413 729.5h4M418 729.5h5M425 729.5h1M428 729.5h1M436 729.5h1M451 729.5h1M384 730.5h10M395 730.5h11M407 730.5h3M411 730.5h1M414 730.5h9M424 730.5h2M427 730.5h2M431 730.5h1M382 731.5h19M402 731.5h4M407 731.5h3M411 731.5h1M414 731.5h14M430 731.5h2M434 731.5h1M446 731.5h2M451 731.5h1M477 731.5h1M383 732.5h1M386 732.5h2M389 732.5h17M407 732.5h4M414 732.5h4M420 732.5h4M431 732.5h2M434 732.5h1M439 732.5h1M483 732.5h1M381 733.5h3M386 733.5h1M389 733.5h1M391 733.5h20M412 733.5h12M425 733.5h1M428 733.5h4M433 733.5h1M381 734.5h3M385 734.5h2M388 734.5h4M393 734.5h18M412 734.5h3M416 734.5h2M420 734.5h3M424 734.5h2M428 734.5h2M431 734.5h4M437 734.5h1M471 734.5h1M379 735.5h2M384 735.5h7M393 735.5h12M406 735.5h2M409 735.5h7M417 735.5h5M424 735.5h1M430 735.5h6M446 735.5h1M458 735.5h1M485 735.5h1M382 736.5h6M389 736.5h33M423 736.5h2M428 736.5h1M431 736.5h2M435 736.5h2M439 736.5h1M381 737.5h1M384 737.5h12M397 737.5h23M421 737.5h2M424 737.5h2M429 737.5h1M432 737.5h2M437 737.5h2M454 737.5h1M462 737.5h1M480 737.5h1M380 738.5h2M385 738.5h38M424 738.5h8M439 738.5h1M441 738.5h4M446 738.5h1M459 738.5h1M382 739.5h1M385 739.5h4M390 739.5h23M415 739.5h8M427 739.5h2M433 739.5h1M435 739.5h1M440 739.5h1M382 740.5h33M416 740.5h6M424 740.5h2M427 740.5h2M431 740.5h1M436 740.5h2M443 740.5h1M449 740.5h1M453 740.5h1M380 741.5h1M382 741.5h3M386 741.5h35M422 741.5h1M424 741.5h2M427 741.5h1M429 741.5h2M436 741.5h1M441 741.5h1M455 741.5h2M380 742.5h5M386 742.5h32M419 742.5h2M423 742.5h2M426 742.5h4M432 742.5h1M436 742.5h1M456 742.5h2M463 742.5h1M467 742.5h1M380 743.5h1M382 743.5h42M425 743.5h3M431 743.5h3M435 743.5h3M441 743.5h1M455 743.5h1M468 743.5h1M382 744.5h44M427 744.5h1M429 744.5h1M431 744.5h2M438 744.5h2M442 744.5h1M380 745.5h1M382 745.5h43M427 745.5h2M431 745.5h2M434 745.5h1M461 745.5h1M380 746.5h2M383 746.5h4M388 746.5h37M427 746.5h1M433 746.5h1M435 746.5h2M450 746.5h1M475 746.5h2M381 747.5h2M384 747.5h41M427 747.5h1M433 747.5h1M438 747.5h1M442 747.5h1M481 747.5h1M380 748.5h34M415 748.5h4M420 748.5h5M427 748.5h1M429 748.5h1M433 748.5h1M442 748.5h1M379 749.5h40M421 749.5h1M423 749.5h2M428 749.5h1M437 749.5h1M442 749.5h1M379 750.5h1M381 750.5h37M423 750.5h1M426 750.5h2M445 750.5h1M449 750.5h1M460 750.5h1M381 751.5h38M420 751.5h1M422 751.5h2M426 751.5h1M431 751.5h3M445 751.5h1M378 752.5h2M381 752.5h29M411 752.5h11M430 752.5h2M438 752.5h1M440 752.5h1M444 752.5h1M446 752.5h1M380 753.5h39M420 753.5h5M427 753.5h1M431 753.5h1M455 753.5h1M488 753.5h1M379 754.5h43M424 754.5h3M437 754.5h1M446 754.5h1M378 755.5h35M414 755.5h8M423 755.5h3M436 755.5h1M442 755.5h2M380 756.5h40M421 756.5h1M423 756.5h3M435 756.5h2M442 756.5h1M457 756.5h1M379 757.5h38M420 757.5h1M424 757.5h3M441 757.5h1M380 758.5h35M416 758.5h8M427 758.5h1M430 758.5h2M433 758.5h1M447 758.5h1M379 759.5h36M416 759.5h5M423 759.5h3M437 759.5h1M473 759.5h1M379 760.5h41M421 760.5h1M425 760.5h2M379 761.5h34M414 761.5h2M417 761.5h1M419 761.5h1M425 761.5h1M428 761.5h1M430 761.5h2M436 761.5h1M452 761.5h1M379 762.5h37M417 762.5h1M422 762.5h2M425 762.5h1M428 762.5h1M442 762.5h1M379 763.5h32M412 763.5h5M418 763.5h5M424 763.5h1M433 763.5h1M381 764.5h33M416 764.5h3M442 764.5h2M378 765.5h1M381 765.5h36M421 765.5h1M380 766.5h34M415 766.5h2M418 766.5h1M421 766.5h2M431 766.5h1M379 767.5h1M381 767.5h33M415 767.5h4M420 767.5h1M469 767.5h1M379 768.5h34M414 768.5h4M420 768.5h1M424 768.5h2M378 769.5h31M410 769.5h1M412 769.5h1M415 769.5h3M425 769.5h1M438 769.5h1M379 770.5h32M412 770.5h2M416 770.5h1M424 770.5h1M379 771.5h24M405 771.5h8M379 772.5h30M410 772.5h2M413 772.5h1M415 772.5h1M379 773.5h30M410 773.5h5M419 773.5h1M421 773.5h1M423 773.5h1M452 773.5h1M379 774.5h25M406 774.5h2M409 774.5h4M414 774.5h1M416 774.5h1M426 774.5h1M379 775.5h25M408 775.5h1M411 775.5h2M414 775.5h2M379 776.5h20M400 776.5h1M403 776.5h2M406 776.5h4M411 776.5h4M418 776.5h1M381 777.5h23M405 777.5h2M408 777.5h3M415 777.5h1M381 778.5h16M398 778.5h6M405 778.5h2M380 779.5h17M399 779.5h2M402 779.5h2M405 779.5h6M443 779.5h1M380 780.5h21M403 780.5h3M412 780.5h1M415 780.5h1M379 781.5h23M403 781.5h3M411 781.5h1M379 782.5h16M396 782.5h2M399 782.5h3M404 782.5h2M407 782.5h1M411 782.5h2M379 783.5h18M399 783.5h7M423 783.5h1M379 784.5h1M382 784.5h11M394 784.5h7M379 785.5h1M381 785.5h16M398 785.5h1M400 785.5h2M407 785.5h2M379 786.5h1M381 786.5h7M389 786.5h6M398 786.5h6M406 786.5h1M408 786.5h1M413 786.5h1M380 787.5h10M392 787.5h6M399 787.5h1M380 788.5h9M391 788.5h3M395 788.5h2M399 788.5h1M401 788.5h3M407 788.5h2M382 789.5h3M386 789.5h16M403 789.5h1M408 789.5h1M423 789.5h1M379 790.5h6M386 790.5h4M391 790.5h8M403 790.5h2M380 791.5h1M383 791.5h2M386 791.5h4M392 791.5h5M401 791.5h2M407 791.5h1M382 792.5h5M388 792.5h4M395 792.5h4M401 792.5h1M382 793.5h4M387 793.5h1M391 793.5h6M382 794.5h2M385 794.5h3M392 794.5h2M403 794.5h2M380 795.5h3M386 795.5h1M390 795.5h4M395 795.5h1M399 795.5h2M380 796.5h2M383 796.5h1M385 796.5h2M389 796.5h5M395 796.5h1M380 797.5h1M385 797.5h7M393 797.5h1M397 797.5h1M399 797.5h1M380 798.5h2M383 798.5h1M386 798.5h3M390 798.5h1M403 798.5h2M387 799.5h1M391 799.5h2M395 799.5h1M401 799.5h1M386 800.5h1M388 800.5h2M400 800.5h1M380 801.5h1M384 801.5h3M389 801.5h3M399 801.5h1M379 802.5h1M383 802.5h6M405 802.5h1M408 802.5h1M379 803.5h1M382 803.5h1M385 803.5h1M387 803.5h3M382 805.5h1M390 805.5h2M379 806.5h1M384 806.5h1M387 806.5h1M380 807.5h1M383 807.5h1M386 807.5h1M393 807.5h1M392 808.5h2" stroke="#000" stroke-width="1" fill="none"/>
<path d="M432 712.5h2M384 713.5h2M388 713.5h2M393 713.5h1M399 713.5h1M403 713.5h2M407 713.5h2M411 713.5h2M415 713.5h1M418 713.5h1M429 713.5h2M388 714.5h1M390 714.5h1M397 714.5h2M400 714.5h1M411 714.5h1M419 714.5h1M422 714.5h2M466 714.5h1M384 715.5h1M392 715.5h1M395 715.5h1M398 715.5h2M406 715.5h1M409 715.5h2M412 715.5h1M416 715.5h2M420 715.5h1M426 715.5h2M439 715.5h2M467 715.5h1M382 716.5h1M399 716.5h1M403 716.5h1M411 716.5h1M414 716.5h1M435 716.5h1M451 716.5h2M471 716.5h1M381 717.5h1M388 717.5h2M407 717.5h1M411 717.5h1M414 717.5h1M425 717.5h2M434 717.5h2M444 717.5h2M387 718.5h2M390 718.5h2M395 718.5h3M401 718.5h1M422 718.5h2M429 718.5h1M431 718.5h1M434 718.5h1M443 718.5h1M380 719.5h1M386 719.5h2M390 719.5h3M394 719.5h1M396 719.5h1M398 719.5h1M401 719.5h2M405 719.5h2M408 719.5h1M412 719.5h1M417 719.5h1M419 719.5h3M425 719.5h2M428 719.5h1M434 719.5h2M443 719.5h1M379 720.5h2M385 720.5h1M393 720.5h1M395 720.5h2M398 720.5h1M400 720.5h4M412 720.5h1M415 720.5h1M419 720.5h2M423 720.5h1M427 720.5h1M431 720.5h1M434 720.5h1M437 720.5h2M440 720.5h2M379 721.5h1M382 721.5h1M386 721.5h1M390 721.5h1M393 721.5h1M397 721.5h1M399 721.5h1M405 721.5h1M407 721.5h2M411 721.5h1M416 721.5h1M420 721.5h1M425 721.5h1M430 721.5h1M436 721.5h1M454 721.5h1M492 721.5h1M380 722.5h1M384 722.5h1M390 722.5h1M392 722.5h2M397 722.5h1M408 722.5h1M410 722.5h1M412 722.5h1M415 722.5h1M420 722.5h1M422 722.5h3M428 722.5h1M431 722.5h1M443 722.5h1M462 722.5h1M492 722.5h1M382 723.5h3M386 723.5h1M388 723.5h1M400 723.5h2M409 723.5h2M415 723.5h1M417 723.5h2M425 723.5h1M427 723.5h1M436 723.5h2M440 723.5h1M449 723.5h1M387 724.5h1M389 724.5h1M394 724.5h1M397 724.5h1M406 724.5h1M412 724.5h2M418 724.5h1M420 724.5h1M429 724.5h1M432 724.5h1M437 724.5h2M384 725.5h1M389 725.5h1M394 725.5h1M397 725.5h1M400 725.5h1M406 725.5h2M413 725.5h3M417 725.5h1M420 725.5h2M426 725.5h1M431 725.5h2M436 725.5h2M439 725.5h2M448 725.5h2M465 725.5h1M385 726.5h1M387 726.5h1M391 726.5h1M400 726.5h1M402 726.5h1M414 726.5h1M416 726.5h1M423 726.5h1M430 726.5h1M432 726.5h1M439 726.5h2M442 726.5h2M446 726.5h1M448 726.5h1M465 726.5h1M379 727.5h2M383 727.5h2M398 727.5h2M402 727.5h1M416 727.5h2M424 727.5h1M427 727.5h1M430 727.5h1M436 727.5h1M442 727.5h1M446 727.5h1M457 727.5h1M462 727.5h1M380 728.5h1M384 728.5h1M386 728.5h1M392 728.5h1M395 728.5h1M409 728.5h1M411 728.5h1M416 728.5h1M419 728.5h1M422 728.5h1M427 728.5h1M436 728.5h3M456 728.5h1M470 728.5h2M382 729.5h1M385 729.5h1M393 729.5h1M399 729.5h1M408 729.5h1M411 729.5h2M417 729.5h1M427 729.5h1M429 729.5h1M433 729.5h1M444 729.5h1M447 729.5h1M380 730.5h3M394 730.5h1M406 730.5h1M413 730.5h1M426 730.5h1M433 730.5h2M436 730.5h2M449 730.5h1M381 731.5h1M401 731.5h1M406 731.5h1M410 731.5h1M435 731.5h1M445 731.5h1M449 731.5h1M456 731.5h2M490 731.5h1M379 732.5h1M384 732.5h1M406 732.5h1M411 732.5h3M418 732.5h2M424 732.5h4M430 732.5h1M443 732.5h1M446 732.5h1M448 732.5h1M458 732.5h1M380 733.5h1M385 733.5h1M387 733.5h2M390 733.5h1M411 733.5h1M424 733.5h1M427 733.5h1M434 733.5h2M446 733.5h1M448 733.5h1M458 733.5h1M380 734.5h1M384 734.5h1M387 734.5h1M392 734.5h1M411 734.5h1M415 734.5h1M419 734.5h1M426 734.5h1M435 734.5h2M438 734.5h1M444 734.5h3M456 734.5h1M382 735.5h2M391 735.5h2M405 735.5h1M408 735.5h1M416 735.5h1M422 735.5h2M425 735.5h1M427 735.5h3M440 735.5h1M444 735.5h1M452 735.5h2M459 735.5h1M380 736.5h2M388 736.5h1M422 736.5h1M427 736.5h1M430 736.5h1M433 736.5h1M438 736.5h1M440 736.5h1M460 736.5h2M481 736.5h2M382 737.5h2M396 737.5h1M420 737.5h1M427 737.5h2M443 737.5h2M446 737.5h1M456 737.5h2M382 738.5h1M438 738.5h1M484 738.5h2M380 739.5h1M383 739.5h2M413 739.5h2M424 739.5h3M429 739.5h1M431 739.5h2M434 739.5h1M446 739.5h1M448 739.5h1M454 739.5h1M462 739.5h1M381 740.5h1M415 740.5h1M422 740.5h2M426 740.5h1M429 740.5h2M432 740.5h2M435 740.5h1M442 740.5h1M444 740.5h1M450 740.5h1M454 740.5h1M456 740.5h1M460 740.5h1M462 740.5h1M379 741.5h1M381 741.5h1M385 741.5h1M423 741.5h1M426 741.5h1M428 741.5h1M431 741.5h1M438 741.5h2M442 741.5h1M448 741.5h2M453 741.5h1M466 741.5h1M475 741.5h1M385 742.5h1M418 742.5h1M422 742.5h1M430 742.5h2M435 742.5h1M437 742.5h1M443 742.5h2M448 742.5h1M453 742.5h1M455 742.5h1M458 742.5h1M462 742.5h1M464 742.5h1M475 742.5h1M424 743.5h1M428 743.5h1M430 743.5h1M438 743.5h1M448 743.5h1M453 743.5h2M378 744.5h2M428 744.5h1M433 744.5h1M435 744.5h2M440 744.5h1M449 744.5h2M458 744.5h1M462 744.5h2M379 745.5h1M381 745.5h1M425 745.5h1M429 745.5h2M435 745.5h1M438 745.5h2M442 745.5h1M444 745.5h1M458 745.5h1M468 745.5h1M473 745.5h1M387 746.5h1M428 746.5h1M434 746.5h1M438 746.5h4M443 746.5h2M452 746.5h6M481 746.5h1M378 747.5h1M380 747.5h1M383 747.5h1M425 747.5h2M429 747.5h2M434 747.5h1M439 747.5h1M443 747.5h1M445 747.5h1M453 747.5h2M378 748.5h2M414 748.5h1M419 748.5h1M430 748.5h1M432 748.5h1M438 748.5h2M445 748.5h1M454 748.5h2M481 748.5h1M420 749.5h1M427 749.5h1M429 749.5h2M436 749.5h1M438 749.5h2M445 749.5h2M449 749.5h1M454 749.5h2M474 749.5h2M480 749.5h1M380 750.5h1M420 750.5h2M428 750.5h1M431 750.5h1M437 750.5h1M439 750.5h2M442 750.5h1M446 750.5h2M456 750.5h1M380 751.5h1M419 751.5h1M421 751.5h1M424 751.5h1M427 751.5h1M430 751.5h1M434 751.5h1M439 751.5h1M447 751.5h1M456 751.5h1M380 752.5h1M410 752.5h1M422 752.5h1M424 752.5h1M427 752.5h1M434 752.5h1M437 752.5h1M445 752.5h1M447 752.5h1M467 752.5h2M379 753.5h1M419 753.5h1M428 753.5h1M432 753.5h1M434 753.5h1M438 753.5h1M478 753.5h2M423 754.5h1M427 754.5h1M434 754.5h1M440 754.5h1M482 754.5h1M413 755.5h1M432 755.5h1M435 755.5h1M437 755.5h1M440 755.5h1M452 755.5h3M464 755.5h1M476 755.5h2M379 756.5h1M420 756.5h1M422 756.5h1M426 756.5h1M430 756.5h1M432 756.5h1M443 756.5h1M452 756.5h1M456 756.5h1M417 757.5h3M421 757.5h1M430 757.5h1M442 757.5h1M450 757.5h2M457 757.5h1M379 758.5h1M415 758.5h1M424 758.5h3M428 758.5h2M474 758.5h2M415 759.5h1M422 759.5h1M431 759.5h1M439 759.5h1M443 759.5h1M454 759.5h1M461 759.5h1M420 760.5h1M423 760.5h2M429 760.5h1M431 760.5h1M452 760.5h1M461 760.5h1M466 760.5h2M416 761.5h1M418 761.5h1M420 761.5h1M424 761.5h1M426 761.5h2M429 761.5h1M447 761.5h1M453 761.5h1M378 762.5h1M419 762.5h2M424 762.5h1M427 762.5h1M430 762.5h1M449 762.5h1M378 763.5h1M411 763.5h1M425 763.5h1M428 763.5h2M442 763.5h1M380 764.5h1M415 764.5h1M419 764.5h3M428 764.5h2M438 764.5h1M380 765.5h1M417 765.5h3M422 765.5h1M425 765.5h2M428 765.5h1M431 765.5h1M438 765.5h1M378 766.5h2M417 766.5h1M420 766.5h1M430 766.5h1M433 766.5h1M445 766.5h1M378 767.5h1M380 767.5h1M419 767.5h1M421 767.5h1M424 767.5h4M433 767.5h1M445 767.5h1M413 768.5h1M418 768.5h1M421 768.5h1M469 768.5h1M475 768.5h1M409 769.5h1M411 769.5h1M487 769.5h2M378 770.5h1M411 770.5h1M417 770.5h2M487 770.5h2M403 771.5h2M413 771.5h1M416 771.5h3M423 771.5h1M426 771.5h1M430 771.5h2M409 772.5h1M412 772.5h1M417 772.5h1M419 772.5h4M409 773.5h1M420 773.5h1M422 773.5h1M425 773.5h2M439 773.5h1M445 773.5h1M404 774.5h1M408 774.5h1M415 774.5h1M419 774.5h1M445 774.5h1M378 775.5h1M406 775.5h2M409 775.5h1M413 775.5h1M416 775.5h5M430 775.5h1M399 776.5h1M401 776.5h1M415 776.5h3M420 776.5h1M430 776.5h1M378 777.5h3M404 777.5h1M407 777.5h1M411 777.5h1M414 777.5h1M416 777.5h2M490 777.5h1M380 778.5h1M397 778.5h1M407 778.5h1M409 778.5h2M412 778.5h2M490 778.5h1M379 779.5h1M397 779.5h2M401 779.5h1M412 779.5h2M422 779.5h1M378 780.5h2M401 780.5h1M408 780.5h1M410 780.5h1M414 780.5h1M416 780.5h1M378 781.5h1M408 781.5h2M415 781.5h1M417 781.5h2M483 781.5h1M486 781.5h2M395 782.5h1M402 782.5h2M410 782.5h1M420 782.5h1M483 782.5h1M397 783.5h1M410 783.5h1M420 783.5h1M381 784.5h1M393 784.5h1M401 784.5h3M414 784.5h1M423 784.5h1M397 785.5h1M399 785.5h1M406 785.5h1M388 786.5h1M395 786.5h3M407 786.5h1M409 786.5h1M414 786.5h1M379 787.5h1M390 787.5h2M398 787.5h1M400 787.5h4M408 787.5h1M410 787.5h1M414 787.5h1M435 787.5h1M389 788.5h2M397 788.5h2M400 788.5h1M410 788.5h1M381 789.5h1M402 789.5h1M405 789.5h1M427 789.5h1M439 789.5h2M378 790.5h1M385 790.5h1M390 790.5h1M400 790.5h3M405 790.5h1M415 790.5h1M427 790.5h1M381 791.5h2M385 791.5h1M391 791.5h1M397 791.5h1M403 791.5h1M409 791.5h1M415 791.5h1M380 792.5h1M387 792.5h1M392 792.5h3M399 792.5h2M402 792.5h2M381 793.5h1M386 793.5h1M388 793.5h1M390 793.5h1M400 793.5h2M403 793.5h2M413 793.5h1M378 794.5h1M381 794.5h1M384 794.5h1M388 794.5h1M395 794.5h1M400 794.5h1M413 794.5h1M378 795.5h2M383 795.5h1M385 795.5h1M387 795.5h3M394 795.5h1M396 795.5h1M404 795.5h1M409 795.5h2M422 795.5h1M382 796.5h1M384 796.5h1M388 796.5h1M396 796.5h1M400 796.5h1M422 796.5h1M392 797.5h1M395 797.5h2M382 798.5h1M384 798.5h2M389 798.5h1M392 798.5h2M395 798.5h2M402 798.5h1M449 798.5h1M379 799.5h2M385 799.5h2M388 799.5h2M393 799.5h1M396 799.5h1M400 799.5h1M403 799.5h1M449 799.5h1M382 800.5h2M387 800.5h1M390 800.5h1M392 800.5h1M394 800.5h1M396 800.5h1M411 800.5h2M418 800.5h1M379 801.5h1M381 801.5h1M383 801.5h1M387 801.5h1M392 801.5h1M394 801.5h2M400 801.5h1M390 802.5h1M395 802.5h1M381 803.5h1M383 803.5h2M396 803.5h3M379 804.5h1M384 804.5h1M389 804.5h1M398 804.5h1M379 805.5h2M388 805.5h2M380 806.5h1M386 806.5h1M388 806.5h1M391 806.5h1M384 807.5h1M387 807.5h1M394 807.5h1M391 808.5h1M384 809.5h1M391 809.5h2M412 809.5h1M382 810.5h3M403 810.5h1M412 810.5h1M376 811.5h1M376 812.5h1" stroke="#3a3a3a" stroke-width="1" fill="none"/>
<path d="M381 712.5h1M414 712.5h2M419 712.5h1M382 713.5h1M392 713.5h1M394 713.5h1M397 713.5h2M413 713.5h2M391 714.5h1M393 714.5h2M405 714.5h2M465 714.5h1M467 714.5h2M382 715.5h1M385 715.5h1M387 715.5h1M390 715.5h1M393 715.5h1M397 715.5h1M405 715.5h1M413 715.5h1M459 715.5h1M465 715.5h2M468 715.5h1M471 715.5h2M385 716.5h1M392 716.5h2M397 716.5h1M402 716.5h1M405 716.5h1M407 716.5h1M419 716.5h2M422 716.5h2M425 716.5h3M438 716.5h1M450 716.5h1M460 716.5h1M472 716.5h1M394 717.5h1M397 717.5h1M400 717.5h3M405 717.5h1M433 717.5h1M436 717.5h1M439 717.5h1M449 717.5h1M386 718.5h1M389 718.5h1M392 718.5h1M408 718.5h1M416 718.5h1M426 718.5h1M433 718.5h1M435 718.5h1M440 718.5h2M455 718.5h1M388 719.5h1M393 719.5h1M399 719.5h1M404 719.5h1M409 719.5h1M415 719.5h1M418 719.5h1M456 719.5h1M383 720.5h1M389 720.5h1M407 720.5h2M418 720.5h1M421 720.5h2M425 720.5h2M428 720.5h2M436 720.5h1M454 720.5h2M391 721.5h1M401 721.5h2M409 721.5h1M413 721.5h3M426 721.5h1M455 721.5h1M462 721.5h2M382 722.5h2M395 722.5h1M400 722.5h1M414 722.5h1M416 722.5h2M421 722.5h1M426 722.5h1M439 722.5h3M455 722.5h1M463 722.5h1M381 723.5h1M390 723.5h1M392 723.5h1M399 723.5h1M402 723.5h2M406 723.5h1M413 723.5h1M420 723.5h1M422 723.5h1M429 723.5h1M432 723.5h1M434 723.5h1M439 723.5h1M442 723.5h1M450 723.5h1M453 723.5h1M456 723.5h1M466 723.5h1M470 723.5h1M392 724.5h1M398 724.5h1M407 724.5h1M409 724.5h1M417 724.5h1M425 724.5h1M427 724.5h1M435 724.5h2M440 724.5h1M450 724.5h1M454 724.5h1M465 724.5h1M469 724.5h1M387 725.5h1M392 725.5h1M404 725.5h1M412 725.5h1M422 725.5h1M428 725.5h1M430 725.5h1M435 725.5h1M438 725.5h1M443 725.5h2M458 725.5h1M388 726.5h2M395 726.5h1M429 726.5h1M431 726.5h1M387 727.5h1M414 727.5h1M426 727.5h1M432 727.5h1M434 727.5h1M438 727.5h1M443 727.5h2M458 727.5h1M461 727.5h1M378 728.5h1M387 728.5h1M394 728.5h1M414 728.5h1M417 728.5h1M424 728.5h2M428 728.5h1M430 728.5h1M432 728.5h1M439 728.5h1M442 728.5h1M444 728.5h2M447 728.5h2M450 728.5h2M461 728.5h2M490 728.5h1M394 729.5h2M423 729.5h2M426 729.5h1M437 729.5h1M441 729.5h1M445 729.5h1M448 729.5h1M450 729.5h1M452 729.5h1M491 729.5h1M410 730.5h1M412 730.5h1M429 730.5h2M432 730.5h1M447 730.5h1M451 730.5h1M477 730.5h1M379 731.5h2M413 731.5h1M433 731.5h1M439 731.5h1M442 731.5h2M452 731.5h1M478 731.5h1M483 731.5h1M491 731.5h1M380 732.5h1M388 732.5h1M428 732.5h2M433 732.5h1M435 732.5h1M438 732.5h1M440 732.5h1M442 732.5h1M445 732.5h1M447 732.5h1M484 732.5h1M490 732.5h2M384 733.5h1M426 733.5h1M432 733.5h1M436 733.5h1M438 733.5h2M445 733.5h1M471 733.5h1M379 734.5h1M423 734.5h1M427 734.5h1M430 734.5h1M457 734.5h1M472 734.5h1M381 735.5h1M436 735.5h1M439 735.5h1M445 735.5h1M447 735.5h1M456 735.5h2M460 735.5h1M486 735.5h1M425 736.5h1M437 736.5h1M446 736.5h2M458 736.5h2M462 736.5h1M485 736.5h1M380 737.5h1M423 737.5h1M426 737.5h1M430 737.5h2M439 737.5h1M442 737.5h1M455 737.5h1M459 737.5h1M461 737.5h1M479 737.5h1M423 738.5h1M432 738.5h2M440 738.5h1M445 738.5h1M447 738.5h2M454 738.5h1M460 738.5h1M480 738.5h1M381 739.5h1M389 739.5h1M423 739.5h1M430 739.5h1M436 739.5h1M439 739.5h1M441 739.5h3M447 739.5h1M453 739.5h1M434 740.5h1M461 740.5h1M465 740.5h2M432 741.5h2M435 741.5h1M437 741.5h1M440 741.5h1M443 741.5h1M460 741.5h4M465 741.5h1M467 741.5h1M421 742.5h1M425 742.5h1M438 742.5h1M441 742.5h1M468 742.5h1M379 743.5h1M381 743.5h1M429 743.5h1M434 743.5h1M440 743.5h1M442 743.5h1M456 743.5h1M469 743.5h1M380 744.5h1M426 744.5h1M430 744.5h1M437 744.5h1M443 744.5h1M468 744.5h1M472 744.5h2M436 745.5h2M460 745.5h1M469 745.5h1M472 745.5h1M475 745.5h2M382 746.5h1M426 746.5h1M430 746.5h3M437 746.5h1M449 746.5h1M461 746.5h1M468 746.5h2M477 746.5h1M428 747.5h1M432 747.5h1M437 747.5h1M441 747.5h1M450 747.5h1M482 747.5h1M425 748.5h2M428 748.5h1M434 748.5h1M436 748.5h2M480 748.5h1M482 748.5h1M378 749.5h1M422 749.5h1M431 749.5h1M443 749.5h1M460 749.5h1M481 749.5h1M418 750.5h1M422 750.5h1M430 750.5h1M432 750.5h2M436 750.5h1M438 750.5h1M448 750.5h1M461 750.5h1M378 751.5h2M425 751.5h1M438 751.5h1M440 751.5h1M444 751.5h1M446 751.5h1M425 752.5h2M429 752.5h1M432 752.5h1M439 752.5h1M443 752.5h1M488 752.5h1M425 753.5h2M433 753.5h1M435 753.5h1M437 753.5h1M440 753.5h1M446 753.5h1M456 753.5h1M482 753.5h2M487 753.5h1M378 754.5h1M422 754.5h1M433 754.5h1M435 754.5h1M438 754.5h1M447 754.5h1M455 754.5h1M483 754.5h1M422 755.5h1M429 755.5h2M441 755.5h1M465 755.5h1M429 756.5h1M434 756.5h1M441 756.5h1M464 756.5h2M427 757.5h1M431 757.5h1M433 757.5h1M435 757.5h1M440 757.5h1M447 757.5h1M432 758.5h1M437 758.5h1M441 758.5h1M446 758.5h1M453 758.5h2M378 759.5h1M421 759.5h1M426 759.5h2M436 759.5h1M438 759.5h1M442 759.5h1M453 759.5h1M474 759.5h1M378 760.5h1M422 760.5h1M427 760.5h1M430 760.5h1M438 760.5h2M442 760.5h2M473 760.5h1M413 761.5h1M423 761.5h1M435 761.5h1M446 761.5h1M451 761.5h1M416 762.5h1M418 762.5h1M433 762.5h1M436 762.5h1M441 762.5h1M446 762.5h3M451 762.5h2M417 763.5h1M423 763.5h1M427 763.5h1M432 763.5h1M448 763.5h2M414 764.5h1M424 764.5h1M420 765.5h1M443 765.5h1M414 766.5h1M419 766.5h1M424 766.5h3M432 766.5h1M468 766.5h2M414 767.5h1M422 767.5h1M430 767.5h2M468 767.5h1M470 767.5h1M475 767.5h2M378 768.5h1M419 768.5h1M423 768.5h1M438 768.5h1M470 768.5h1M476 768.5h1M413 769.5h2M424 769.5h1M439 769.5h1M415 770.5h1M423 770.5h1M426 770.5h2M378 771.5h1M415 771.5h1M424 771.5h1M427 771.5h1M416 772.5h1M418 772.5h1M452 772.5h1M378 773.5h1M416 773.5h3M438 773.5h1M451 773.5h1M378 774.5h1M405 774.5h1M413 774.5h1M420 774.5h4M427 774.5h1M438 774.5h2M404 775.5h1M402 776.5h1M405 776.5h1M410 776.5h1M419 776.5h1M412 777.5h1M418 777.5h1M379 778.5h1M404 778.5h1M408 778.5h1M422 778.5h2M443 778.5h1M404 779.5h1M415 779.5h2M423 779.5h1M444 779.5h1M402 780.5h1M406 780.5h1M411 780.5h1M407 781.5h1M410 781.5h1M412 781.5h1M414 781.5h1M378 782.5h1M398 782.5h1M406 782.5h1M408 782.5h1M423 782.5h1M378 783.5h1M406 783.5h1M411 783.5h4M422 783.5h1M378 784.5h1M380 784.5h1M404 784.5h1M408 784.5h1M413 784.5h1M422 784.5h1M378 785.5h1M380 785.5h1M422 785.5h2M378 786.5h1M405 786.5h1M435 786.5h2M406 787.5h1M413 787.5h1M436 787.5h1M379 788.5h1M394 788.5h1M409 788.5h1M423 788.5h1M379 789.5h2M385 789.5h1M404 789.5h1M407 789.5h1M409 789.5h1M422 789.5h1M399 790.5h1M407 790.5h3M379 791.5h1M390 791.5h1M398 791.5h1M400 791.5h1M406 791.5h1M408 791.5h1M381 792.5h1M389 793.5h1M397 793.5h2M402 793.5h1M405 793.5h1M379 794.5h2M390 794.5h2M394 794.5h1M396 794.5h1M399 794.5h1M405 794.5h1M397 795.5h1M403 795.5h1M379 796.5h1M387 796.5h1M394 796.5h1M397 796.5h1M399 796.5h1M381 797.5h1M383 797.5h2M394 797.5h1M398 797.5h1M404 797.5h1M391 798.5h1M399 798.5h1M401 798.5h1M405 798.5h1M381 799.5h1M383 799.5h1M390 799.5h1M394 799.5h1M397 799.5h1M402 799.5h1M410 799.5h4M385 800.5h1M391 800.5h1M393 800.5h1M395 800.5h1M397 800.5h1M399 800.5h1M410 800.5h1M413 800.5h1M417 800.5h1M398 801.5h1M417 801.5h2M378 802.5h1M380 802.5h1M382 802.5h1M389 802.5h1M404 802.5h1M409 802.5h1M378 803.5h1M405 803.5h1M408 803.5h1M383 804.5h1M390 804.5h1M397 804.5h1M381 805.5h1M386 805.5h2M382 806.5h2M385 806.5h1M379 807.5h1M382 807.5h1M385 807.5h1M391 807.5h2M382 809.5h2M393 809.5h1M402 809.5h2M391 810.5h2M402 810.5h1" stroke="#8a8a8a" stroke-width="1" fill="none"/>
<rect x="372.3" y="696.5" width="124.39999999999998" height="119.89999999999998" fill="none" stroke="#666" stroke-width="0.7"/>
<line x1="376.4" y1="816.4" x2="376.4" y2="818.8" stroke="#888" stroke-width="0.5"/>
<text x="376.4" y="826.2" text-anchor="middle" font-family="&quot;Liberation Sans&quot;, sans-serif" font-size="4.6" fill="#222">0</text>
<line x1="398.9" y1="816.4" x2="398.9" y2="818.8" stroke="#888" stroke-width="0.5"/>
<text x="398.9" y="826.2" text-anchor="middle" font-family="&quot;Liberation Sans&quot;, sans-serif" font-size="4.6" fill="#222">2</text>
<line x1="421.5" y1="816.4" x2="421.5" y2="818.8" stroke="#888" stroke-width="0.5"/>
<text x="421.5" y="826.2" text-anchor="middle" font-family="&quot;Liberation Sans&quot;, sans-serif" font-size="4.6" fill="#222">4</text>
<line x1="444.0" y1="816.4" x2="444.0" y2="818.8" stroke="#888" stroke-width="0.5"/>
<text x="444.0" y="826.2" text-anchor="middle" font-family="&quot;Liberation Sans&quot;, sans-serif" font-size="4.6" fill="#222">6</text>
<line x1="466.6" y1="816.4" x2="466.6" y2="818.8" stroke="#888" stroke-width="0.5"/>
<text x="466.6" y="826.2" text-anchor="middle" font-family="&quot;Liberation Sans&quot;, sans-serif" font-size="4.6" fill="#222">8</text>
<line x1="489.1" y1="816.4" x2="489.1" y2="818.8" stroke="#888" stroke-width="0.5"/>
<text x="489.1" y="826.2" text-anchor="middle" font-family="&quot;Liberation Sans&quot;, sans-serif" font-size="4.6" fill="#222">10</text>
<line x1="369.5" y1="812.0" x2="372.3" y2="812.0" stroke="#888" stroke-width="0.5"/>
<text x="365.9" y="812.0" text-anchor="middle" transform="rotate(-90 365.9 812.0)" font-family="&quot;Liberation Sans&quot;, sans-serif" font-size="4.6" fill="#222">0.0</text>
<line x1="369.5" y1="792.5" x2="372.3" y2="792.5" stroke="#888" stroke-width="0.5"/>
<text x="365.9" y="792.5" text-anchor="middle" transform="rotate(-90 365.9 792.5)" font-family="&quot;Liberation Sans&quot;, sans-serif" font-size="4.6" fill="#222">0.5</text>
<line x1="369.5" y1="773.1" x2="372.3" y2="773.1" stroke="#888" stroke-width="0.5"/>
<text x="365.9" y="773.1" text-anchor="middle" transform="rotate(-90 365.9 773.1)" font-family="&quot;Liberation Sans&quot;, sans-serif" font-size="4.6" fill="#222">1.0</text>
<line x1="369.5" y1="753.6" x2="372.3" y2="753.6" stroke="#888" stroke-width="0.5"/>
<text x="365.9" y="753.6" text-anchor="middle" transform="rotate(-90 365.9 753.6)" font-family="&quot;Liberation Sans&quot;, sans-serif" font-size="4.6" fill="#222">1.5</text>
<line x1="369.5" y1="734.2" x2="372.3" y2="734.2" stroke="#888" stroke-width="0.5"/>
<text x="365.9" y="734.2" text-anchor="middle" transform="rotate(-90 365.9 734.2)" font-family="&quot;Liberation Sans&quot;, sans-serif" font-size="4.6" fill="#222">2.0</text>
<line x1="369.5" y1="714.8" x2="372.3" y2="714.8" stroke="#888" stroke-width="0.5"/>
<text x="365.9" y="714.8" text-anchor="middle" transform="rotate(-90 365.9 714.8)" font-family="&quot;Liberation Sans&quot;, sans-serif" font-size="4.6" fill="#222">2.5</text>
<text x="434.5" y="838" text-anchor="middle" font-family="&quot;Liberation Sans&quot;, sans-serif" font-size="6.9" fill="#222">log2(HSPA6 TPM)</text>
<text x="354.0" y="756" text-anchor="middle" transform="rotate(-90 354.0 756)" font-family="&quot;Liberation Sans&quot;, sans-serif" font-size="7.1" fill="#222">log2(6 Signatures TPM)</text>
<text x="379.7" y="705.1" font-family="&quot;Liberation Sans&quot;, sans-serif" font-size="6.0" fill="#000">p−value = 1.9e-08</text>
<text x="379.7" y="712.0" font-family="&quot;Liberation Sans&quot;, sans-serif" font-size="6.0" fill="#000">R = 0.058</text>
<path d="M614 702.5h1M611 703.5h1M614 703.5h1M599 704.5h1M606 704.5h1M622 704.5h1M610 705.5h1M614 705.5h1M601 706.5h1M610 706.5h2M616 707.5h1M604 708.5h1M613 708.5h1M615 708.5h2M614 709.5h1M608 710.5h1M610 710.5h2M623 710.5h1M602 711.5h1M606 711.5h2M609 711.5h2M613 711.5h1M616 711.5h1M619 711.5h1M592 712.5h1M600 712.5h1M607 712.5h3M612 712.5h3M616 712.5h1M619 712.5h1M598 713.5h1M601 713.5h3M607 713.5h1M610 713.5h2M614 713.5h3M618 713.5h1M622 713.5h2M630 713.5h1M593 714.5h2M597 714.5h1M601 714.5h1M606 714.5h2M609 714.5h1M611 714.5h8M621 714.5h3M628 714.5h1M598 715.5h2M604 715.5h1M608 715.5h1M611 715.5h10M622 715.5h1M598 716.5h1M605 716.5h2M608 716.5h1M610 716.5h10M621 716.5h2M627 716.5h1M637 716.5h1M599 717.5h3M605 717.5h1M607 717.5h14M622 717.5h1M628 717.5h1M633 717.5h1M599 718.5h1M605 718.5h6M613 718.5h9M628 718.5h1M604 719.5h2M609 719.5h13M627 719.5h1M587 720.5h1M601 720.5h2M604 720.5h8M613 720.5h8M624 720.5h1M627 720.5h1M630 720.5h1M633 720.5h1M603 721.5h1M605 721.5h21M628 721.5h1M592 722.5h1M594 722.5h1M600 722.5h1M602 722.5h13M616 722.5h8M625 722.5h1M628 722.5h1M594 723.5h1M597 723.5h1M603 723.5h18M622 723.5h3M627 723.5h3M636 723.5h1M594 724.5h1M598 724.5h1M601 724.5h20M622 724.5h4M629 724.5h1M598 725.5h1M602 725.5h24M627 725.5h1M630 725.5h1M636 725.5h3M593 726.5h1M595 726.5h1M597 726.5h1M600 726.5h3M604 726.5h21M626 726.5h1M632 726.5h1M636 726.5h1M595 727.5h5M601 727.5h1M603 727.5h19M623 727.5h3M595 728.5h1M597 728.5h1M603 728.5h23M639 728.5h1M597 729.5h30M595 730.5h1M600 730.5h27M628 730.5h2M637 730.5h1M593 731.5h1M599 731.5h6M606 731.5h19M626 731.5h1M629 731.5h1M632 731.5h1M598 732.5h30M629 732.5h1M592 733.5h1M594 733.5h5M601 733.5h28M632 733.5h1M594 734.5h1M597 734.5h2M601 734.5h24M629 734.5h2M589 735.5h1M595 735.5h1M598 735.5h28M629 735.5h4M595 736.5h24M620 736.5h3M624 736.5h7M591 737.5h2M594 737.5h7M602 737.5h24M627 737.5h2M630 737.5h1M638 737.5h1M595 738.5h2M600 738.5h26M627 738.5h3M588 739.5h1M592 739.5h1M596 739.5h4M601 739.5h20M622 739.5h6M629 739.5h3M633 739.5h1M636 739.5h1M600 740.5h2M603 740.5h2M606 740.5h21M628 740.5h5M636 740.5h1M598 741.5h4M603 741.5h26M631 741.5h1M636 741.5h2M583 742.5h2M586 742.5h1M593 742.5h1M597 742.5h27M625 742.5h5M633 742.5h1M580 743.5h1M593 743.5h2M596 743.5h33M637 743.5h1M583 744.5h2M591 744.5h6M598 744.5h32M631 744.5h3M636 744.5h1M650 744.5h1M584 745.5h2M591 745.5h4M596 745.5h6M603 745.5h29M561 746.5h1M592 746.5h4M598 746.5h34M581 747.5h1M591 747.5h4M596 747.5h33M630 747.5h5M576 748.5h1M583 748.5h1M585 748.5h1M590 748.5h5M597 748.5h38M579 749.5h1M581 749.5h5M589 749.5h1M592 749.5h2M597 749.5h30M628 749.5h2M634 749.5h1M581 750.5h2M588 750.5h2M594 750.5h38M634 750.5h1M579 751.5h2M586 751.5h1M590 751.5h1M592 751.5h1M595 751.5h38M636 751.5h1M576 752.5h2M579 752.5h1M585 752.5h4M590 752.5h4M595 752.5h37M571 753.5h1M585 753.5h4M591 753.5h5M598 753.5h32M583 754.5h5M591 754.5h1M593 754.5h3M598 754.5h32M632 754.5h1M581 755.5h2M585 755.5h6M593 755.5h37M633 755.5h2M636 755.5h1M640 755.5h1M580 756.5h2M583 756.5h3M590 756.5h5M596 756.5h34M633 756.5h1M578 757.5h5M585 757.5h3M590 757.5h1M594 757.5h40M575 758.5h1M581 758.5h2M584 758.5h4M589 758.5h39M629 758.5h3M633 758.5h1M575 759.5h1M580 759.5h1M582 759.5h4M589 759.5h1M591 759.5h3M595 759.5h1M599 759.5h32M635 759.5h1M576 760.5h6M583 760.5h1M585 760.5h3M591 760.5h1M593 760.5h1M595 760.5h2M598 760.5h33M578 761.5h1M582 761.5h6M589 761.5h43M633 761.5h1M574 762.5h1M577 762.5h1M583 762.5h4M590 762.5h2M594 762.5h36M631 762.5h2M634 762.5h1M636 762.5h1M571 763.5h1M573 763.5h1M576 763.5h2M579 763.5h2M584 763.5h3M591 763.5h1M593 763.5h1M595 763.5h35M631 763.5h5M637 763.5h1M569 764.5h1M576 764.5h2M580 764.5h18M599 764.5h30M632 764.5h2M635 764.5h1M582 765.5h16M599 765.5h26M626 765.5h6M568 766.5h1M580 766.5h2M584 766.5h45M631 766.5h1M570 767.5h1M573 767.5h2M578 767.5h2M581 767.5h2M584 767.5h1M587 767.5h2M590 767.5h1M593 767.5h3M597 767.5h2M600 767.5h1M602 767.5h27M560 768.5h2M565 768.5h1M578 768.5h1M580 768.5h8M589 768.5h3M593 768.5h36M634 768.5h1M565 769.5h1M575 769.5h1M582 769.5h5M588 769.5h1M590 769.5h4M595 769.5h33M631 769.5h2M634 769.5h1M574 770.5h3M581 770.5h2M584 770.5h5M591 770.5h1M594 770.5h34M630 770.5h1M576 771.5h1M581 771.5h8M590 771.5h37M630 771.5h2M638 771.5h1M579 772.5h5M586 772.5h5M592 772.5h39M581 773.5h1M583 773.5h3M588 773.5h5M595 773.5h6M602 773.5h25M629 773.5h1M633 773.5h1M638 773.5h2M575 774.5h1M582 774.5h2M586 774.5h2M590 774.5h3M595 774.5h1M597 774.5h31M631 774.5h3M638 774.5h1M642 774.5h1M574 775.5h5M581 775.5h4M586 775.5h2M590 775.5h1M594 775.5h2M597 775.5h27M625 775.5h1M627 775.5h2M571 776.5h1M576 776.5h1M580 776.5h1M584 776.5h1M586 776.5h1M589 776.5h6M596 776.5h4M601 776.5h27M630 776.5h1M633 776.5h1M637 776.5h1M580 777.5h1M589 777.5h1M592 777.5h1M594 777.5h1M597 777.5h1M601 777.5h28M576 778.5h2M588 778.5h2M591 778.5h1M597 778.5h1M600 778.5h22M623 778.5h1M625 778.5h3M632 778.5h1M579 779.5h1M583 779.5h1M588 779.5h1M593 779.5h8M602 779.5h27M579 780.5h1M581 780.5h1M584 780.5h1M588 780.5h1M590 780.5h1M594 780.5h1M596 780.5h6M603 780.5h8M612 780.5h13M626 780.5h2M630 780.5h2M578 781.5h3M585 781.5h2M592 781.5h2M598 781.5h3M603 781.5h24M629 781.5h1M570 782.5h1M580 782.5h1M585 782.5h1M587 782.5h1M590 782.5h1M592 782.5h1M597 782.5h1M599 782.5h2M603 782.5h1M606 782.5h21M630 782.5h1M578 783.5h1M585 783.5h1M587 783.5h2M593 783.5h1M600 783.5h1M602 783.5h1M604 783.5h24M584 784.5h1M587 784.5h1M590 784.5h1M596 784.5h3M601 784.5h4M606 784.5h21M584 785.5h2M597 785.5h2M601 785.5h4M606 785.5h4M611 785.5h7M619 785.5h4M624 785.5h1M630 785.5h1M598 786.5h1M601 786.5h1M603 786.5h1M605 786.5h5M611 786.5h10M624 786.5h1M629 786.5h1M598 787.5h1M604 787.5h18M624 787.5h2M579 788.5h1M584 788.5h1M605 788.5h11M617 788.5h1M619 788.5h1M621 788.5h1M623 788.5h3M587 789.5h1M600 789.5h1M603 789.5h1M605 789.5h7M613 789.5h1M615 789.5h1M617 789.5h3M623 789.5h1M633 789.5h1M589 790.5h1M598 790.5h1M600 790.5h1M608 790.5h12M598 791.5h1M604 791.5h1M606 791.5h1M610 791.5h3M615 791.5h2M619 791.5h1M622 791.5h4M596 792.5h1M604 792.5h1M608 792.5h1M612 792.5h2M615 792.5h1M617 792.5h3M622 792.5h2M602 793.5h1M608 793.5h2M612 793.5h1M614 793.5h1M619 793.5h1M623 793.5h3M569 794.5h1M571 794.5h1M604 794.5h2M609 794.5h1M611 794.5h2M614 794.5h1M617 794.5h1M603 795.5h3M608 795.5h4M613 795.5h2M621 795.5h1M643 795.5h1M602 796.5h1M604 796.5h1M607 796.5h1M614 796.5h3M620 796.5h1M628 796.5h1M605 797.5h1M608 797.5h1M615 797.5h1M618 797.5h1M620 797.5h1M603 798.5h1M605 798.5h1M611 798.5h1M614 798.5h1M618 798.5h1M623 798.5h1M613 799.5h2M617 799.5h1M606 800.5h1M612 800.5h1M617 800.5h1M627 800.5h1M630 800.5h1M609 801.5h1M612 801.5h2M618 801.5h2M593 802.5h1M598 802.5h1M612 802.5h1M623 802.5h1M616 803.5h1M620 803.5h1M626 807.5h1" stroke="#000" stroke-width="1" fill="none"/>
<path d="M610 697.5h1M610 698.5h1M604 701.5h2M615 701.5h1M603 702.5h2M611 702.5h1M613 702.5h1M615 702.5h1M628 702.5h1M608 703.5h1M610 703.5h1M613 703.5h1M615 703.5h1M628 703.5h1M601 704.5h1M615 704.5h1M601 705.5h1M608 705.5h2M611 705.5h1M613 705.5h1M615 705.5h1M617 705.5h2M621 705.5h1M616 706.5h2M621 706.5h1M627 706.5h2M607 707.5h1M611 707.5h1M613 707.5h1M615 707.5h1M620 707.5h1M623 707.5h1M628 707.5h1M632 707.5h1M594 708.5h1M607 708.5h3M611 708.5h1M614 708.5h1M623 708.5h1M628 708.5h1M596 709.5h2M606 709.5h1M610 709.5h1M613 709.5h1M621 709.5h1M643 709.5h2M598 710.5h1M601 710.5h1M606 710.5h1M609 710.5h1M613 710.5h2M616 710.5h1M621 710.5h1M624 710.5h1M598 711.5h2M603 711.5h1M605 711.5h1M608 711.5h1M611 711.5h1M620 711.5h1M622 711.5h2M625 711.5h1M635 711.5h2M610 712.5h2M615 712.5h1M617 712.5h1M620 712.5h3M625 712.5h1M630 712.5h1M593 713.5h1M600 713.5h1M606 713.5h1M609 713.5h1M612 713.5h1M617 713.5h1M619 713.5h1M621 713.5h1M624 713.5h1M626 713.5h3M585 714.5h1M598 714.5h3M603 714.5h1M608 714.5h1M610 714.5h1M619 714.5h1M585 715.5h1M590 715.5h1M594 715.5h1M596 715.5h2M600 715.5h2M605 715.5h3M609 715.5h2M621 715.5h1M599 716.5h1M609 716.5h1M620 716.5h1M626 716.5h1M629 716.5h3M589 717.5h1M597 717.5h2M602 717.5h1M606 717.5h1M621 717.5h1M624 717.5h1M627 717.5h1M631 717.5h1M591 718.5h1M597 718.5h1M600 718.5h1M604 718.5h1M622 718.5h1M624 718.5h1M627 718.5h1M632 718.5h2M597 719.5h1M599 719.5h1M602 719.5h2M606 719.5h3M629 719.5h2M633 719.5h1M586 720.5h1M588 720.5h1M599 720.5h1M612 720.5h1M621 720.5h1M623 720.5h1M625 720.5h1M628 720.5h1M598 721.5h1M602 721.5h1M604 721.5h1M626 721.5h1M629 721.5h1M634 721.5h3M595 722.5h2M601 722.5h1M615 722.5h1M624 722.5h1M626 722.5h1M590 723.5h1M598 723.5h1M600 723.5h1M602 723.5h1M621 723.5h1M625 723.5h1M630 723.5h1M595 724.5h1M600 724.5h1M621 724.5h1M627 724.5h1M630 724.5h1M597 725.5h1M599 725.5h1M601 725.5h1M626 725.5h1M628 725.5h1M635 725.5h1M592 726.5h1M594 726.5h1M598 726.5h2M603 726.5h1M625 726.5h1M637 726.5h1M589 727.5h1M591 727.5h1M593 727.5h2M600 727.5h1M602 727.5h1M622 727.5h1M626 727.5h1M628 727.5h1M636 727.5h2M596 728.5h1M598 728.5h2M601 728.5h2M626 728.5h1M628 728.5h2M632 728.5h1M594 729.5h1M627 729.5h2M632 729.5h1M579 730.5h1M591 730.5h1M594 730.5h1M596 730.5h1M598 730.5h2M627 730.5h1M630 730.5h2M633 730.5h2M636 730.5h1M639 730.5h2M592 731.5h1M595 731.5h2M598 731.5h1M605 731.5h1M627 731.5h1M630 731.5h2M639 731.5h1M594 732.5h2M628 732.5h1M630 732.5h3M647 732.5h2M583 733.5h1M589 733.5h3M593 733.5h1M599 733.5h2M629 733.5h1M631 733.5h1M633 733.5h1M590 734.5h2M593 734.5h1M599 734.5h1M625 734.5h1M638 734.5h1M571 735.5h2M593 735.5h2M596 735.5h2M626 735.5h1M628 735.5h1M586 736.5h2M589 736.5h2M594 736.5h1M619 736.5h1M623 736.5h1M631 736.5h1M585 737.5h1M588 737.5h2M593 737.5h1M601 737.5h1M629 737.5h1M631 737.5h2M636 737.5h2M640 737.5h1M585 738.5h1M591 738.5h1M597 738.5h2M626 738.5h1M630 738.5h1M632 738.5h3M640 738.5h2M648 738.5h1M589 739.5h1M591 739.5h1M600 739.5h1M621 739.5h1M628 739.5h1M632 739.5h1M648 739.5h1M589 740.5h2M592 740.5h2M596 740.5h2M599 740.5h1M602 740.5h1M605 740.5h1M627 740.5h1M633 740.5h1M637 740.5h1M581 741.5h1M587 741.5h1M594 741.5h1M602 741.5h1M629 741.5h2M633 741.5h2M638 741.5h1M640 741.5h2M581 742.5h1M585 742.5h1M587 742.5h1M592 742.5h1M594 742.5h3M624 742.5h1M631 742.5h2M636 742.5h1M641 742.5h1M579 743.5h1M582 743.5h3M591 743.5h2M595 743.5h1M629 743.5h1M631 743.5h1M582 744.5h1M587 744.5h1M597 744.5h1M630 744.5h1M634 744.5h1M637 744.5h1M563 745.5h2M571 745.5h2M581 745.5h2M595 745.5h1M602 745.5h1M636 745.5h1M576 746.5h2M584 746.5h2M591 746.5h1M596 746.5h1M632 746.5h1M574 747.5h1M578 747.5h1M583 747.5h3M590 747.5h1M635 747.5h3M566 748.5h2M578 748.5h2M584 748.5h1M589 748.5h1M595 748.5h1M635 748.5h2M646 748.5h2M580 749.5h1M587 749.5h2M627 749.5h1M630 749.5h1M635 749.5h1M585 750.5h3M590 750.5h1M593 750.5h1M632 750.5h2M636 750.5h2M577 751.5h2M581 751.5h2M585 751.5h1M588 751.5h1M591 751.5h1M593 751.5h1M634 751.5h1M637 751.5h1M642 751.5h1M563 752.5h1M575 752.5h1M580 752.5h1M584 752.5h1M589 752.5h1M594 752.5h1M638 752.5h1M563 753.5h1M576 753.5h1M579 753.5h2M582 753.5h1M589 753.5h1M597 753.5h1M632 753.5h1M638 753.5h1M640 753.5h1M576 754.5h1M581 754.5h2M588 754.5h2M597 754.5h1M633 754.5h4M576 755.5h1M580 755.5h1M583 755.5h1M591 755.5h2M630 755.5h2M639 755.5h1M641 755.5h1M577 756.5h1M582 756.5h1M630 756.5h2M634 756.5h1M638 756.5h2M572 757.5h2M577 757.5h1M584 757.5h1M589 757.5h1M591 757.5h2M635 757.5h2M573 758.5h1M580 758.5h1M588 758.5h1M628 758.5h1M652 758.5h1M569 759.5h2M573 759.5h2M576 759.5h1M579 759.5h1M586 759.5h2M590 759.5h1M594 759.5h1M596 759.5h1M598 759.5h1M631 759.5h1M634 759.5h1M636 759.5h1M652 759.5h1M565 760.5h1M569 760.5h2M574 760.5h2M584 760.5h1M589 760.5h2M592 760.5h1M594 760.5h1M597 760.5h1M633 760.5h1M644 760.5h2M565 761.5h1M574 761.5h1M579 761.5h1M588 761.5h1M634 761.5h1M650 761.5h1M578 762.5h3M582 762.5h1M587 762.5h1M589 762.5h1M592 762.5h2M630 762.5h1M635 762.5h1M650 762.5h1M572 763.5h1M574 763.5h2M578 763.5h1M581 763.5h3M588 763.5h1M590 763.5h1M594 763.5h1M630 763.5h1M636 763.5h1M638 763.5h1M557 764.5h1M575 764.5h1M579 764.5h1M598 764.5h1M629 764.5h1M631 764.5h1M636 764.5h1M557 765.5h1M570 765.5h2M581 765.5h1M598 765.5h1M625 765.5h1M632 765.5h2M558 766.5h1M567 766.5h1M569 766.5h1M579 766.5h1M582 766.5h2M635 766.5h2M563 767.5h1M580 767.5h1M583 767.5h1M586 767.5h1M589 767.5h1M591 767.5h2M596 767.5h1M599 767.5h1M601 767.5h1M629 767.5h1M634 767.5h1M563 768.5h1M575 768.5h1M577 768.5h1M588 768.5h1M592 768.5h1M633 768.5h1M639 768.5h2M574 769.5h1M576 769.5h2M587 769.5h1M589 769.5h1M594 769.5h1M628 769.5h1M630 769.5h1M633 769.5h1M635 769.5h1M640 769.5h2M562 770.5h2M565 770.5h1M577 770.5h1M580 770.5h1M583 770.5h1M589 770.5h2M593 770.5h1M628 770.5h1M631 770.5h2M574 771.5h2M578 771.5h2M589 771.5h1M627 771.5h1M635 771.5h1M641 771.5h1M576 772.5h3M591 772.5h1M633 772.5h1M635 772.5h1M641 772.5h1M572 773.5h1M574 773.5h2M586 773.5h1M594 773.5h1M601 773.5h1M628 773.5h1M630 773.5h3M572 774.5h1M576 774.5h1M584 774.5h1M588 774.5h2M593 774.5h2M628 774.5h1M630 774.5h1M634 774.5h1M636 774.5h1M639 774.5h1M641 774.5h1M643 774.5h1M558 775.5h1M579 775.5h2M585 775.5h1M591 775.5h3M596 775.5h1M624 775.5h1M626 775.5h1M629 775.5h3M633 775.5h1M637 775.5h2M641 775.5h1M575 776.5h1M577 776.5h1M581 776.5h3M587 776.5h1M595 776.5h1M600 776.5h1M628 776.5h2M632 776.5h1M634 776.5h2M581 777.5h1M584 777.5h1M586 777.5h1M591 777.5h1M593 777.5h1M595 777.5h1M599 777.5h2M629 777.5h1M632 777.5h1M638 777.5h2M575 778.5h1M578 778.5h2M595 778.5h1M622 778.5h1M624 778.5h1M628 778.5h1M631 778.5h1M634 778.5h1M642 778.5h1M576 779.5h3M581 779.5h1M587 779.5h1M590 779.5h2M601 779.5h1M631 779.5h1M580 780.5h1M582 780.5h1M585 780.5h1M587 780.5h1M591 780.5h3M602 780.5h1M611 780.5h1M625 780.5h1M628 780.5h2M574 781.5h1M581 781.5h2M584 781.5h1M587 781.5h1M591 781.5h1M594 781.5h1M597 781.5h1M601 781.5h2M628 781.5h1M630 781.5h1M567 782.5h2M576 782.5h1M581 782.5h1M583 782.5h2M586 782.5h1M591 782.5h1M593 782.5h1M604 782.5h2M634 782.5h2M572 783.5h1M589 783.5h2M598 783.5h2M572 784.5h1M581 784.5h2M585 784.5h2M588 784.5h1M595 784.5h1M634 784.5h1M574 785.5h1M587 785.5h2M590 785.5h1M605 785.5h1M610 785.5h1M618 785.5h1M623 785.5h1M625 785.5h3M632 785.5h1M577 786.5h1M584 786.5h2M591 786.5h2M595 786.5h1M600 786.5h1M602 786.5h1M604 786.5h1M610 786.5h1M621 786.5h2M625 786.5h1M627 786.5h2M630 786.5h1M632 786.5h1M590 787.5h1M595 787.5h1M599 787.5h1M602 787.5h2M622 787.5h2M634 787.5h2M590 788.5h1M595 788.5h2M599 788.5h2M604 788.5h1M616 788.5h1M618 788.5h1M620 788.5h1M622 788.5h1M626 788.5h1M632 788.5h2M578 789.5h4M594 789.5h1M598 789.5h2M604 789.5h1M612 789.5h1M614 789.5h1M621 789.5h1M624 789.5h1M593 790.5h3M599 790.5h1M603 790.5h1M607 790.5h1M620 790.5h1M592 791.5h1M595 791.5h1M609 791.5h1M614 791.5h1M617 791.5h2M620 791.5h1M635 791.5h1M585 792.5h3M609 792.5h2M620 792.5h2M624 792.5h2M635 792.5h1M645 792.5h1M591 793.5h1M604 793.5h2M607 793.5h1M611 793.5h1M613 793.5h1M615 793.5h4M633 793.5h1M645 793.5h1M606 794.5h1M608 794.5h1M610 794.5h1M615 794.5h1M620 794.5h1M623 794.5h1M633 794.5h1M587 795.5h2M597 795.5h1M607 795.5h1M616 795.5h1M620 795.5h1M622 795.5h1M625 795.5h1M599 796.5h1M601 796.5h1M603 796.5h1M605 796.5h1M608 796.5h1M617 796.5h1M637 796.5h1M592 797.5h1M595 797.5h1M599 797.5h1M625 797.5h2M637 797.5h1M592 798.5h2M595 798.5h1M597 798.5h2M602 798.5h1M604 798.5h1M608 798.5h1M615 798.5h1M619 798.5h1M621 798.5h2M602 799.5h1M605 799.5h1M608 799.5h1M611 799.5h2M615 799.5h1M618 799.5h2M603 800.5h2M611 800.5h1M613 800.5h1M616 800.5h1M618 800.5h2M629 800.5h1M631 800.5h1M597 801.5h1M603 801.5h2M611 801.5h1M624 801.5h1M597 802.5h1M603 802.5h2M611 802.5h1M613 802.5h1M624 802.5h1M592 803.5h1M599 803.5h2M619 803.5h1M627 803.5h1M604 804.5h1M619 804.5h1M602 806.5h2M609 806.5h1M611 806.5h1M606 808.5h1M622 808.5h1M627 808.5h1M536 811.5h1M536 812.5h1" stroke="#3a3a3a" stroke-width="1" fill="none"/>
<path d="M614 701.5h1M607 702.5h2M612 702.5h1M603 703.5h2M607 703.5h1M612 703.5h1M622 703.5h1M600 704.5h1M607 704.5h1M610 704.5h2M614 704.5h1M618 704.5h2M623 704.5h1M599 705.5h1M606 705.5h1M619 705.5h1M600 706.5h1M612 706.5h1M614 706.5h2M614 707.5h1M621 707.5h1M631 707.5h1M593 708.5h1M605 708.5h2M620 708.5h2M629 708.5h1M631 708.5h2M593 709.5h2M604 709.5h2M611 709.5h1M623 709.5h1M628 709.5h2M599 710.5h1M602 710.5h1M607 710.5h1M612 710.5h1M615 710.5h1M622 710.5h1M592 711.5h1M600 711.5h2M612 711.5h1M614 711.5h2M617 711.5h1M629 711.5h2M591 712.5h1M599 712.5h1M602 712.5h1M605 712.5h2M618 712.5h1M623 712.5h1M626 712.5h1M629 712.5h1M597 713.5h1M599 713.5h1M608 713.5h1M613 713.5h1M620 713.5h1M631 713.5h1M590 714.5h2M596 714.5h1M604 714.5h1M627 714.5h1M630 714.5h1M591 715.5h1M627 715.5h2M589 716.5h2M600 716.5h1M607 716.5h1M636 716.5h1M590 717.5h1M629 717.5h1M632 717.5h1M637 717.5h1M590 718.5h1M611 718.5h2M629 718.5h1M590 719.5h2M601 719.5h1M622 719.5h1M628 719.5h1M632 719.5h1M597 720.5h2M600 720.5h1M603 720.5h1M622 720.5h1M626 720.5h1M631 720.5h1M634 720.5h1M587 721.5h1M594 721.5h4M600 721.5h2M627 721.5h1M630 721.5h1M633 721.5h1M590 722.5h2M627 722.5h1M629 722.5h1M591 723.5h2M595 723.5h1M601 723.5h1M626 723.5h1M635 723.5h1M597 724.5h1M599 724.5h1M626 724.5h1M636 724.5h1M638 724.5h1M592 725.5h2M600 725.5h1M629 725.5h1M589 726.5h3M596 726.5h1M627 726.5h1M629 726.5h2M633 726.5h1M635 726.5h1M590 727.5h1M592 727.5h1M627 727.5h1M629 727.5h1M632 727.5h1M627 728.5h1M640 728.5h1M590 729.5h2M595 729.5h2M629 729.5h1M633 729.5h2M637 729.5h1M639 729.5h1M578 730.5h1M590 730.5h1M593 730.5h1M597 730.5h1M632 730.5h1M578 731.5h2M625 731.5h1M628 731.5h1M633 731.5h1M636 731.5h3M591 732.5h2M596 732.5h2M633 732.5h2M638 732.5h2M584 733.5h1M630 733.5h1M634 733.5h1M583 734.5h2M626 734.5h3M631 734.5h2M639 734.5h1M588 735.5h1M590 735.5h1M638 735.5h2M632 736.5h1M636 736.5h2M590 737.5h1M626 737.5h1M633 737.5h3M639 737.5h1M641 737.5h1M590 738.5h1M592 738.5h1M599 738.5h1M631 738.5h1M635 738.5h1M638 738.5h2M587 739.5h1M590 739.5h1M595 739.5h1M635 739.5h1M588 740.5h1M595 740.5h1M598 740.5h1M584 741.5h1M593 741.5h1M595 741.5h1M597 741.5h1M632 741.5h1M580 742.5h1M630 742.5h1M634 742.5h1M637 742.5h1M640 742.5h1M581 743.5h1M585 743.5h2M632 743.5h2M636 743.5h1M638 743.5h1M585 744.5h1M588 744.5h1M638 744.5h1M651 744.5h1M583 745.5h1M587 745.5h2M632 745.5h2M650 745.5h1M562 746.5h1M633 746.5h2M561 747.5h1M573 747.5h1M576 747.5h1M580 747.5h1M586 747.5h1M595 747.5h1M629 747.5h1M573 748.5h2M577 748.5h1M581 748.5h1M586 748.5h1M596 748.5h1M637 748.5h1M590 749.5h2M594 749.5h1M596 749.5h1M631 749.5h1M578 750.5h3M583 750.5h1M583 751.5h2M587 751.5h1M594 751.5h1M633 751.5h1M635 751.5h1M643 751.5h1M571 752.5h1M578 752.5h1M581 752.5h3M632 752.5h1M639 752.5h2M642 752.5h2M570 753.5h1M577 753.5h1M581 753.5h1M584 753.5h1M590 753.5h1M596 753.5h1M630 753.5h1M633 753.5h1M639 753.5h1M590 754.5h1M596 754.5h1M630 754.5h1M579 755.5h1M584 755.5h1M635 755.5h1M578 756.5h2M586 756.5h2M589 756.5h1M595 756.5h1M635 756.5h2M640 756.5h1M583 757.5h1M588 757.5h1M593 757.5h1M576 758.5h1M579 758.5h1M583 758.5h1M632 758.5h1M634 758.5h2M577 759.5h2M581 759.5h1M588 759.5h1M597 759.5h1M573 760.5h1M588 760.5h1M631 760.5h1M575 761.5h1M581 761.5h1M632 761.5h1M635 761.5h2M571 762.5h1M575 762.5h2M633 762.5h1M637 762.5h1M569 763.5h2M587 763.5h1M589 763.5h1M592 763.5h1M570 764.5h1M578 764.5h1M630 764.5h1M634 764.5h1M576 765.5h2M580 765.5h1M557 766.5h1M570 766.5h1M573 766.5h2M629 766.5h2M632 766.5h1M557 767.5h2M569 767.5h1M577 767.5h1M585 767.5h1M633 767.5h1M635 767.5h1M639 767.5h2M559 768.5h1M562 768.5h1M566 768.5h1M573 768.5h2M579 768.5h1M629 768.5h3M635 768.5h1M560 769.5h2M566 769.5h1M578 769.5h1M580 769.5h2M573 770.5h1M578 770.5h1M629 770.5h1M634 770.5h1M573 771.5h1M628 771.5h2M639 771.5h1M585 772.5h1M632 772.5h1M634 772.5h1M638 772.5h1M580 773.5h1M582 773.5h1M587 773.5h1M593 773.5h1M627 773.5h1M634 773.5h1M642 773.5h1M581 774.5h1M585 774.5h1M596 774.5h1M637 774.5h1M557 775.5h1M589 775.5h1M636 775.5h1M642 775.5h2M557 776.5h2M570 776.5h1M574 776.5h1M579 776.5h1M585 776.5h1M588 776.5h1M631 776.5h1M636 776.5h1M638 776.5h1M571 777.5h1M576 777.5h2M585 777.5h1M587 777.5h2M598 777.5h1M630 777.5h1M633 777.5h1M587 778.5h1M590 778.5h1M592 778.5h3M596 778.5h1M599 778.5h1M629 778.5h2M633 778.5h1M641 778.5h1M580 779.5h1M582 779.5h1M584 779.5h1M592 779.5h1M629 779.5h2M632 779.5h3M641 779.5h2M574 780.5h2M583 780.5h1M589 780.5h1M595 780.5h1M632 780.5h1M575 781.5h3M583 781.5h1M588 781.5h1M590 781.5h1M596 781.5h1M627 781.5h1M569 782.5h1M577 782.5h2M588 782.5h2M596 782.5h1M602 782.5h1M627 782.5h1M631 782.5h1M570 783.5h1M579 783.5h1M584 783.5h1M586 783.5h1M591 783.5h1M594 783.5h4M601 783.5h1M603 783.5h1M630 783.5h1M589 784.5h1M594 784.5h1M600 784.5h1M627 784.5h1M630 784.5h1M633 784.5h1M573 785.5h1M589 785.5h1M599 785.5h1M628 785.5h1M631 785.5h1M633 785.5h2M573 786.5h2M576 786.5h1M597 786.5h1M623 786.5h1M576 787.5h2M584 787.5h1M596 787.5h2M600 787.5h1M629 787.5h1M632 787.5h2M578 788.5h1M585 788.5h1M587 788.5h1M598 788.5h1M603 788.5h1M588 789.5h2M593 789.5h1M601 789.5h1M620 789.5h1M622 789.5h1M625 789.5h1M634 789.5h1M590 790.5h1M601 790.5h1M621 790.5h5M633 790.5h1M591 791.5h1M597 791.5h1M600 791.5h1M605 791.5h1M607 791.5h2M613 791.5h1M621 791.5h1M584 792.5h1M591 792.5h2M595 792.5h1M602 792.5h1M605 792.5h2M611 792.5h1M614 792.5h1M616 792.5h1M569 793.5h1M584 793.5h2M590 793.5h1M596 793.5h1M603 793.5h1M610 793.5h1M620 793.5h3M568 794.5h1M572 794.5h1M590 794.5h2M607 794.5h1M613 794.5h1M616 794.5h1M621 794.5h1M624 794.5h2M643 794.5h1M571 795.5h1M598 795.5h1M602 795.5h1M606 795.5h1M612 795.5h1M615 795.5h1M617 795.5h1M624 795.5h1M628 795.5h1M642 795.5h1M597 796.5h2M606 796.5h1M609 796.5h3M613 796.5h1M618 796.5h2M621 796.5h1M629 796.5h1M593 797.5h1M603 797.5h2M606 797.5h2M611 797.5h1M614 797.5h1M617 797.5h1M619 797.5h1M623 797.5h1M612 798.5h2M617 798.5h1M620 798.5h1M621 799.5h2M627 799.5h1M605 800.5h1M609 800.5h1M626 800.5h1M605 801.5h2M610 801.5h1M614 801.5h1M616 801.5h2M620 801.5h1M623 801.5h1M591 802.5h2M594 802.5h1M599 802.5h1M619 802.5h1M626 802.5h2M591 803.5h1M593 803.5h1M598 803.5h1M615 803.5h1M618 803.5h1M626 803.5h1M605 804.5h1M616 804.5h1M618 804.5h1M620 804.5h1M604 805.5h2M610 805.5h2M608 806.5h1M610 806.5h1M606 807.5h4M622 807.5h2M627 807.5h1M607 808.5h1M623 808.5h1M626 808.5h1" stroke="#8a8a8a" stroke-width="1" fill="none"/>
<rect x="531.9" y="696.5" width="124.39999999999998" height="119.89999999999998" fill="none" stroke="#666" stroke-width="0.7"/>
<line x1="536.5" y1="816.4" x2="536.5" y2="818.8" stroke="#888" stroke-width="0.5"/>
<text x="536.5" y="826.2" text-anchor="middle" font-family="&quot;Liberation Sans&quot;, sans-serif" font-size="4.6" fill="#222">0</text>
<line x1="575.8" y1="816.4" x2="575.8" y2="818.8" stroke="#888" stroke-width="0.5"/>
<text x="575.8" y="826.2" text-anchor="middle" font-family="&quot;Liberation Sans&quot;, sans-serif" font-size="4.6" fill="#222">5</text>
<line x1="615.0" y1="816.4" x2="615.0" y2="818.8" stroke="#888" stroke-width="0.5"/>
<text x="615.0" y="826.2" text-anchor="middle" font-family="&quot;Liberation Sans&quot;, sans-serif" font-size="4.6" fill="#222">10</text>
<line x1="654.2" y1="816.4" x2="654.2" y2="818.8" stroke="#888" stroke-width="0.5"/>
<text x="654.2" y="826.2" text-anchor="middle" font-family="&quot;Liberation Sans&quot;, sans-serif" font-size="4.6" fill="#222">15</text>
<line x1="529.1" y1="812.0" x2="531.9" y2="812.0" stroke="#888" stroke-width="0.5"/>
<text x="525.5" y="812.0" text-anchor="middle" transform="rotate(-90 525.5 812.0)" font-family="&quot;Liberation Sans&quot;, sans-serif" font-size="4.6" fill="#222">0.0</text>
<line x1="529.1" y1="792.5" x2="531.9" y2="792.5" stroke="#888" stroke-width="0.5"/>
<text x="525.5" y="792.5" text-anchor="middle" transform="rotate(-90 525.5 792.5)" font-family="&quot;Liberation Sans&quot;, sans-serif" font-size="4.6" fill="#222">0.5</text>
<line x1="529.1" y1="773.1" x2="531.9" y2="773.1" stroke="#888" stroke-width="0.5"/>
<text x="525.5" y="773.1" text-anchor="middle" transform="rotate(-90 525.5 773.1)" font-family="&quot;Liberation Sans&quot;, sans-serif" font-size="4.6" fill="#222">1.0</text>
<line x1="529.1" y1="753.6" x2="531.9" y2="753.6" stroke="#888" stroke-width="0.5"/>
<text x="525.5" y="753.6" text-anchor="middle" transform="rotate(-90 525.5 753.6)" font-family="&quot;Liberation Sans&quot;, sans-serif" font-size="4.6" fill="#222">1.5</text>
<line x1="529.1" y1="734.2" x2="531.9" y2="734.2" stroke="#888" stroke-width="0.5"/>
<text x="525.5" y="734.2" text-anchor="middle" transform="rotate(-90 525.5 734.2)" font-family="&quot;Liberation Sans&quot;, sans-serif" font-size="4.6" fill="#222">2.0</text>
<line x1="529.1" y1="714.8" x2="531.9" y2="714.8" stroke="#888" stroke-width="0.5"/>
<text x="525.5" y="714.8" text-anchor="middle" transform="rotate(-90 525.5 714.8)" font-family="&quot;Liberation Sans&quot;, sans-serif" font-size="4.6" fill="#222">2.5</text>
<text x="594.1" y="838" text-anchor="middle" font-family="&quot;Liberation Sans&quot;, sans-serif" font-size="6.9" fill="#222">log2(HSPB1 TPM)</text>
<text x="513.0" y="756" text-anchor="middle" transform="rotate(-90 513.0 756)" font-family="&quot;Liberation Sans&quot;, sans-serif" font-size="7.1" fill="#222">log2(6 Signatures TPM)</text>
<text x="539.3" y="705.1" font-family="&quot;Liberation Sans&quot;, sans-serif" font-size="6.0" fill="#000">p−value = 1.6e-07</text>
<text x="539.3" y="712.0" font-family="&quot;Liberation Sans&quot;, sans-serif" font-size="6.0" fill="#000">R = 0.053</text>
</g>
</svg>
</body></html>
